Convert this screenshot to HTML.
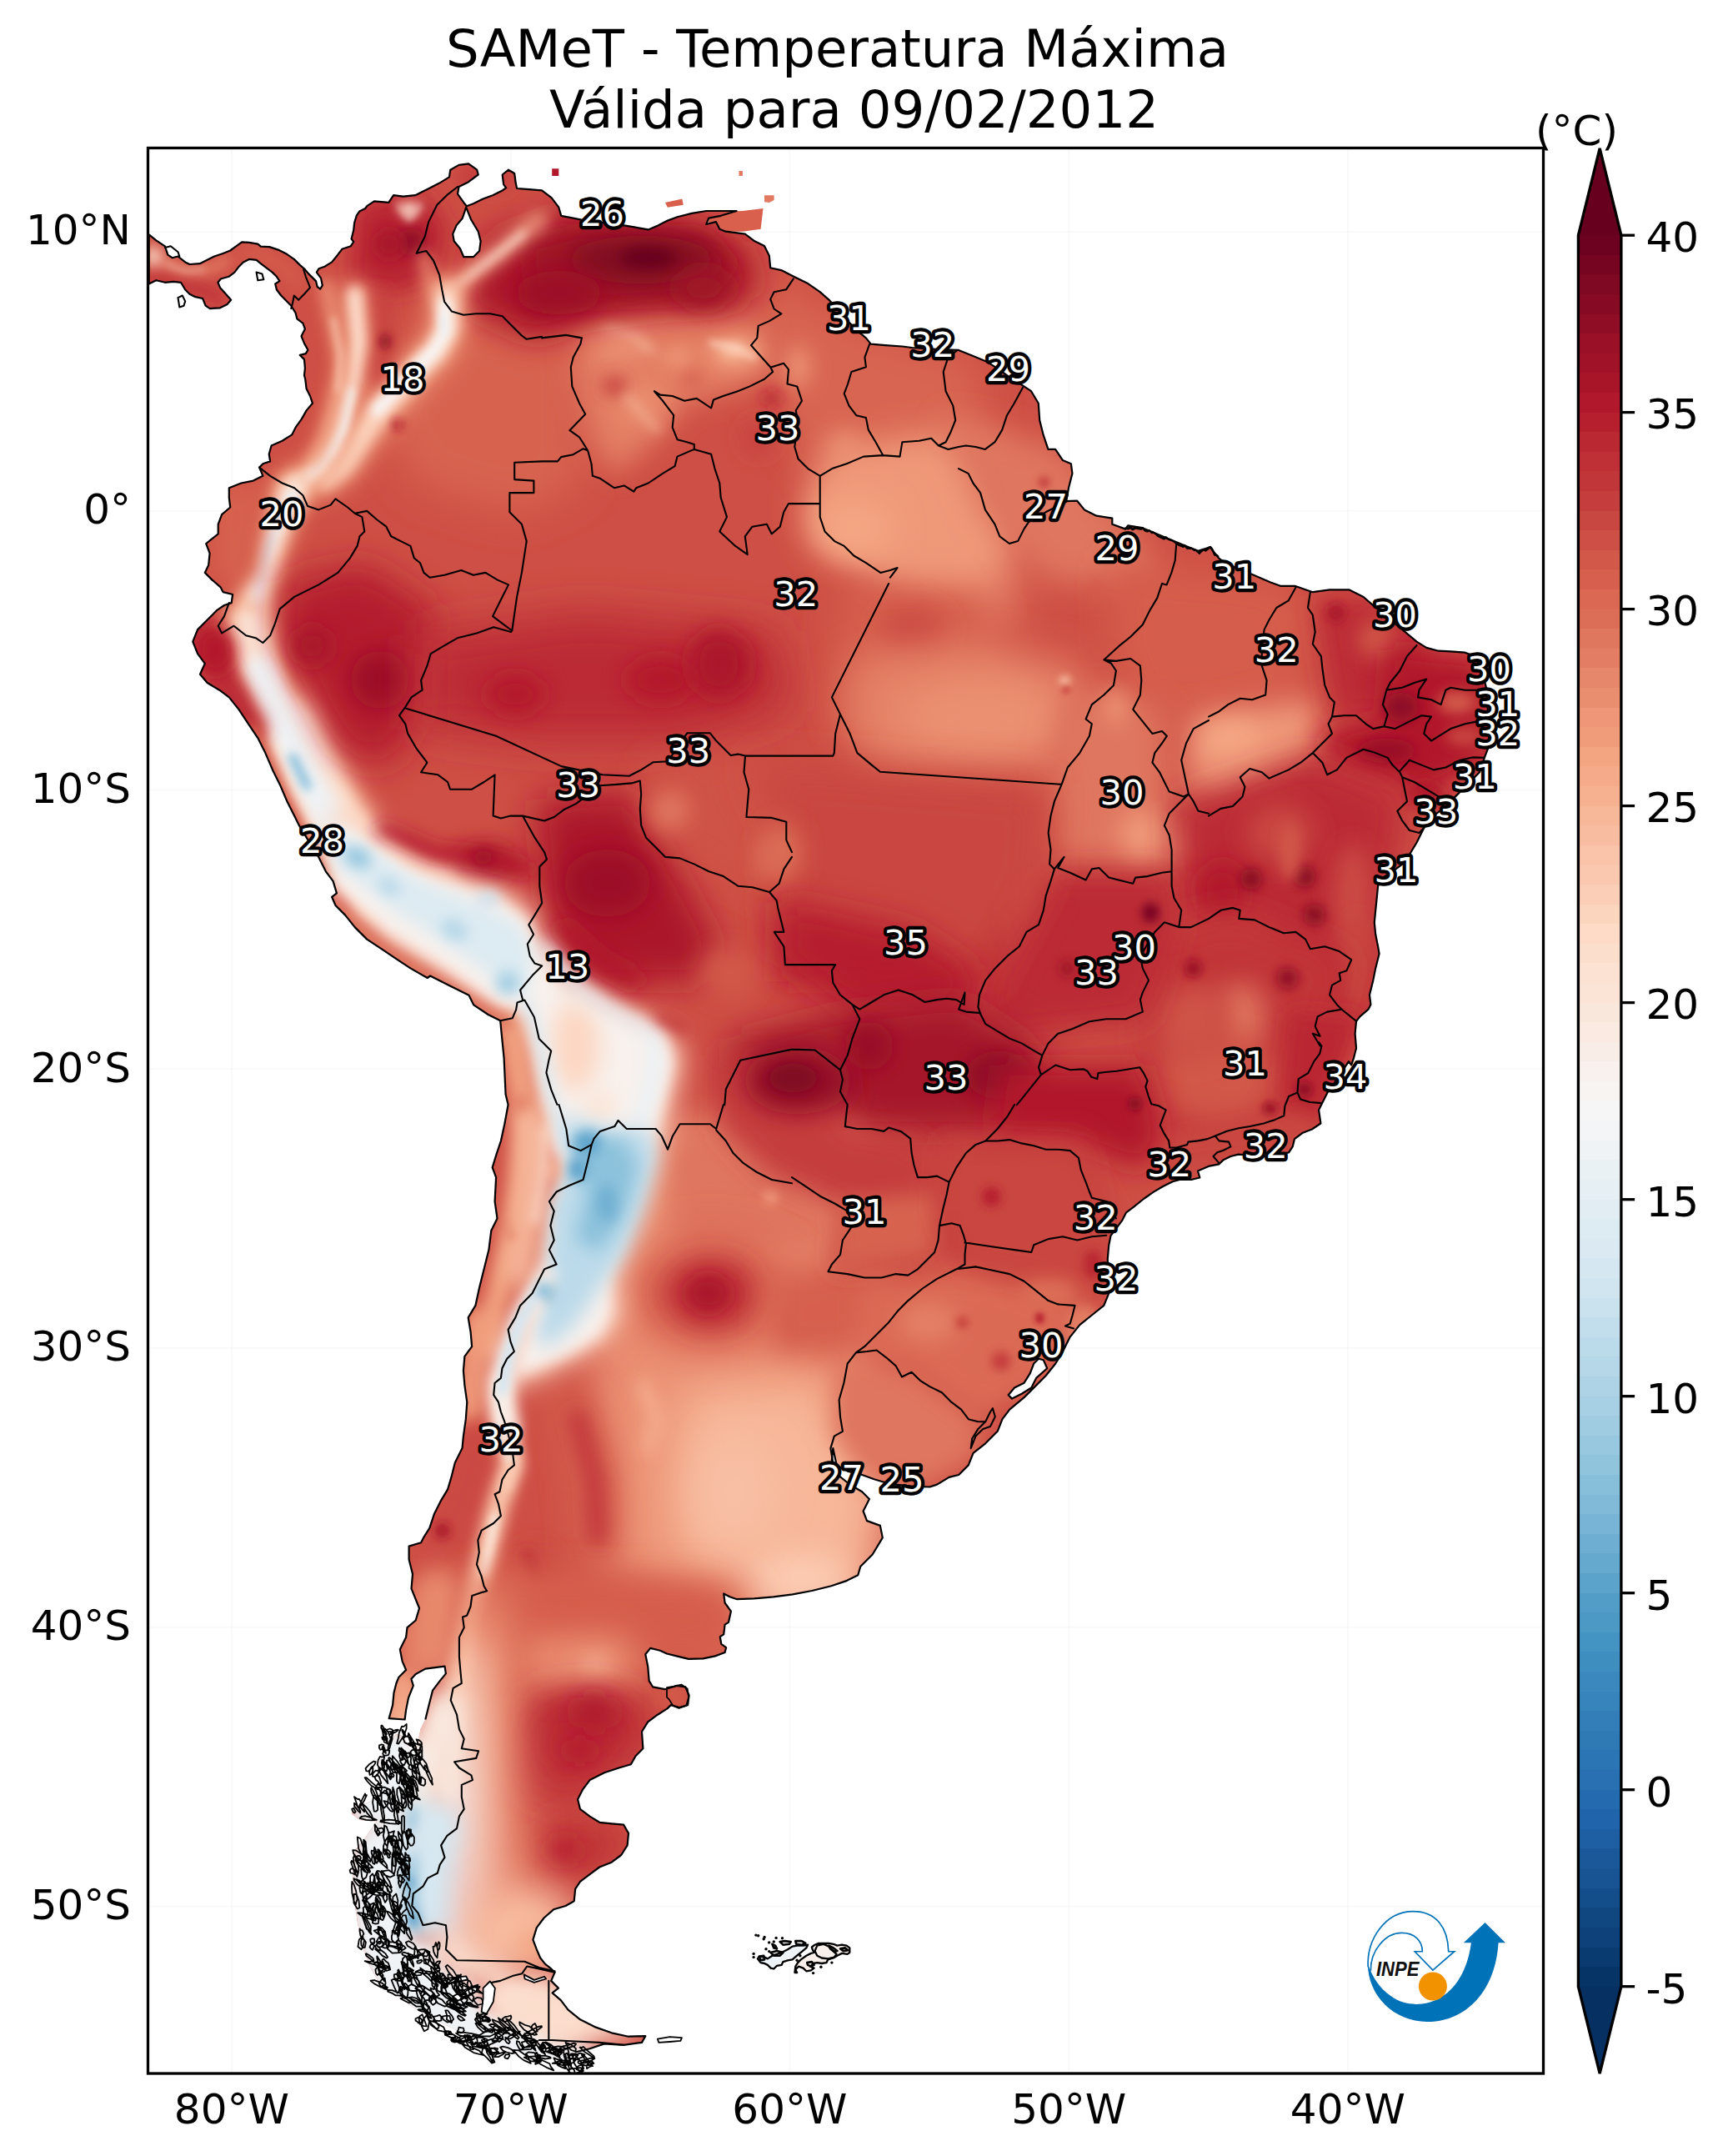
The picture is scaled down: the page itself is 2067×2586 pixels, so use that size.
<!DOCTYPE html><html><head><meta charset="utf-8"><title>SAMeT - Temperatura Máxima</title>
<style>html,body{margin:0;padding:0;background:#fff;overflow:hidden}svg{display:block}text{font-family:"DejaVu Sans","Liberation Sans",sans-serif}</style></head><body>
<svg width="2067" height="2586" viewBox="0 0 2067 2586">
<rect width="2067" height="2586" fill="#fff"/>
<defs>
<clipPath id="ax"><rect x="177.5" y="177.5" width="1674.0" height="2309.5"/></clipPath>
<clipPath id="land" clip-rule="evenodd"><path d="M178.7,281.3 L187.4,288.3 L197.9,295.3 L201.3,305.7 L206.6,309.2 L213.5,307.5 L222.2,314.4 L227.5,317.0 L239.7,316.2 L246.6,312.7 L257.1,307.5 L267.5,304.0 L276.2,300.5 L283.2,295.3 L290.1,290.4 L298.9,290.9 L309.3,292.7 L312.8,295.6 L323.2,296.1 L333.7,299.6 L344.1,304.8 L352.8,310.9 L359.8,317.9 L365.0,322.3 L370.2,328.4 L375.5,333.6 L379.0,337.1 L380.7,344.0 L384.2,346.6 L386.8,342.3 L385.0,333.6 L379.8,326.6 L382.4,322.3 L389.4,319.7 L398.1,314.4 L405.1,305.7 L410.3,298.8 L420.7,295.3 L424.2,290.0 L421.6,286.6 L424.2,276.1 L425.1,267.4 L427.7,258.7 L431.2,253.5 L438.2,250.0 L440.2,247.2 L448.9,241.4 L466.3,242.9 L472.1,234.2 L483.7,235.6 L498.2,234.2 L512.7,226.9 L527.2,219.6 L538.9,212.4 L540.3,203.7 L550.5,197.9 L562.1,196.4 L572.2,203.7 L573.7,209.5 L562.1,218.2 L550.5,224.0 L549.0,232.7 L556.3,242.9 L559.8,247.2 L567.9,244.3 L579.5,238.5 L591.1,234.2 L602.7,228.4 L607.1,225.4 L604.1,221.1 L602.7,209.5 L610.0,203.7 L617.2,208.0 L618.7,219.6 L620.1,226.0 L631.7,226.9 L650.0,228.4 L661.6,237.1 L670.3,248.7 L673.2,258.8 L687.7,261.7 L702.2,264.6 L725.4,267.5 L748.7,270.4 L766.1,273.3 L777.7,275.4 L789.3,270.4 L800.9,264.6 L812.5,260.3 L829.9,255.9 L847.3,253.0 L870.5,253.0 L883.6,253.0 L864.7,258.8 L850.2,261.7 L847.3,269.0 L858.9,266.1 L863.3,274.8 L870.5,277.7 L882.2,279.1 L893.8,280.6 L905.4,289.3 L917.0,295.1 L922.8,306.7 L924.2,321.2 L937.3,324.1 L951.8,331.4 L969.2,340.1 L983.7,350.2 L995.3,360.4 L1006.9,373.4 L1018.5,386.5 L1030.2,398.1 L1038.9,405.4 L1044.7,412.6 L1062.1,414.1 L1082.4,415.5 L1094.0,417.0 L1114.3,418.4 L1131.7,419.3 L1150.0,419.9 L1167.4,427.1 L1181.9,432.9 L1196.4,441.6 L1212.4,453.3 L1228.4,463.4 L1237.1,469.2 L1245.8,483.7 L1247.2,504.0 L1251.6,521.4 L1257.4,538.9 L1266.1,538.9 L1274.8,551.9 L1284.9,556.3 L1286.4,567.9 L1282.0,585.3 L1279.1,601.2 L1292.2,600.7 L1300.9,611.4 L1315.4,618.7 L1334.3,621.6 L1334.3,628.8 L1350.2,634.6 L1353.1,630.3 L1370.5,633.2 L1388.0,640.4 L1405.4,647.7 L1422.8,654.9 L1437.3,660.7 L1451.8,656.4 L1462.0,669.4 L1469.2,675.2 L1486.6,682.5 L1504.0,689.8 L1524.3,698.5 L1536.0,702.8 L1553.4,702.8 L1574.8,710.2 L1595.1,707.3 L1618.3,707.3 L1635.7,716.0 L1647.3,726.1 L1664.7,740.6 L1682.2,755.1 L1699.6,769.6 L1711.2,776.9 L1725.7,780.7 L1740.2,781.3 L1757.6,782.7 L1769.2,787.1 L1776.5,801.6 L1780.8,816.1 L1783.7,827.7 L1783.7,839.3 L1786.0,862.5 L1786.6,879.9 L1785.2,897.3 L1780.8,908.9 L1775.0,926.3 L1764.9,936.5 L1754.7,946.7 L1746.0,955.4 L1734.4,967.0 L1719.9,978.6 L1708.3,993.1 L1699.6,1010.5 L1690.9,1025.0 L1682.2,1036.6 L1670.5,1045.3 L1658.9,1052.6 L1653.1,1062.7 L1651.7,1077.2 L1650.2,1091.8 L1648.8,1106.3 L1650.2,1120.8 L1653.1,1135.3 L1654.6,1144.0 L1650.2,1161.4 L1647.3,1175.9 L1643.0,1193.3 L1644.4,1204.9 L1641.5,1210.7 L1631.4,1219.4 L1627.0,1225.2 L1625.6,1239.8 L1627.0,1257.2 L1624.1,1268.8 L1621.2,1277.5 L1618.0,1273.2 L1604.1,1294.1 L1592.5,1310.4 L1586.7,1322.0 L1582.1,1331.3 L1584.4,1347.5 L1573.9,1354.5 L1562.3,1359.1 L1553.0,1366.1 L1550.7,1375.4 L1546.1,1382.3 L1532.2,1384.6 L1515.9,1386.5 L1499.7,1385.8 L1485.7,1384.6 L1476.4,1387.0 L1467.2,1391.6 L1462.5,1396.3 L1450.9,1398.6 L1437.0,1404.4 L1439.3,1412.5 L1430.0,1414.8 L1416.1,1414.8 L1406.8,1417.2 L1395.2,1423.0 L1383.6,1429.9 L1372.0,1438.0 L1360.4,1447.3 L1351.1,1454.3 L1346.4,1463.6 L1339.5,1472.9 L1332.5,1482.2 L1330.2,1493.8 L1328.7,1510.7 L1330.2,1531.0 L1330.2,1551.3 L1324.3,1565.9 L1309.8,1577.5 L1295.3,1589.1 L1283.7,1603.6 L1275.0,1621.0 L1266.3,1635.5 L1254.7,1650.0 L1243.1,1661.6 L1228.6,1676.1 L1211.2,1690.6 L1202.5,1702.2 L1196.7,1716.8 L1182.2,1731.3 L1167.6,1742.9 L1161.8,1757.4 L1150.2,1769.0 L1138.6,1771.9 L1124.1,1780.6 L1115.4,1783.5 L1095.1,1782.9 L1074.8,1780.6 L1060.3,1777.7 L1048.7,1774.2 L1034.2,1769.0 L1016.7,1764.6 L1003.7,1757.4 L999.3,1737.1 L997.9,1751.6 L1005.1,1769.0 L1019.6,1780.6 L1034.2,1789.3 L1042.9,1798.0 L1035.6,1812.5 L1040.0,1824.1 L1055.9,1829.9 L1058.8,1844.4 L1046.7,1864.5 L1032.2,1879.0 L1029.3,1889.2 L1014.7,1896.4 L997.3,1902.2 L974.1,1908.0 L950.9,1912.4 L927.7,1915.3 L904.5,1917.3 L884.2,1918.2 L875.4,1915.3 L868.2,1911.5 L869.6,1922.5 L876.9,1932.7 L874.0,1945.8 L869.6,1948.7 L868.2,1960.3 L863.8,1963.2 L865.3,1971.9 L871.1,1976.2 L869.6,1982.0 L858.0,1986.4 L843.5,1989.3 L826.1,1989.9 L811.6,1986.4 L800.0,1983.5 L791.8,1979.8 L780.2,1976.9 L774.3,1984.2 L777.2,1998.7 L778.7,2016.1 L783.1,2023.3 L797.6,2026.2 L812.1,2021.9 L822.2,2023.3 L826.6,2033.5 L825.1,2045.1 L815.0,2048.0 L804.8,2045.1 L800.5,2049.4 L788.9,2056.7 L777.2,2065.4 L770.0,2077.0 L771.4,2097.3 L762.7,2106.0 L756.9,2116.2 L742.4,2120.5 L725.0,2126.3 L707.6,2135.1 L698.9,2146.7 L693.1,2158.3 L696.0,2169.9 L707.6,2178.6 L719.2,2185.8 L733.7,2187.3 L748.2,2188.7 L754.0,2198.9 L752.6,2213.4 L745.3,2225.0 L733.7,2233.7 L719.2,2239.5 L707.6,2248.2 L696.0,2256.9 L690.2,2265.6 L688.7,2280.2 L678.6,2286.0 L664.1,2290.3 L652.5,2300.5 L643.8,2312.1 L639.4,2326.6 L643.8,2338.2 L648.1,2348.3 L653.9,2355.6 L661.2,2361.4 L665.5,2365.8 L661.2,2375.9 L669.9,2384.6 L662.6,2390.4 L672.8,2399.1 L681.5,2410.7 L696.0,2422.3 L713.4,2431.1 L733.7,2438.3 L754.0,2442.7 L774.3,2442.1 L770.0,2449.9 L748.2,2452.8 L725.0,2451.4 L707.6,2457.2 L690.2,2461.5 L678.6,2473.1 L661.2,2468.8 L638.0,2465.9 L614.7,2460.1 L588.6,2451.4 L562.5,2442.7 L539.3,2431.1 L516.1,2419.4 L495.8,2407.8 L475.4,2393.3 L455.1,2378.8 L443.5,2358.5 L434.8,2335.3 L429.0,2306.3 L424.7,2277.2 L423.2,2248.2 L426.1,2219.2 L437.7,2204.7 L452.2,2184.4 L431.9,2182.9 L421.8,2175.7 L426.1,2167.0 L443.5,2161.2 L458.0,2146.7 L460.9,2126.3 L455.1,2114.7 L463.8,2091.5 L475.4,2079.9 L484.2,2082.8 L492.9,2103.1 L501.6,2088.6 L504.5,2074.1 L510.3,2062.5 L514.6,2045.1 L519.0,2027.7 L527.7,2016.1 L534.9,2007.4 L533.5,1998.7 L521.9,2000.1 L510.3,2001.6 L498.7,2008.0 L493.4,2013.8 L495.8,2021.9 L490.0,2036.4 L487.1,2050.9 L485.6,2062.5 L466.7,2061.1 L471.1,2045.1 L472.5,2030.6 L475.4,2019.0 L478.4,2011.7 L487.1,2003.0 L482.7,1992.9 L479.8,1978.4 L487.1,1963.8 L488.5,1952.2 L498.7,1943.5 L503.0,1929.0 L493.5,1905.4 L495.0,1888.0 L490.6,1870.6 L490.6,1854.6 L505.1,1850.2 L508.0,1844.4 L515.3,1832.8 L521.1,1815.4 L528.4,1800.9 L537.1,1786.4 L541.4,1771.9 L545.8,1754.5 L554.5,1737.1 L555.9,1722.6 L558.8,1702.2 L560.3,1681.9 L557.4,1661.6 L555.9,1644.2 L557.4,1626.8 L566.1,1615.2 L564.6,1597.8 L561.7,1580.4 L570.4,1565.9 L574.8,1545.5 L580.6,1522.3 L586.4,1499.1 L589.3,1475.9 L596.5,1461.4 L593.6,1441.1 L595.1,1412.1 L590.7,1400.4 L595.1,1385.9 L600.9,1368.5 L605.3,1348.2 L609.6,1325.0 L606.6,1312.7 L604.6,1269.2 L601.7,1240.2 L600.2,1224.2 L585.7,1217.0 L568.3,1205.4 L562.5,1193.8 L539.3,1182.2 L516.1,1170.5 L512.7,1173.0 L492.4,1161.4 L475.0,1149.8 L457.6,1138.2 L440.2,1126.6 L425.7,1112.1 L414.1,1097.6 L402.5,1086.0 L398.1,1075.8 L403.9,1071.4 L399.6,1056.9 L390.9,1045.3 L382.2,1027.9 L370.5,1009.1 L358.9,990.2 L353.1,978.6 L344.4,961.2 L335.7,940.9 L327.0,923.4 L318.3,903.1 L309.6,885.7 L298.0,868.3 L286.4,850.9 L274.8,836.4 L263.2,827.7 L248.7,819.0 L240.0,808.8 L245.8,795.8 L237.1,784.2 L231.3,769.6 L237.1,755.1 L248.7,743.5 L260.3,731.9 L269.0,726.0 L277.7,723.1 L279.1,713.0 L267.5,710.1 L264.6,704.3 L254.5,695.6 L245.8,686.9 L250.1,678.1 L251.6,663.6 L247.2,652.0 L254.5,646.2 L261.7,640.4 L261.7,628.8 L266.1,617.2 L276.2,608.5 L274.8,596.9 L274.8,585.3 L289.3,579.5 L303.8,576.6 L315.4,570.8 L311.1,560.6 L315.4,556.3 L324.1,553.4 L322.7,544.7 L325.6,534.5 L338.6,528.7 L350.2,521.4 L354.6,512.7 L361.8,502.6 L367.6,492.4 L374.9,483.7 L372.0,475.0 L367.6,466.3 L366.2,454.7 L365.0,450.1 L365.9,441.5 L365.0,431.1 L359.8,425.9 L366.8,424.1 L369.4,419.8 L365.0,411.9 L361.5,403.2 L365.9,394.5 L363.3,387.6 L356.3,382.3 L354.6,375.4 L349.3,366.7 L344.1,361.4 L337.2,354.5 L331.9,347.5 L330.2,340.5 L335.4,337.1 L331.9,331.8 L326.7,326.6 L319.7,321.4 L312.8,316.2 L307.6,311.8 L298.9,310.9 L291.9,314.4 L286.7,319.7 L281.4,326.6 L274.5,331.8 L264.9,334.5 L261.4,338.8 L264.0,344.9 L271.0,352.7 L277.1,359.7 L272.7,364.9 L264.0,369.3 L251.8,370.1 L246.6,366.7 L243.1,358.0 L234.4,356.2 L227.5,352.7 L222.2,347.5 L217.0,338.8 L208.3,337.9 L197.9,338.8 L187.4,336.2 L178.7,340.5Z M559.2,248.7 L565.0,263.2 L573.7,277.7 L576.6,289.3 L575.1,300.9 L567.9,308.2 L556.3,308.2 L551.9,298.0 L544.7,289.3 L543.2,280.6 L547.6,270.4 L554.8,261.7Z M1251.8,1631.2 L1256.2,1641.3 L1243.1,1652.9 L1237.3,1664.5 L1225.7,1671.8 L1214.1,1677.6 L1209.7,1673.2 L1217.0,1664.5 L1228.6,1658.7 L1235.8,1647.1 L1240.2,1635.5 L1246.0,1629.7Z" clip-rule="evenodd"/></clipPath>
<filter id="b2" x="-50%" y="-50%" width="200%" height="200%"><feGaussianBlur stdDeviation="2"/></filter>
<filter id="b3" x="-50%" y="-50%" width="200%" height="200%"><feGaussianBlur stdDeviation="3"/></filter>
<filter id="b4" x="-50%" y="-50%" width="200%" height="200%"><feGaussianBlur stdDeviation="4"/></filter>
<filter id="b5" x="-50%" y="-50%" width="200%" height="200%"><feGaussianBlur stdDeviation="5"/></filter>
<filter id="b6" x="-50%" y="-50%" width="200%" height="200%"><feGaussianBlur stdDeviation="6"/></filter>
<filter id="b7" x="-50%" y="-50%" width="200%" height="200%"><feGaussianBlur stdDeviation="7"/></filter>
<filter id="b8" x="-50%" y="-50%" width="200%" height="200%"><feGaussianBlur stdDeviation="8"/></filter>
<filter id="b9" x="-50%" y="-50%" width="200%" height="200%"><feGaussianBlur stdDeviation="9"/></filter>
<filter id="b10" x="-50%" y="-50%" width="200%" height="200%"><feGaussianBlur stdDeviation="10"/></filter>
<filter id="b12" x="-50%" y="-50%" width="200%" height="200%"><feGaussianBlur stdDeviation="12"/></filter>
<filter id="b14" x="-50%" y="-50%" width="200%" height="200%"><feGaussianBlur stdDeviation="14"/></filter>
<filter id="b16" x="-50%" y="-50%" width="200%" height="200%"><feGaussianBlur stdDeviation="16"/></filter>
<filter id="b18" x="-50%" y="-50%" width="200%" height="200%"><feGaussianBlur stdDeviation="18"/></filter>
<filter id="b20" x="-50%" y="-50%" width="200%" height="200%"><feGaussianBlur stdDeviation="20"/></filter>
<filter id="b22" x="-50%" y="-50%" width="200%" height="200%"><feGaussianBlur stdDeviation="22"/></filter>
<filter id="b24" x="-50%" y="-50%" width="200%" height="200%"><feGaussianBlur stdDeviation="24"/></filter>
<filter id="b26" x="-50%" y="-50%" width="200%" height="200%"><feGaussianBlur stdDeviation="26"/></filter>
<filter id="b28" x="-50%" y="-50%" width="200%" height="200%"><feGaussianBlur stdDeviation="28"/></filter>
<filter id="b30" x="-50%" y="-50%" width="200%" height="200%"><feGaussianBlur stdDeviation="30"/></filter>
<filter id="b32" x="-50%" y="-50%" width="200%" height="200%"><feGaussianBlur stdDeviation="32"/></filter>
<filter id="b48" x="-50%" y="-50%" width="200%" height="200%"><feGaussianBlur stdDeviation="48"/></filter>
</defs>
<g clip-path="url(#ax)">
<line x1="277.9" x2="277.9" y1="177.5" y2="2487.0" stroke="#000" stroke-opacity="0.025" stroke-width="2"/>
<line x1="612.7" x2="612.7" y1="177.5" y2="2487.0" stroke="#000" stroke-opacity="0.025" stroke-width="2"/>
<line x1="947.4" x2="947.4" y1="177.5" y2="2487.0" stroke="#000" stroke-opacity="0.025" stroke-width="2"/>
<line x1="1282.2" x2="1282.2" y1="177.5" y2="2487.0" stroke="#000" stroke-opacity="0.025" stroke-width="2"/>
<line x1="1616.9" x2="1616.9" y1="177.5" y2="2487.0" stroke="#000" stroke-opacity="0.025" stroke-width="2"/>
<line y1="277.9" y2="277.9" x1="177.5" x2="1851.5" stroke="#000" stroke-opacity="0.025" stroke-width="2"/>
<line y1="612.7" y2="612.7" x1="177.5" x2="1851.5" stroke="#000" stroke-opacity="0.025" stroke-width="2"/>
<line y1="947.4" y2="947.4" x1="177.5" x2="1851.5" stroke="#000" stroke-opacity="0.025" stroke-width="2"/>
<line y1="1282.2" y2="1282.2" x1="177.5" x2="1851.5" stroke="#000" stroke-opacity="0.025" stroke-width="2"/>
<line y1="1616.9" y2="1616.9" x1="177.5" x2="1851.5" stroke="#000" stroke-opacity="0.025" stroke-width="2"/>
<line y1="1951.7" y2="1951.7" x1="177.5" x2="1851.5" stroke="#000" stroke-opacity="0.025" stroke-width="2"/>
<line y1="2286.4" y2="2286.4" x1="177.5" x2="1851.5" stroke="#000" stroke-opacity="0.025" stroke-width="2"/>
<path d="M850.2,254.5 L890.9,253.0 L915.5,250.1 L912.6,274.8 L890.9,277.7 L864.7,277.7 L850.2,269.0Z" fill="#d9604c"/>
<path d="M917.0,234.2 L928.6,234.2 L928.6,240.0 L922.8,242.9 L917.0,242.3Z" fill="#e27a62"/>
<path d="M662.2,202.2 L670.3,202.2 L670.3,210.9 L662.2,210.9Z" fill="#b2182b"/>
<path d="M886.5,205.1 L890.9,205.1 L890.9,210.9 L886.5,210.9Z" fill="#e27a62"/>
<path d="M798.0,242.9 L818.3,238.5 L819.8,245.8 L800.9,248.7Z" fill="#d9604c"/>
<g clip-path="url(#land)">
<rect x="177.5" y="177.5" width="1674.0" height="2309.5" fill="#ce4f45"/>
<defs><filter id="f1" filterUnits="userSpaceOnUse" x="376" y="295" width="398" height="398"><feGaussianBlur stdDeviation="24"/></filter><filter id="f2" filterUnits="userSpaceOnUse" x="828" y="248" width="423" height="409"><feGaussianBlur stdDeviation="24"/></filter><filter id="f3" filterUnits="userSpaceOnUse" x="898" y="439" width="398" height="404"><feGaussianBlur stdDeviation="28"/></filter><filter id="f4" filterUnits="userSpaceOnUse" x="898" y="480" width="276" height="276"><feGaussianBlur stdDeviation="24"/></filter><filter id="f5" filterUnits="userSpaceOnUse" x="638" y="315" width="338" height="306"><feGaussianBlur stdDeviation="16"/></filter><filter id="f6" filterUnits="userSpaceOnUse" x="812" y="353" width="140" height="140"><feGaussianBlur stdDeviation="12"/></filter><filter id="f7" filterUnits="userSpaceOnUse" x="842" y="382" width="75" height="75"><feGaussianBlur stdDeviation="7"/></filter><filter id="f8" filterUnits="userSpaceOnUse" x="670" y="335" width="152" height="152"><feGaussianBlur stdDeviation="14"/></filter><filter id="f9" filterUnits="userSpaceOnUse" x="693" y="411" width="146" height="146"><feGaussianBlur stdDeviation="14"/></filter><filter id="f10" filterUnits="userSpaceOnUse" x="893" y="376" width="128" height="128"><feGaussianBlur stdDeviation="12"/></filter><filter id="f11" filterUnits="userSpaceOnUse" x="763" y="379" width="99" height="99"><feGaussianBlur stdDeviation="10"/></filter><filter id="f12" filterUnits="userSpaceOnUse" x="691" y="417" width="93" height="93"><feGaussianBlur stdDeviation="10"/></filter><filter id="f13" filterUnits="userSpaceOnUse" x="786" y="411" width="87" height="87"><feGaussianBlur stdDeviation="10"/></filter><filter id="f14" filterUnits="userSpaceOnUse" x="699" y="364" width="108" height="82"><feGaussianBlur stdDeviation="7"/></filter><filter id="f15" filterUnits="userSpaceOnUse" x="834" y="392" width="91" height="57"><feGaussianBlur stdDeviation="5"/></filter><filter id="f16" filterUnits="userSpaceOnUse" x="726" y="449" width="90" height="92"><feGaussianBlur stdDeviation="7"/></filter><filter id="f17" filterUnits="userSpaceOnUse" x="885" y="437" width="81" height="81"><feGaussianBlur stdDeviation="9"/></filter><filter id="f18" filterUnits="userSpaceOnUse" x="850" y="463" width="123" height="123"><feGaussianBlur stdDeviation="14"/></filter><filter id="f19" filterUnits="userSpaceOnUse" x="948" y="472" width="129" height="129"><feGaussianBlur stdDeviation="14"/></filter><filter id="f20" filterUnits="userSpaceOnUse" x="486" y="190" width="490" height="281"><feGaussianBlur stdDeviation="20"/></filter><filter id="f21" filterUnits="userSpaceOnUse" x="586" y="232" width="343" height="181"><feGaussianBlur stdDeviation="14"/></filter><filter id="f22" filterUnits="userSpaceOnUse" x="638" y="181" width="262" height="262"><feGaussianBlur stdDeviation="14"/></filter><filter id="f23" filterUnits="userSpaceOnUse" x="717" y="249" width="122" height="122"><feGaussianBlur stdDeviation="8"/></filter><filter id="f24" filterUnits="userSpaceOnUse" x="574" y="255" width="192" height="192"><feGaussianBlur stdDeviation="14"/></filter><filter id="f25" filterUnits="userSpaceOnUse" x="766" y="266" width="158" height="158"><feGaussianBlur stdDeviation="14"/></filter><filter id="f26" filterUnits="userSpaceOnUse" x="377" y="185" width="204" height="210"><feGaussianBlur stdDeviation="14"/></filter><filter id="f27" filterUnits="userSpaceOnUse" x="451" y="248" width="85" height="85"><feGaussianBlur stdDeviation="8"/></filter><filter id="f28" filterUnits="userSpaceOnUse" x="424" y="250" width="87" height="87"><feGaussianBlur stdDeviation="8"/></filter><filter id="f29" filterUnits="userSpaceOnUse" x="516" y="145" width="134" height="134"><feGaussianBlur stdDeviation="10"/></filter><filter id="f30" filterUnits="userSpaceOnUse" x="145" y="298" width="154" height="98"><feGaussianBlur stdDeviation="9"/></filter><filter id="f31" filterUnits="userSpaceOnUse" x="151" y="273" width="153" height="81"><feGaussianBlur stdDeviation="8"/></filter><filter id="f32" filterUnits="userSpaceOnUse" x="146" y="269" width="76" height="76"><feGaussianBlur stdDeviation="8"/></filter><filter id="f33" filterUnits="userSpaceOnUse" x="184" y="302" width="76" height="38"><feGaussianBlur stdDeviation="4"/></filter><filter id="f34" filterUnits="userSpaceOnUse" x="259" y="269" width="133" height="105"><feGaussianBlur stdDeviation="9"/></filter><filter id="f35" filterUnits="userSpaceOnUse" x="498" y="222" width="192" height="168"><feGaussianBlur stdDeviation="10"/></filter><filter id="f36" filterUnits="userSpaceOnUse" x="519" y="256" width="133" height="115"><feGaussianBlur stdDeviation="6"/></filter><filter id="f37" filterUnits="userSpaceOnUse" x="474" y="272" width="88" height="122"><feGaussianBlur stdDeviation="9"/></filter><filter id="f38" filterUnits="userSpaceOnUse" x="322" y="287" width="281" height="352"><feGaussianBlur stdDeviation="14"/></filter><filter id="f39" filterUnits="userSpaceOnUse" x="348" y="313" width="229" height="300"><feGaussianBlur stdDeviation="8"/></filter><filter id="f40" filterUnits="userSpaceOnUse" x="424" y="337" width="138" height="183"><feGaussianBlur stdDeviation="6"/></filter><filter id="f41" filterUnits="userSpaceOnUse" x="514" y="363" width="35" height="52"><feGaussianBlur stdDeviation="4"/></filter><filter id="f42" filterUnits="userSpaceOnUse" x="288" y="299" width="196" height="352"><feGaussianBlur stdDeviation="12"/></filter><filter id="f43" filterUnits="userSpaceOnUse" x="309" y="321" width="153" height="308"><feGaussianBlur stdDeviation="7"/></filter><filter id="f44" filterUnits="userSpaceOnUse" x="331" y="447" width="111" height="160"><feGaussianBlur stdDeviation="5"/></filter><filter id="f45" filterUnits="userSpaceOnUse" x="340" y="305" width="107" height="287"><feGaussianBlur stdDeviation="9"/></filter><filter id="f46" filterUnits="userSpaceOnUse" x="380" y="363" width="47" height="126"><feGaussianBlur stdDeviation="5"/></filter><filter id="f47" filterUnits="userSpaceOnUse" x="415" y="314" width="87" height="180"><feGaussianBlur stdDeviation="10"/></filter><filter id="f48" filterUnits="userSpaceOnUse" x="433" y="381" width="57" height="57"><feGaussianBlur stdDeviation="6"/></filter><filter id="f49" filterUnits="userSpaceOnUse" x="449" y="484" width="51" height="51"><feGaussianBlur stdDeviation="5"/></filter><filter id="f50" filterUnits="userSpaceOnUse" x="463" y="489" width="42" height="42"><feGaussianBlur stdDeviation="4"/></filter><filter id="f51" filterUnits="userSpaceOnUse" x="453" y="213" width="75" height="75"><feGaussianBlur stdDeviation="8"/></filter><filter id="f52" filterUnits="userSpaceOnUse" x="469" y="228" width="43" height="43"><feGaussianBlur stdDeviation="5"/></filter><filter id="f53" filterUnits="userSpaceOnUse" x="459" y="227" width="64" height="55"><feGaussianBlur stdDeviation="5"/></filter><filter id="f54" filterUnits="userSpaceOnUse" x="243" y="526" width="170" height="323"><feGaussianBlur stdDeviation="12"/></filter><filter id="f55" filterUnits="userSpaceOnUse" x="261" y="544" width="133" height="285"><feGaussianBlur stdDeviation="8"/></filter><filter id="f56" filterUnits="userSpaceOnUse" x="280" y="571" width="94" height="206"><feGaussianBlur stdDeviation="5"/></filter><filter id="f57" filterUnits="userSpaceOnUse" x="300" y="628" width="40" height="61"><feGaussianBlur stdDeviation="4"/></filter><filter id="f58" filterUnits="userSpaceOnUse" x="203" y="533" width="163" height="210"><feGaussianBlur stdDeviation="14"/></filter><filter id="f59" filterUnits="userSpaceOnUse" x="232" y="680" width="185" height="261"><feGaussianBlur stdDeviation="12"/></filter><filter id="f60" filterUnits="userSpaceOnUse" x="261" y="786" width="277" height="361"><feGaussianBlur stdDeviation="14"/></filter><filter id="f61" filterUnits="userSpaceOnUse" x="255" y="704" width="137" height="214"><feGaussianBlur stdDeviation="8"/></filter><filter id="f62" filterUnits="userSpaceOnUse" x="287" y="813" width="223" height="308"><feGaussianBlur stdDeviation="9"/></filter><filter id="f63" filterUnits="userSpaceOnUse" x="268" y="760" width="225" height="348"><feGaussianBlur stdDeviation="8"/></filter><filter id="f64" filterUnits="userSpaceOnUse" x="326" y="883" width="68" height="85"><feGaussianBlur stdDeviation="6"/></filter><filter id="f65" filterUnits="userSpaceOnUse" x="379" y="976" width="84" height="96"><feGaussianBlur stdDeviation="7"/></filter><filter id="f66" filterUnits="userSpaceOnUse" x="187" y="707" width="165" height="217"><feGaussianBlur stdDeviation="10"/></filter><filter id="f67" filterUnits="userSpaceOnUse" x="197" y="720" width="122" height="122"><feGaussianBlur stdDeviation="10"/></filter><filter id="f68" filterUnits="userSpaceOnUse" x="267" y="845" width="174" height="269"><feGaussianBlur stdDeviation="7"/></filter><filter id="f69" filterUnits="userSpaceOnUse" x="363" y="1038" width="91" height="91"><feGaussianBlur stdDeviation="8"/></filter><filter id="f70" filterUnits="userSpaceOnUse" x="266" y="608" width="328" height="380"><feGaussianBlur stdDeviation="22"/></filter><filter id="f71" filterUnits="userSpaceOnUse" x="377" y="737" width="158" height="158"><feGaussianBlur stdDeviation="14"/></filter><filter id="f72" filterUnits="userSpaceOnUse" x="313" y="714" width="122" height="122"><feGaussianBlur stdDeviation="12"/></filter><filter id="f73" filterUnits="userSpaceOnUse" x="499" y="951" width="169" height="169"><feGaussianBlur stdDeviation="14"/></filter><filter id="f74" filterUnits="userSpaceOnUse" x="422" y="654" width="607" height="317"><feGaussianBlur stdDeviation="26"/></filter><filter id="f75" filterUnits="userSpaceOnUse" x="539" y="754" width="158" height="158"><feGaussianBlur stdDeviation="14"/></filter><filter id="f76" filterUnits="userSpaceOnUse" x="708" y="731" width="169" height="169"><feGaussianBlur stdDeviation="14"/></filter><filter id="f77" filterUnits="userSpaceOnUse" x="795" y="725" width="146" height="146"><feGaussianBlur stdDeviation="14"/></filter><filter id="f78" filterUnits="userSpaceOnUse" x="573" y="881" width="357" height="364"><feGaussianBlur stdDeviation="22"/></filter><filter id="f79" filterUnits="userSpaceOnUse" x="626" y="957" width="204" height="204"><feGaussianBlur stdDeviation="16"/></filter><filter id="f80" filterUnits="userSpaceOnUse" x="719" y="852" width="286" height="286"><feGaussianBlur stdDeviation="18"/></filter><filter id="f81" filterUnits="userSpaceOnUse" x="743" y="911" width="122" height="122"><feGaussianBlur stdDeviation="12"/></filter><filter id="f82" filterUnits="userSpaceOnUse" x="859" y="963" width="134" height="134"><feGaussianBlur stdDeviation="12"/></filter><filter id="f83" filterUnits="userSpaceOnUse" x="863" y="980" width="426" height="265"><feGaussianBlur stdDeviation="22"/></filter><filter id="f84" filterUnits="userSpaceOnUse" x="927" y="614" width="369" height="386"><feGaussianBlur stdDeviation="24"/></filter><filter id="f85" filterUnits="userSpaceOnUse" x="916" y="455" width="362" height="310"><feGaussianBlur stdDeviation="22"/></filter><filter id="f86" filterUnits="userSpaceOnUse" x="923" y="531" width="205" height="205"><feGaussianBlur stdDeviation="18"/></filter><filter id="f87" filterUnits="userSpaceOnUse" x="1074" y="444" width="379" height="321"><feGaussianBlur stdDeviation="18"/></filter><filter id="f88" filterUnits="userSpaceOnUse" x="1229" y="554" width="48" height="48"><feGaussianBlur stdDeviation="5"/></filter><filter id="f89" filterUnits="userSpaceOnUse" x="1004" y="665" width="181" height="181"><feGaussianBlur stdDeviation="16"/></filter><filter id="f90" filterUnits="userSpaceOnUse" x="1278" y="671" width="75" height="75"><feGaussianBlur stdDeviation="8"/></filter><filter id="f91" filterUnits="userSpaceOnUse" x="940" y="699" width="438" height="305"><feGaussianBlur stdDeviation="24"/></filter><filter id="f92" filterUnits="userSpaceOnUse" x="1021" y="705" width="310" height="310"><feGaussianBlur stdDeviation="20"/></filter><filter id="f93" filterUnits="userSpaceOnUse" x="1257" y="795" width="42" height="42"><feGaussianBlur stdDeviation="4"/></filter><filter id="f94" filterUnits="userSpaceOnUse" x="1263" y="812" width="32" height="32"><feGaussianBlur stdDeviation="3"/></filter><filter id="f95" filterUnits="userSpaceOnUse" x="1271" y="612" width="362" height="310"><feGaussianBlur stdDeviation="20"/></filter><filter id="f96" filterUnits="userSpaceOnUse" x="1201" y="769" width="263" height="327"><feGaussianBlur stdDeviation="18"/></filter><filter id="f97" filterUnits="userSpaceOnUse" x="1289" y="920" width="170" height="170"><feGaussianBlur stdDeviation="16"/></filter><filter id="f98" filterUnits="userSpaceOnUse" x="1277" y="787" width="122" height="122"><feGaussianBlur stdDeviation="12"/></filter><filter id="f99" filterUnits="userSpaceOnUse" x="1370" y="781" width="275" height="240"><feGaussianBlur stdDeviation="18"/></filter><filter id="f100" filterUnits="userSpaceOnUse" x="1399" y="807" width="158" height="158"><feGaussianBlur stdDeviation="14"/></filter><filter id="f101" filterUnits="userSpaceOnUse" x="1359" y="952" width="122" height="122"><feGaussianBlur stdDeviation="12"/></filter><filter id="f102" filterUnits="userSpaceOnUse" x="1526" y="665" width="245" height="245"><feGaussianBlur stdDeviation="16"/></filter><filter id="f103" filterUnits="userSpaceOnUse" x="1572" y="705" width="61" height="61"><feGaussianBlur stdDeviation="6"/></filter><filter id="f104" filterUnits="userSpaceOnUse" x="1591" y="706" width="122" height="122"><feGaussianBlur stdDeviation="12"/></filter><filter id="f105" filterUnits="userSpaceOnUse" x="1526" y="729" width="315" height="274"><feGaussianBlur stdDeviation="16"/></filter><filter id="f106" filterUnits="userSpaceOnUse" x="1635" y="802" width="93" height="93"><feGaussianBlur stdDeviation="8"/></filter><filter id="f107" filterUnits="userSpaceOnUse" x="1603" y="840" width="122" height="122"><feGaussianBlur stdDeviation="8"/></filter><filter id="f108" filterUnits="userSpaceOnUse" x="1698" y="793" width="98" height="98"><feGaussianBlur stdDeviation="8"/></filter><filter id="f109" filterUnits="userSpaceOnUse" x="1707" y="834" width="98" height="98"><feGaussianBlur stdDeviation="8"/></filter><filter id="f110" filterUnits="userSpaceOnUse" x="1661" y="903" width="98" height="98"><feGaussianBlur stdDeviation="8"/></filter><filter id="f111" filterUnits="userSpaceOnUse" x="1346" y="844" width="403" height="443"><feGaussianBlur stdDeviation="20"/></filter><filter id="f112" filterUnits="userSpaceOnUse" x="1445" y="909" width="181" height="181"><feGaussianBlur stdDeviation="16"/></filter><filter id="f113" filterUnits="userSpaceOnUse" x="1509" y="967" width="227" height="227"><feGaussianBlur stdDeviation="14"/></filter><filter id="f114" filterUnits="userSpaceOnUse" x="1387" y="990" width="158" height="158"><feGaussianBlur stdDeviation="14"/></filter><filter id="f115" filterUnits="userSpaceOnUse" x="1465" y="1018" width="72" height="72"><feGaussianBlur stdDeviation="7"/></filter><filter id="f116" filterUnits="userSpaceOnUse" x="1529" y="1016" width="72" height="72"><feGaussianBlur stdDeviation="7"/></filter><filter id="f117" filterUnits="userSpaceOnUse" x="1541" y="1062" width="72" height="72"><feGaussianBlur stdDeviation="7"/></filter><filter id="f118" filterUnits="userSpaceOnUse" x="1487" y="962" width="122" height="122"><feGaussianBlur stdDeviation="8"/></filter><filter id="f119" filterUnits="userSpaceOnUse" x="1539" y="1066" width="180" height="180"><feGaussianBlur stdDeviation="10"/></filter><filter id="f120" filterUnits="userSpaceOnUse" x="1311" y="1030" width="368" height="403"><feGaussianBlur stdDeviation="20"/></filter><filter id="f121" filterUnits="userSpaceOnUse" x="1399" y="1129" width="181" height="181"><feGaussianBlur stdDeviation="16"/></filter><filter id="f122" filterUnits="userSpaceOnUse" x="1329" y="1164" width="263" height="263"><feGaussianBlur stdDeviation="18"/></filter><filter id="f123" filterUnits="userSpaceOnUse" x="1335" y="1129" width="193" height="193"><feGaussianBlur stdDeviation="16"/></filter><filter id="f124" filterUnits="userSpaceOnUse" x="1401" y="1131" width="61" height="61"><feGaussianBlur stdDeviation="6"/></filter><filter id="f125" filterUnits="userSpaceOnUse" x="1509" y="1137" width="72" height="72"><feGaussianBlur stdDeviation="7"/></filter><filter id="f126" filterUnits="userSpaceOnUse" x="1498" y="1304" width="53" height="53"><feGaussianBlur stdDeviation="5"/></filter><filter id="f127" filterUnits="userSpaceOnUse" x="1120" y="990" width="350" height="309"><feGaussianBlur stdDeviation="18"/></filter><filter id="f128" filterUnits="userSpaceOnUse" x="1349" y="1063" width="63" height="63"><feGaussianBlur stdDeviation="6"/></filter><filter id="f129" filterUnits="userSpaceOnUse" x="1251" y="1132" width="59" height="59"><feGaussianBlur stdDeviation="6"/></filter><filter id="f130" filterUnits="userSpaceOnUse" x="823" y="838" width="508" height="421"><feGaussianBlur stdDeviation="24"/></filter><filter id="f131" filterUnits="userSpaceOnUse" x="876" y="1018" width="362" height="257"><feGaussianBlur stdDeviation="20"/></filter><filter id="f132" filterUnits="userSpaceOnUse" x="806" y="1128" width="519" height="299"><feGaussianBlur stdDeviation="22"/></filter><filter id="f133" filterUnits="userSpaceOnUse" x="848" y="1193" width="216" height="216"><feGaussianBlur stdDeviation="14"/></filter><filter id="f134" filterUnits="userSpaceOnUse" x="1121" y="1211" width="157" height="157"><feGaussianBlur stdDeviation="12"/></filter><filter id="f135" filterUnits="userSpaceOnUse" x="976" y="1187" width="134" height="134"><feGaussianBlur stdDeviation="12"/></filter><filter id="f136" filterUnits="userSpaceOnUse" x="1132" y="1222" width="321" height="240"><feGaussianBlur stdDeviation="18"/></filter><filter id="f137" filterUnits="userSpaceOnUse" x="1337" y="1299" width="50" height="50"><feGaussianBlur stdDeviation="5"/></filter><filter id="f138" filterUnits="userSpaceOnUse" x="1068" y="1315" width="304" height="241"><feGaussianBlur stdDeviation="18"/></filter><filter id="f139" filterUnits="userSpaceOnUse" x="1156" y="1403" width="75" height="75"><feGaussianBlur stdDeviation="8"/></filter><filter id="f140" filterUnits="userSpaceOnUse" x="1498" y="1176" width="175" height="215"><feGaussianBlur stdDeviation="12"/></filter><filter id="f141" filterUnits="userSpaceOnUse" x="1539" y="1280" width="53" height="53"><feGaussianBlur stdDeviation="5"/></filter><filter id="f142" filterUnits="userSpaceOnUse" x="1376" y="1304" width="232" height="134"><feGaussianBlur stdDeviation="10"/></filter><filter id="f143" filterUnits="userSpaceOnUse" x="772" y="705" width="181" height="181"><feGaussianBlur stdDeviation="16"/></filter><filter id="f144" filterUnits="userSpaceOnUse" x="859" y="944" width="158" height="158"><feGaussianBlur stdDeviation="14"/></filter><filter id="f145" filterUnits="userSpaceOnUse" x="795" y="1089" width="158" height="158"><feGaussianBlur stdDeviation="14"/></filter><filter id="f146" filterUnits="userSpaceOnUse" x="789" y="1309" width="403" height="253"><feGaussianBlur stdDeviation="20"/></filter><filter id="f147" filterUnits="userSpaceOnUse" x="610" y="1262" width="538" height="793"><feGaussianBlur stdDeviation="30"/></filter><filter id="f148" filterUnits="userSpaceOnUse" x="720" y="1570" width="427" height="451"><feGaussianBlur stdDeviation="28"/></filter><filter id="f149" filterUnits="userSpaceOnUse" x="837" y="1774" width="240" height="240"><feGaussianBlur stdDeviation="18"/></filter><filter id="f150" filterUnits="userSpaceOnUse" x="750" y="1658" width="264" height="264"><feGaussianBlur stdDeviation="22"/></filter><filter id="f151" filterUnits="userSpaceOnUse" x="727" y="1292" width="338" height="269"><feGaussianBlur stdDeviation="18"/></filter><filter id="f152" filterUnits="userSpaceOnUse" x="896" y="1406" width="59" height="59"><feGaussianBlur stdDeviation="6"/></filter><filter id="f153" filterUnits="userSpaceOnUse" x="656" y="1355" width="393" height="393"><feGaussianBlur stdDeviation="30"/></filter><filter id="f154" filterUnits="userSpaceOnUse" x="742" y="1440" width="222" height="222"><feGaussianBlur stdDeviation="18"/></filter><filter id="f155" filterUnits="userSpaceOnUse" x="792" y="1493" width="116" height="116"><feGaussianBlur stdDeviation="10"/></filter><filter id="f156" filterUnits="userSpaceOnUse" x="908" y="1537" width="99" height="99"><feGaussianBlur stdDeviation="10"/></filter><filter id="f157" filterUnits="userSpaceOnUse" x="866" y="1449" width="275" height="240"><feGaussianBlur stdDeviation="18"/></filter><filter id="f158" filterUnits="userSpaceOnUse" x="1053" y="1537" width="63" height="63"><feGaussianBlur stdDeviation="6"/></filter><filter id="f159" filterUnits="userSpaceOnUse" x="814" y="1205" width="373" height="367"><feGaussianBlur stdDeviation="16"/></filter><filter id="f160" filterUnits="userSpaceOnUse" x="849" y="1188" width="216" height="216"><feGaussianBlur stdDeviation="14"/></filter><filter id="f161" filterUnits="userSpaceOnUse" x="896" y="1238" width="110" height="110"><feGaussianBlur stdDeviation="8"/></filter><filter id="f162" filterUnits="userSpaceOnUse" x="966" y="1392" width="198" height="169"><feGaussianBlur stdDeviation="12"/></filter><filter id="f163" filterUnits="userSpaceOnUse" x="954" y="1589" width="268" height="239"><feGaussianBlur stdDeviation="14"/></filter><filter id="f164" filterUnits="userSpaceOnUse" x="989" y="1478" width="343" height="268"><feGaussianBlur stdDeviation="14"/></filter><filter id="f165" filterUnits="userSpaceOnUse" x="1041" y="1513" width="146" height="146"><feGaussianBlur stdDeviation="12"/></filter><filter id="f166" filterUnits="userSpaceOnUse" x="1169" y="1601" width="63" height="63"><feGaussianBlur stdDeviation="6"/></filter><filter id="f167" filterUnits="userSpaceOnUse" x="1129" y="1561" width="50" height="50"><feGaussianBlur stdDeviation="5"/></filter><filter id="f168" filterUnits="userSpaceOnUse" x="1229" y="1562" width="36" height="36"><feGaussianBlur stdDeviation="3"/></filter><filter id="f169" filterUnits="userSpaceOnUse" x="1239" y="1537" width="122" height="122"><feGaussianBlur stdDeviation="8"/></filter><filter id="f170" filterUnits="userSpaceOnUse" x="1081" y="1328" width="303" height="268"><feGaussianBlur stdDeviation="14"/></filter><filter id="f171" filterUnits="userSpaceOnUse" x="1158" y="1404" width="63" height="63"><feGaussianBlur stdDeviation="6"/></filter><filter id="f172" filterUnits="userSpaceOnUse" x="1274" y="1479" width="75" height="75"><feGaussianBlur stdDeviation="6"/></filter><filter id="f173" filterUnits="userSpaceOnUse" x="1192" y="1485" width="134" height="134"><feGaussianBlur stdDeviation="10"/></filter><filter id="f174" filterUnits="userSpaceOnUse" x="573" y="1562" width="222" height="367"><feGaussianBlur stdDeviation="18"/></filter><filter id="f175" filterUnits="userSpaceOnUse" x="649" y="1659" width="110" height="227"><feGaussianBlur stdDeviation="10"/></filter><filter id="f176" filterUnits="userSpaceOnUse" x="579" y="1812" width="158" height="291"><feGaussianBlur stdDeviation="14"/></filter><filter id="f177" filterUnits="userSpaceOnUse" x="599" y="1832" width="78" height="95"><feGaussianBlur stdDeviation="8"/></filter><filter id="f178" filterUnits="userSpaceOnUse" x="512" y="1814" width="426" height="356"><feGaussianBlur stdDeviation="20"/></filter><filter id="f179" filterUnits="userSpaceOnUse" x="582" y="1937" width="240" height="240"><feGaussianBlur stdDeviation="18"/></filter><filter id="f180" filterUnits="userSpaceOnUse" x="641" y="1990" width="122" height="122"><feGaussianBlur stdDeviation="10"/></filter><filter id="f181" filterUnits="userSpaceOnUse" x="736" y="1626" width="88" height="146"><feGaussianBlur stdDeviation="9"/></filter><filter id="f182" filterUnits="userSpaceOnUse" x="513" y="1537" width="110" height="203"><feGaussianBlur stdDeviation="10"/></filter><filter id="f183" filterUnits="userSpaceOnUse" x="455" y="1670" width="180" height="285"><feGaussianBlur stdDeviation="12"/></filter><filter id="f184" filterUnits="userSpaceOnUse" x="501" y="1807" width="59" height="59"><feGaussianBlur stdDeviation="6"/></filter><filter id="f185" filterUnits="userSpaceOnUse" x="435" y="1853" width="134" height="221"><feGaussianBlur stdDeviation="12"/></filter><filter id="f186" filterUnits="userSpaceOnUse" x="438" y="1978" width="81" height="122"><feGaussianBlur stdDeviation="8"/></filter><filter id="f187" filterUnits="userSpaceOnUse" x="350" y="917" width="521" height="802"><feGaussianBlur stdDeviation="16"/></filter><filter id="f188" filterUnits="userSpaceOnUse" x="371" y="956" width="466" height="725"><feGaussianBlur stdDeviation="9"/></filter><filter id="f189" filterUnits="userSpaceOnUse" x="368" y="967" width="302" height="261"><feGaussianBlur stdDeviation="10"/></filter><filter id="f190" filterUnits="userSpaceOnUse" x="386" y="985" width="87" height="87"><feGaussianBlur stdDeviation="8"/></filter><filter id="f191" filterUnits="userSpaceOnUse" x="426" y="1023" width="81" height="81"><feGaussianBlur stdDeviation="8"/></filter><filter id="f192" filterUnits="userSpaceOnUse" x="502" y="1072" width="87" height="87"><feGaussianBlur stdDeviation="8"/></filter><filter id="f193" filterUnits="userSpaceOnUse" x="568" y="1139" width="81" height="81"><feGaussianBlur stdDeviation="8"/></filter><filter id="f194" filterUnits="userSpaceOnUse" x="545" y="1037" width="81" height="81"><feGaussianBlur stdDeviation="8"/></filter><filter id="f195" filterUnits="userSpaceOnUse" x="399" y="954" width="171" height="127"><feGaussianBlur stdDeviation="8"/></filter><filter id="f196" filterUnits="userSpaceOnUse" x="591" y="1156" width="198" height="198"><feGaussianBlur stdDeviation="14"/></filter><filter id="f197" filterUnits="userSpaceOnUse" x="661" y="1269" width="117" height="117"><feGaussianBlur stdDeviation="12"/></filter><filter id="f198" filterUnits="userSpaceOnUse" x="612" y="1095" width="215" height="287"><feGaussianBlur stdDeviation="10"/></filter><filter id="f199" filterUnits="userSpaceOnUse" x="592" y="1168" width="121" height="240"><feGaussianBlur stdDeviation="9"/></filter><filter id="f200" filterUnits="userSpaceOnUse" x="603" y="1298" width="224" height="357"><feGaussianBlur stdDeviation="12"/></filter><filter id="f201" filterUnits="userSpaceOnUse" x="658" y="1333" width="139" height="200"><feGaussianBlur stdDeviation="10"/></filter><filter id="f202" filterUnits="userSpaceOnUse" x="661" y="1327" width="87" height="87"><feGaussianBlur stdDeviation="8"/></filter><filter id="f203" filterUnits="userSpaceOnUse" x="653" y="1362" width="81" height="81"><feGaussianBlur stdDeviation="8"/></filter><filter id="f204" filterUnits="userSpaceOnUse" x="612" y="1507" width="81" height="81"><feGaussianBlur stdDeviation="8"/></filter><filter id="f205" filterUnits="userSpaceOnUse" x="679" y="1394" width="98" height="98"><feGaussianBlur stdDeviation="8"/></filter><filter id="f206" filterUnits="userSpaceOnUse" x="539" y="1182" width="139" height="482"><feGaussianBlur stdDeviation="10"/></filter><filter id="f207" filterUnits="userSpaceOnUse" x="589" y="1290" width="75" height="75"><feGaussianBlur stdDeviation="8"/></filter><filter id="f208" filterUnits="userSpaceOnUse" x="574" y="1438" width="69" height="69"><feGaussianBlur stdDeviation="8"/></filter><filter id="f209" filterUnits="userSpaceOnUse" x="624" y="1365" width="75" height="75"><feGaussianBlur stdDeviation="8"/></filter><filter id="f210" filterUnits="userSpaceOnUse" x="366" y="1052" width="277" height="208"><feGaussianBlur stdDeviation="8"/></filter><filter id="f211" filterUnits="userSpaceOnUse" x="417" y="953" width="256" height="131"><feGaussianBlur stdDeviation="10"/></filter><filter id="f212" filterUnits="userSpaceOnUse" x="542" y="991" width="75" height="75"><feGaussianBlur stdDeviation="8"/></filter><filter id="f213" filterUnits="userSpaceOnUse" x="628" y="1064" width="183" height="160"><feGaussianBlur stdDeviation="12"/></filter><filter id="f214" filterUnits="userSpaceOnUse" x="760" y="1188" width="93" height="78"><feGaussianBlur stdDeviation="8"/></filter><filter id="f215" filterUnits="userSpaceOnUse" x="500" y="1617" width="154" height="566"><feGaussianBlur stdDeviation="8"/></filter><filter id="f216" filterUnits="userSpaceOnUse" x="578" y="1639" width="56" height="132"><feGaussianBlur stdDeviation="5"/></filter><filter id="f217" filterUnits="userSpaceOnUse" x="558" y="1797" width="58" height="113"><feGaussianBlur stdDeviation="5"/></filter><filter id="f218" filterUnits="userSpaceOnUse" x="455" y="2001" width="128" height="215"><feGaussianBlur stdDeviation="10"/></filter><filter id="f219" filterUnits="userSpaceOnUse" x="444" y="2001" width="98" height="110"><feGaussianBlur stdDeviation="8"/></filter><filter id="f220" filterUnits="userSpaceOnUse" x="489" y="1826" width="485" height="235"><feGaussianBlur stdDeviation="24"/></filter><filter id="f221" filterUnits="userSpaceOnUse" x="570" y="1902" width="263" height="197"><feGaussianBlur stdDeviation="20"/></filter><filter id="f222" filterUnits="userSpaceOnUse" x="658" y="1943" width="111" height="111"><feGaussianBlur stdDeviation="12"/></filter><filter id="f223" filterUnits="userSpaceOnUse" x="541" y="1948" width="317" height="293"><feGaussianBlur stdDeviation="26"/></filter><filter id="f224" filterUnits="userSpaceOnUse" x="631" y="1972" width="164" height="164"><feGaussianBlur stdDeviation="18"/></filter><filter id="f225" filterUnits="userSpaceOnUse" x="635" y="2039" width="123" height="123"><feGaussianBlur stdDeviation="14"/></filter><filter id="f226" filterUnits="userSpaceOnUse" x="757" y="1987" width="99" height="99"><feGaussianBlur stdDeviation="10"/></filter><filter id="f227" filterUnits="userSpaceOnUse" x="587" y="2119" width="232" height="206"><feGaussianBlur stdDeviation="22"/></filter><filter id="f228" filterUnits="userSpaceOnUse" x="614" y="2158" width="123" height="123"><feGaussianBlur stdDeviation="14"/></filter><filter id="f229" filterUnits="userSpaceOnUse" x="478" y="1827" width="244" height="610"><feGaussianBlur stdDeviation="26"/></filter><filter id="f230" filterUnits="userSpaceOnUse" x="477" y="1902" width="182" height="519"><feGaussianBlur stdDeviation="22"/></filter><filter id="f231" filterUnits="userSpaceOnUse" x="456" y="1964" width="176" height="469"><feGaussianBlur stdDeviation="20"/></filter><filter id="f232" filterUnits="userSpaceOnUse" x="444" y="1828" width="155" height="231"><feGaussianBlur stdDeviation="16"/></filter><filter id="f233" filterUnits="userSpaceOnUse" x="441" y="1981" width="87" height="116"><feGaussianBlur stdDeviation="10"/></filter><filter id="f234" filterUnits="userSpaceOnUse" x="425" y="2100" width="138" height="280"><feGaussianBlur stdDeviation="16"/></filter><filter id="f235" filterUnits="userSpaceOnUse" x="464" y="2142" width="64" height="84"><feGaussianBlur stdDeviation="8"/></filter><filter id="f236" filterUnits="userSpaceOnUse" x="454" y="2180" width="83" height="171"><feGaussianBlur stdDeviation="10"/></filter><filter id="f237" filterUnits="userSpaceOnUse" x="452" y="2248" width="81" height="81"><feGaussianBlur stdDeviation="7"/></filter><filter id="f238" filterUnits="userSpaceOnUse" x="357" y="2022" width="408" height="533"><feGaussianBlur stdDeviation="18"/></filter><filter id="f239" filterUnits="userSpaceOnUse" x="483" y="2195" width="275" height="238"><feGaussianBlur stdDeviation="22"/></filter><filter id="f240" filterUnits="userSpaceOnUse" x="577" y="2268" width="123" height="123"><feGaussianBlur stdDeviation="14"/></filter><filter id="f241" filterUnits="userSpaceOnUse" x="536" y="2332" width="282" height="163"><feGaussianBlur stdDeviation="14"/></filter><filter id="f242" filterUnits="userSpaceOnUse" x="632" y="2358" width="117" height="117"><feGaussianBlur stdDeviation="12"/></filter><filter id="f243" filterUnits="userSpaceOnUse" x="559" y="2344" width="111" height="111"><feGaussianBlur stdDeviation="12"/></filter><filter id="f244" filterUnits="userSpaceOnUse" x="558" y="1491" width="138" height="263"><feGaussianBlur stdDeviation="9"/></filter><filter id="f245" filterUnits="userSpaceOnUse" x="576" y="1513" width="101" height="180"><feGaussianBlur stdDeviation="6"/></filter><filter id="f246" filterUnits="userSpaceOnUse" x="624" y="1520" width="57" height="57"><feGaussianBlur stdDeviation="6"/></filter><filter id="f247" filterUnits="userSpaceOnUse" x="578" y="1685" width="68" height="127"><feGaussianBlur stdDeviation="7"/></filter><filter id="f248" filterUnits="userSpaceOnUse" x="567" y="1288" width="122" height="294"><feGaussianBlur stdDeviation="12"/></filter><filter id="f249" filterUnits="userSpaceOnUse" x="614" y="1327" width="66" height="165"><feGaussianBlur stdDeviation="7"/></filter><filter id="f250" filterUnits="userSpaceOnUse" x="587" y="1456" width="52" height="52"><feGaussianBlur stdDeviation="6"/></filter><filter id="f251" filterUnits="userSpaceOnUse" x="394" y="2044" width="342" height="466"><feGaussianBlur stdDeviation="8"/></filter><filter id="f252" filterUnits="userSpaceOnUse" x="448" y="2118" width="145" height="241"><feGaussianBlur stdDeviation="12"/></filter><filter id="f253" filterUnits="userSpaceOnUse" x="466" y="2146" width="56" height="74"><feGaussianBlur stdDeviation="7"/></filter><filter id="f254" filterUnits="userSpaceOnUse" x="458" y="2195" width="74" height="146"><feGaussianBlur stdDeviation="9"/></filter><filter id="f255" filterUnits="userSpaceOnUse" x="468" y="2275" width="56" height="56"><feGaussianBlur stdDeviation="6"/></filter><filter id="f256" filterUnits="userSpaceOnUse" x="464" y="2230" width="56" height="56"><feGaussianBlur stdDeviation="6"/></filter><filter id="f257" filterUnits="userSpaceOnUse" x="459" y="2015" width="139" height="196"><feGaussianBlur stdDeviation="14"/></filter><filter id="f258" filterUnits="userSpaceOnUse" x="474" y="2279" width="186" height="145"><feGaussianBlur stdDeviation="14"/></filter><filter id="f259" filterUnits="userSpaceOnUse" x="546" y="2339" width="198" height="149"><feGaussianBlur stdDeviation="12"/></filter></defs>
<path d="M525.2,368.5 L699.3,397.5 L699.3,583.3 L618.1,618.1 L502.0,583.3 L449.8,502.0Z" fill="#d7634f" filter="url(#f1)"/>
<path d="M902.5,322.1 L1047.6,397.5 L1177.0,432.4 L1177.0,583.3 L989.5,571.7 L931.5,502.0 L902.5,420.8Z" fill="#d86551" filter="url(#f2)"/>
<path d="M983.7,571.7 L1177.0,525.2 L1210.1,583.3 L1210.1,757.4 L1076.6,699.3 L989.5,641.3Z" fill="#ee9677" filter="url(#f3)"/>
<ellipse cx="1036.0" cy="618.1" rx="63.8" ry="40.6" fill="#f4a683" filter="url(#f4)"/>
<path d="M693.5,376.3 L795.1,364.7 L911.2,382.2 L925.7,440.2 L882.2,469.2 L824.1,483.7 L789.3,527.2 L737.1,570.8 L708.0,527.2 L687.7,440.2Z" fill="#e37e64" filter="url(#f5)"/>
<ellipse cx="882.2" cy="422.8" rx="31.9" ry="17.4" fill="#f4a683" filter="url(#f6)"/>
<ellipse cx="879.3" cy="419.9" rx="14.5" ry="7.3" fill="#fac8af" filter="url(#f7)"/>
<ellipse cx="745.8" cy="411.2" rx="31.9" ry="20.3" fill="#ec9374" filter="url(#f8)"/>
<ellipse cx="766.1" cy="483.7" rx="29.0" ry="23.2" fill="#ea8e70" filter="url(#f9)"/>
<ellipse cx="957.6" cy="440.2" rx="14.5" ry="26.1" fill="#ec9374" filter="url(#f10)"/>
<ellipse cx="812.5" cy="428.6" rx="17.4" ry="11.6" fill="#ee9677" filter="url(#f11)"/>
<ellipse cx="737.1" cy="463.4" rx="14.5" ry="11.6" fill="#c53e3d" filter="url(#f12)"/>
<ellipse cx="829.9" cy="454.7" rx="11.6" ry="8.7" fill="#d25849" filter="url(#f13)"/>
<path d="M725.4,390.9 L760.3,402.5 L780.6,419.9" fill="none" stroke="#f8bda1" stroke-width="7.0" stroke-linecap="round" stroke-linejoin="round" filter="url(#f14)"/>
<path d="M853.1,411.2 L882.2,417.0 L905.4,428.6" fill="none" stroke="#fddbc7" stroke-width="5.2" stroke-linecap="round" stroke-linejoin="round" filter="url(#f15)"/>
<path d="M751.6,475.0 L771.9,498.2 L789.3,515.6" fill="none" stroke="#f7b799" stroke-width="5.8" stroke-linecap="round" stroke-linejoin="round" filter="url(#f16)"/>
<ellipse cx="925.7" cy="477.9" rx="11.6" ry="8.7" fill="#b1182b" filter="url(#f17)"/>
<ellipse cx="911.2" cy="524.3" rx="17.4" ry="17.4" fill="#c43b3c" filter="url(#f18)"/>
<ellipse cx="1012.7" cy="536.0" rx="20.3" ry="17.4" fill="#eb9172" filter="url(#f19)"/>
<path d="M583.3,287.3 L670.3,252.4 L815.4,264.1 L890.9,293.1 L914.1,345.3 L873.5,368.5 L786.4,374.3 L699.3,385.9 L641.3,409.2 L583.3,380.1 L548.4,368.5Z" fill="#ab162a" filter="url(#f20)"/>
<path d="M629.7,293.1 L699.3,275.7 L844.4,278.6 L885.1,316.3 L844.4,356.9 L728.4,362.7 L641.3,368.5Z" fill="#9f1228" filter="url(#f21)"/>
<ellipse cx="769.0" cy="311.6" rx="87.1" ry="29.0" fill="#810823" filter="url(#f22)"/>
<ellipse cx="777.7" cy="309.3" rx="34.8" ry="12.8" fill="#67001f" filter="url(#f23)"/>
<ellipse cx="670.3" cy="351.1" rx="52.2" ry="26.1" fill="#9c1127" filter="url(#f24)"/>
<ellipse cx="844.4" cy="345.3" rx="34.8" ry="23.2" fill="#9f1228" filter="url(#f25)"/>
<path d="M426.6,246.6 L502.0,229.2 L536.8,269.9 L525.2,327.9 L478.8,351.1 L420.8,339.5Z" fill="#b72230" filter="url(#f26)"/>
<ellipse cx="493.3" cy="290.2" rx="16.3" ry="16.3" fill="#900d26" filter="url(#f27)"/>
<ellipse cx="467.2" cy="293.1" rx="17.4" ry="17.4" fill="#a81529" filter="url(#f28)"/>
<ellipse cx="583.3" cy="211.8" rx="34.8" ry="17.4" fill="#c53e3d" filter="url(#f29)"/>
<path d="M180.4,333.6 L222.2,342.3 L253.6,351.0 L264.0,361.4" fill="none" stroke="#bb2a34" stroke-width="12.2" stroke-linecap="round" stroke-linejoin="round" filter="url(#f30)"/>
<path d="M180.4,302.2 L197.9,314.4 L222.2,324.0 L248.4,323.1 L274.5,312.7" fill="none" stroke="#f09c7b" stroke-width="7.0" stroke-linecap="round" stroke-linejoin="round" filter="url(#f31)"/>
<ellipse cx="183.9" cy="307.5" rx="8.7" ry="12.2" fill="#fcdecd" filter="url(#f32)"/>
<path d="M199.6,317.0 L222.2,324.9 L244.9,324.0" fill="none" stroke="#fcd5bf" stroke-width="2.4" stroke-linecap="round" stroke-linejoin="round" filter="url(#f33)"/>
<path d="M291.9,302.2 L318.0,307.5 L344.1,323.1 L358.1,340.5" fill="none" stroke="#da6853" stroke-width="8.7" stroke-linecap="round" stroke-linejoin="round" filter="url(#f34)"/>
<path d="M538.9,350.2 L570.8,324.1 L602.7,300.9 L628.8,277.7 L649.1,263.2" fill="none" stroke="#f5aa89" stroke-width="17.4" stroke-linecap="round" stroke-linejoin="round" filter="url(#f35)"/>
<path d="M541.8,347.3 L573.7,322.7 L605.6,298.0 L628.8,279.1" fill="none" stroke="#fbe4d6" stroke-width="6.4" stroke-linecap="round" stroke-linejoin="round" filter="url(#f36)"/>
<path d="M508.4,306.7 L515.6,335.7 L527.2,358.9" fill="none" stroke="#ee9677" stroke-width="11.6" stroke-linecap="round" stroke-linejoin="round" filter="url(#f37)"/>
<path d="M536.0,353.1 L537.4,393.8 L524.3,419.9 L504.0,440.2 L477.9,469.2 L454.7,492.4 L434.4,521.4 L411.2,556.3 L388.0,573.7" fill="none" stroke="#ee9677" stroke-width="43.5" stroke-linecap="round" stroke-linejoin="round" filter="url(#f38)"/>
<path d="M536.0,353.1 L537.4,393.8 L524.3,419.9 L504.0,440.2 L477.9,469.2 L454.7,492.4 L434.4,521.4 L411.2,556.3 L388.0,573.7" fill="none" stroke="#fcd5bf" stroke-width="27.9" stroke-linecap="round" stroke-linejoin="round" filter="url(#f39)"/>
<path d="M533.6,364.7 L534.5,396.7 L521.4,419.9 L501.1,440.2 L475.0,466.3 L451.8,492.4" fill="none" stroke="#f7f6f6" stroke-width="15.1" stroke-linecap="round" stroke-linejoin="round" filter="url(#f40)"/>
<path d="M530.2,379.3 L533.1,399.6" fill="none" stroke="#e1edf3" stroke-width="4.1" stroke-linecap="round" stroke-linejoin="round" filter="url(#f41)"/>
<path d="M425.7,353.1 L430.0,411.2 L422.8,454.7 L411.2,498.2 L399.6,536.0 L382.2,562.1 L358.9,579.5 L341.5,596.9" fill="none" stroke="#ee9677" stroke-width="31.9" stroke-linecap="round" stroke-linejoin="round" filter="url(#f42)"/>
<path d="M425.7,353.1 L430.0,411.2 L422.8,454.7 L411.2,498.2 L399.6,536.0 L382.2,562.1 L358.9,579.5 L341.5,596.9" fill="none" stroke="#fcdecd" stroke-width="18.6" stroke-linecap="round" stroke-linejoin="round" filter="url(#f43)"/>
<path d="M419.9,469.2 L411.2,512.7 L396.7,538.9 L379.3,562.1 L353.1,585.3" fill="none" stroke="#f3f5f6" stroke-width="9.9" stroke-linecap="round" stroke-linejoin="round" filter="url(#f44)"/>
<path d="M390.9,341.5 L402.5,396.7 L411.2,440.2 L402.5,483.7 L390.9,527.2 L376.3,556.3" fill="none" stroke="#f09c7b" stroke-width="14.5" stroke-linecap="round" stroke-linejoin="round" filter="url(#f45)"/>
<path d="M399.6,382.2 L408.3,425.7 L405.4,469.2" fill="none" stroke="#fcd5bf" stroke-width="4.6" stroke-linecap="round" stroke-linejoin="round" filter="url(#f46)"/>
<path d="M457.6,353.1 L463.4,411.2 L454.7,454.7" fill="none" stroke="#c53e3d" stroke-width="14.5" stroke-linecap="round" stroke-linejoin="round" filter="url(#f47)"/>
<ellipse cx="462.0" cy="409.7" rx="6.4" ry="8.7" fill="#870a24" filter="url(#f48)"/>
<ellipse cx="475.0" cy="509.8" rx="3.5" ry="8.7" fill="#b1182b" filter="url(#f49)"/>
<ellipse cx="483.7" cy="509.8" rx="2.3" ry="7.0" fill="#ba2832" filter="url(#f50)"/>
<ellipse cx="491.0" cy="250.1" rx="11.6" ry="8.7" fill="#f9c4a9" filter="url(#f51)"/>
<ellipse cx="491.0" cy="250.1" rx="4.6" ry="4.1" fill="#f9eee7" filter="url(#f52)"/>
<path d="M477.9,245.8 L491.0,263.2 L504.0,245.8" fill="none" stroke="#fce2d2" stroke-width="4.1" stroke-linecap="round" stroke-linejoin="round" filter="url(#f53)"/>
<path d="M353.1,585.3 L332.8,625.9 L318.3,672.3 L308.2,715.9 L302.4,759.4 L306.7,788.4" fill="none" stroke="#f3a481" stroke-width="43.5" stroke-linecap="round" stroke-linejoin="round" filter="url(#f54)"/>
<path d="M353.1,585.3 L332.8,625.9 L318.3,672.3 L308.2,715.9 L302.4,759.4 L306.7,788.4" fill="none" stroke="#fbe4d6" stroke-width="30.2" stroke-linecap="round" stroke-linejoin="round" filter="url(#f55)"/>
<path d="M350.2,594.0 L329.9,634.6 L316.9,675.2 L308.2,710.1 L303.2,753.6" fill="none" stroke="#eff3f5" stroke-width="12.8" stroke-linecap="round" stroke-linejoin="round" filter="url(#f56)"/>
<path d="M324.1,643.3 L315.4,672.3" fill="none" stroke="#d1e5f0" stroke-width="3.5" stroke-linecap="round" stroke-linejoin="round" filter="url(#f57)"/>
<path d="M246.6,583.3 L322.1,577.5 L310.5,699.3 L252.4,699.3Z" fill="#d6604d" filter="url(#f58)"/>
<path d="M300.0,748.7 L309.3,792.2 L325.0,832.8 L348.2,873.5" fill="none" stroke="#f7b799" stroke-width="60.4" stroke-linecap="round" stroke-linejoin="round" filter="url(#f59)"/>
<path d="M348.2,873.5 L371.4,925.7 L409.2,1001.1 L449.8,1059.2" fill="none" stroke="#f7b799" stroke-width="87.1" stroke-linecap="round" stroke-linejoin="round" filter="url(#f60)"/>
<path d="M300.0,748.7 L309.3,792.2 L325.0,832.8 L348.2,873.5" fill="none" stroke="#fbe4d6" stroke-width="37.1" stroke-linecap="round" stroke-linejoin="round" filter="url(#f61)"/>
<path d="M348.2,873.5 L371.4,925.7 L409.2,1001.1 L449.8,1059.2" fill="none" stroke="#fbe4d6" stroke-width="63.8" stroke-linecap="round" stroke-linejoin="round" filter="url(#f62)"/>
<path d="M311.6,803.8 L329.1,844.4 L351.1,890.9 L371.4,937.3 L409.2,1012.8 L449.8,1065.0" fill="none" stroke="#eff3f5" stroke-width="34.8" stroke-linecap="round" stroke-linejoin="round" filter="url(#f63)"/>
<path d="M351.1,908.3 L368.5,943.1" fill="none" stroke="#87beda" stroke-width="10.4" stroke-linecap="round" stroke-linejoin="round" filter="url(#f64)"/>
<path d="M409.2,1006.9 L432.4,1041.8" fill="none" stroke="#a0cce2" stroke-width="15.1" stroke-linecap="round" stroke-linejoin="round" filter="url(#f65)"/>
<path d="M237.9,757.4 L264.1,809.6 L301.8,873.5" fill="none" stroke="#bb2a34" stroke-width="37.1" stroke-linecap="round" stroke-linejoin="round" filter="url(#f66)"/>
<ellipse cx="258.3" cy="780.6" rx="23.2" ry="29.0" fill="#b3192c" filter="url(#f67)"/>
<path d="M301.8,879.3 L333.7,954.7 L368.5,1024.4 L406.3,1079.5" fill="none" stroke="#d35a4a" stroke-width="23.2" stroke-linecap="round" stroke-linejoin="round" filter="url(#f68)"/>
<ellipse cx="409.2" cy="1083.6" rx="19.7" ry="15.1" fill="#c53e3d" filter="url(#f69)"/>
<path d="M339.5,699.3 L438.2,676.1 L525.2,734.2 L502.0,861.9 L467.2,919.9 L409.2,902.5 L368.5,827.0 L333.7,757.4Z" fill="#b41c2d" filter="url(#f70)"/>
<ellipse cx="455.6" cy="815.4" rx="34.8" ry="34.8" fill="#9c1127" filter="url(#f71)"/>
<ellipse cx="374.3" cy="774.8" rx="23.2" ry="23.2" fill="#a81529" filter="url(#f72)"/>
<ellipse cx="583.3" cy="1036.0" rx="40.6" ry="23.2" fill="#a81529" filter="url(#f73)"/>
<path d="M502.0,763.2 L699.3,734.2 L931.5,757.4 L948.9,850.2 L815.4,890.9 L641.3,890.9 L502.0,873.5Z" fill="#bb2a34" filter="url(#f74)"/>
<ellipse cx="618.1" cy="832.8" rx="34.8" ry="23.2" fill="#b3192c" filter="url(#f75)"/>
<ellipse cx="792.2" cy="815.4" rx="40.6" ry="26.1" fill="#b3192c" filter="url(#f76)"/>
<ellipse cx="867.7" cy="798.0" rx="29.0" ry="26.1" fill="#b1182b" filter="url(#f77)"/>
<path d="M641.3,960.5 L757.4,948.9 L815.4,1047.6 L861.9,1134.6 L844.4,1177.0 L699.3,1177.0 L652.9,1082.4Z" fill="#ab162a" filter="url(#f78)"/>
<ellipse cx="728.4" cy="1059.2" rx="52.2" ry="40.6" fill="#9c1127" filter="url(#f79)"/>
<path d="M774.8,914.1 L896.7,908.3 L948.9,989.5 L931.5,1082.4 L844.4,1036.0 L780.6,989.5Z" fill="#cf5246" filter="url(#f80)"/>
<ellipse cx="803.8" cy="972.1" rx="23.2" ry="23.2" fill="#df765e" filter="url(#f81)"/>
<ellipse cx="925.7" cy="1030.2" rx="17.4" ry="29.0" fill="#dc6e57" filter="url(#f82)"/>
<path d="M931.5,1082.4 L1177.0,1047.6 L1221.7,1177.0 L931.5,1177.0Z" fill="#b1182b" filter="url(#f83)"/>
<path d="M1012.8,699.3 L1177.0,687.7 L1221.7,925.7 L1047.6,919.9 L1001.1,838.6Z" fill="#d6604d" filter="url(#f84)"/>
<path d="M984.5,546.4 L1129.6,523.2 L1210.8,645.1 L1176.0,697.3 L1071.5,691.5 L990.3,645.1Z" fill="#ef9979" filter="url(#f85)"/>
<ellipse cx="1025.1" cy="633.5" rx="46.4" ry="34.8" fill="#f4a683" filter="url(#f86)"/>
<path d="M1129.6,500.0 L1268.9,534.8 L1373.3,650.9 L1396.6,708.9 L1257.3,697.3 L1176.0,616.1Z" fill="#df765e" filter="url(#f87)"/>
<ellipse cx="1252.6" cy="578.4" rx="7.0" ry="7.0" fill="#c53e3d" filter="url(#f88)"/>
<ellipse cx="1094.8" cy="755.4" rx="40.6" ry="26.1" fill="#cb4942" filter="url(#f89)"/>
<ellipse cx="1315.3" cy="708.9" rx="11.6" ry="11.6" fill="#d25849" filter="url(#f90)"/>
<path d="M1025.1,790.2 L1176.0,772.8 L1303.7,801.8 L1280.5,929.5 L1054.1,923.7 L1013.5,871.4Z" fill="#e58368" filter="url(#f91)"/>
<ellipse cx="1176.0" cy="859.8" rx="92.9" ry="40.6" fill="#eb9172" filter="url(#f92)"/>
<ellipse cx="1277.6" cy="816.3" rx="7.0" ry="5.8" fill="#f9c4a9" filter="url(#f93)"/>
<ellipse cx="1279.3" cy="827.9" rx="5.2" ry="4.6" fill="#c53e3d" filter="url(#f94)"/>
<path d="M1332.7,674.1 L1518.4,691.5 L1570.7,720.5 L1564.9,825.0 L1431.4,859.8 L1361.7,848.2 L1332.7,778.6Z" fill="#d55d4c" filter="url(#f95)"/>
<path d="M1280.5,825.0 L1396.6,848.2 L1408.2,1039.8 L1268.9,1039.8 L1257.3,941.1Z" fill="#df765e" filter="url(#f96)"/>
<ellipse cx="1373.3" cy="1004.9" rx="29.0" ry="34.8" fill="#f09c7b" filter="url(#f97)"/>
<ellipse cx="1338.5" cy="848.2" rx="17.4" ry="23.2" fill="#ea8e70" filter="url(#f98)"/>
<path d="M1425.6,859.8 L1576.5,836.6 L1588.1,894.7 L1535.9,935.3 L1477.8,964.3 L1425.6,958.5Z" fill="#ef9979" filter="url(#f99)"/>
<ellipse cx="1477.8" cy="886.0" rx="34.8" ry="23.2" fill="#f4a683" filter="url(#f100)"/>
<ellipse cx="1419.8" cy="1013.6" rx="17.4" ry="23.2" fill="#f3a481" filter="url(#f101)"/>
<path d="M1576.5,714.7 L1663.5,720.5 L1721.6,772.8 L1675.1,859.8 L1599.7,859.8 L1588.1,790.2Z" fill="#bb2a34" filter="url(#f102)"/>
<ellipse cx="1602.6" cy="735.1" rx="10.4" ry="10.4" fill="#a81529" filter="url(#f103)"/>
<ellipse cx="1651.9" cy="767.0" rx="23.2" ry="23.2" fill="#d25849" filter="url(#f104)"/>
<path d="M1663.5,778.6 L1779.6,790.2 L1791.2,906.3 L1710.0,952.7 L1605.5,917.9 L1576.5,883.1 L1657.7,859.8Z" fill="#b1182b" filter="url(#f105)"/>
<ellipse cx="1680.9" cy="848.2" rx="20.3" ry="17.4" fill="#8d0c25" filter="url(#f106)"/>
<ellipse cx="1663.5" cy="900.5" rx="34.8" ry="14.5" fill="#991027" filter="url(#f107)"/>
<ellipse cx="1747.7" cy="842.4" rx="23.2" ry="14.5" fill="#d25849" filter="url(#f108)"/>
<ellipse cx="1756.4" cy="883.1" rx="23.2" ry="11.6" fill="#c94741" filter="url(#f109)"/>
<ellipse cx="1710.0" cy="952.7" rx="23.2" ry="14.5" fill="#b1182b" filter="url(#f110)"/>
<path d="M1408.2,964.3 L1576.5,906.3 L1686.8,952.7 L1663.5,1080.4 L1651.9,1225.5 L1576.5,1225.5 L1489.4,1103.6 L1414.0,1109.4Z" fill="#bb2a34" filter="url(#f111)"/>
<ellipse cx="1535.9" cy="999.1" rx="40.6" ry="34.8" fill="#cb4942" filter="url(#f112)"/>
<ellipse cx="1622.9" cy="1080.4" rx="23.2" ry="69.6" fill="#cc4c44" filter="url(#f113)"/>
<ellipse cx="1466.2" cy="1068.8" rx="29.0" ry="34.8" fill="#b1182b" filter="url(#f114)"/>
<ellipse cx="1501.0" cy="1054.3" rx="12.8" ry="12.8" fill="#870a24" filter="url(#f115)"/>
<ellipse cx="1564.9" cy="1051.4" rx="12.8" ry="12.8" fill="#870a24" filter="url(#f116)"/>
<ellipse cx="1576.5" cy="1097.8" rx="12.8" ry="12.8" fill="#870a24" filter="url(#f117)"/>
<ellipse cx="1547.5" cy="1022.3" rx="11.6" ry="34.8" fill="#d25849" filter="url(#f118)"/>
<ellipse cx="1628.7" cy="1155.8" rx="17.4" ry="58.0" fill="#c94741" filter="url(#f119)"/>
<path d="M1373.3,1126.8 L1477.8,1092.0 L1617.1,1150.0 L1582.3,1254.5 L1547.5,1347.4 L1408.2,1370.6 L1373.3,1254.5Z" fill="#c13639" filter="url(#f120)"/>
<ellipse cx="1489.4" cy="1219.7" rx="29.0" ry="40.6" fill="#df765e" filter="url(#f121)"/>
<ellipse cx="1460.4" cy="1295.1" rx="75.4" ry="52.2" fill="#d25849" filter="url(#f122)"/>
<ellipse cx="1431.4" cy="1225.5" rx="46.4" ry="46.4" fill="#cf5246" filter="url(#f123)"/>
<ellipse cx="1431.4" cy="1161.6" rx="10.4" ry="10.4" fill="#991027" filter="url(#f124)"/>
<ellipse cx="1544.6" cy="1173.2" rx="12.8" ry="12.8" fill="#900d26" filter="url(#f125)"/>
<ellipse cx="1524.2" cy="1329.9" rx="9.3" ry="8.1" fill="#991027" filter="url(#f126)"/>
<path d="M1257.3,1045.6 L1408.2,1045.6 L1414.0,1115.2 L1373.3,1225.5 L1199.2,1242.9 L1176.0,1196.5Z" fill="#bb2a34" filter="url(#f127)"/>
<ellipse cx="1380.3" cy="1094.9" rx="10.4" ry="11.6" fill="#760521" filter="url(#f128)"/>
<ellipse cx="1280.5" cy="1161.6" rx="9.3" ry="9.3" fill="#9f1228" filter="url(#f129)"/>
<path d="M897.4,912.1 L1257.3,941.1 L1251.5,1051.4 L1176.0,1184.9 L1001.9,1155.8 L938.1,1126.8 L932.3,981.7Z" fill="#c94741" filter="url(#f130)"/>
<path d="M938.1,1080.4 L1094.8,1115.2 L1176.0,1167.4 L1152.8,1213.9 L1025.1,1213.9 L938.1,1150.0Z" fill="#b61f2e" filter="url(#f131)"/>
<path d="M874.2,1248.7 L1007.7,1213.9 L1152.8,1196.5 L1257.3,1266.1 L1199.2,1359.0 L1094.8,1359.0 L1013.5,1359.0 L885.8,1359.0Z" fill="#a51429" filter="url(#f132)"/>
<ellipse cx="955.5" cy="1300.9" rx="63.8" ry="40.6" fill="#8a0b25" filter="url(#f133)"/>
<ellipse cx="1199.2" cy="1289.3" rx="40.6" ry="29.0" fill="#8d0c25" filter="url(#f134)"/>
<ellipse cx="1042.5" cy="1254.5" rx="29.0" ry="29.0" fill="#991027" filter="url(#f135)"/>
<path d="M1199.2,1277.7 L1373.3,1277.7 L1396.6,1359.0 L1373.3,1405.4 L1292.1,1370.6 L1187.6,1364.8Z" fill="#b1182b" filter="url(#f136)"/>
<ellipse cx="1361.7" cy="1324.1" rx="8.1" ry="8.1" fill="#870a24" filter="url(#f137)"/>
<path d="M1129.6,1370.6 L1297.9,1370.6 L1315.3,1451.8 L1292.1,1500.0 L1123.8,1500.0Z" fill="#bf3338" filter="url(#f138)"/>
<ellipse cx="1193.4" cy="1440.2" rx="11.6" ry="11.6" fill="#b1182b" filter="url(#f139)"/>
<path d="M1547.5,1213.9 L1634.5,1219.7 L1582.3,1353.2 L1535.9,1324.1Z" fill="#ba2832" filter="url(#f140)"/>
<ellipse cx="1564.9" cy="1306.7" rx="9.3" ry="9.3" fill="#900d26" filter="url(#f141)"/>
<path d="M1408.2,1364.8 L1576.5,1335.8 L1547.5,1382.2 L1408.2,1405.4Z" fill="#c94741" filter="url(#f142)"/>
<ellipse cx="862.6" cy="796.0" rx="34.8" ry="40.6" fill="#ab162a" filter="url(#f143)"/>
<ellipse cx="938.1" cy="1022.3" rx="23.2" ry="34.8" fill="#dc6e57" filter="url(#f144)"/>
<ellipse cx="874.2" cy="1167.4" rx="34.8" ry="29.0" fill="#d25849" filter="url(#f145)"/>
<path d="M851.0,1370.6 L1025.1,1370.6 L1129.6,1500.0 L851.0,1500.0Z" fill="#dc6e57" filter="url(#f146)"/>
<path d="M748.2,1354.1 L1009.4,1354.1 L1038.4,1528.2 L1055.8,1760.4 L1038.4,1934.5 L864.3,1963.5 L725.0,1905.5 L701.8,1702.3 L725.0,1505.0Z" fill="#ec9374" filter="url(#f147)"/>
<path d="M829.5,1661.7 L980.4,1655.9 L1061.6,1789.4 L1032.6,1922.9 L875.9,1934.5 L806.3,1847.4 L806.3,1731.4Z" fill="#f7b799" filter="url(#f148)"/>
<ellipse cx="957.2" cy="1893.9" rx="63.8" ry="29.0" fill="#fbccb4" filter="url(#f149)"/>
<ellipse cx="881.7" cy="1789.4" rx="46.4" ry="63.8" fill="#f8bfa4" filter="url(#f150)"/>
<path d="M783.1,1354.1 L864.3,1348.3 L1009.4,1458.6 L1003.6,1505.0 L806.3,1493.4Z" fill="#df765e" filter="url(#f151)"/>
<ellipse cx="925.2" cy="1435.4" rx="9.3" ry="9.3" fill="#f09c7b" filter="url(#f152)"/>
<ellipse cx="852.7" cy="1551.4" rx="104.5" ry="63.8" fill="#d55d4c" filter="url(#f153)"/>
<ellipse cx="852.7" cy="1551.4" rx="55.1" ry="43.5" fill="#bb2a34" filter="url(#f154)"/>
<ellipse cx="849.8" cy="1551.4" rx="26.1" ry="22.1" fill="#ab162a" filter="url(#f155)"/>
<ellipse cx="957.2" cy="1586.3" rx="17.4" ry="17.4" fill="#ce4f45" filter="url(#f156)"/>
<path d="M922.3,1528.2 L1038.4,1505.0 L1084.9,1563.1 L1015.2,1632.7 L922.3,1621.1Z" fill="#d6604d" filter="url(#f157)"/>
<ellipse cx="1084.9" cy="1568.9" rx="11.6" ry="11.6" fill="#be3036" filter="url(#f158)"/>
<path d="M864.3,1267.1 L1003.6,1255.4 L1015.2,1354.1 L1096.5,1365.7 L1137.1,1423.8 L1125.5,1505.0 L997.8,1522.4 L1015.2,1452.8 L922.3,1412.2 L864.3,1354.1Z" fill="#c53e3d" filter="url(#f159)"/>
<ellipse cx="957.2" cy="1296.1" rx="63.8" ry="40.6" fill="#930e26" filter="url(#f160)"/>
<ellipse cx="951.4" cy="1293.2" rx="29.0" ry="17.4" fill="#7f0823" filter="url(#f161)"/>
<path d="M1003.6,1441.2 L1125.5,1429.6 L1119.7,1505.0 L1003.6,1522.4Z" fill="#d7634f" filter="url(#f162)"/>
<path d="M1003.6,1632.7 L1096.5,1644.3 L1177.7,1702.3 L1171.9,1748.8 L1113.9,1783.6 L1038.4,1772.0 L997.8,1719.8Z" fill="#df765e" filter="url(#f163)"/>
<path d="M1032.6,1551.4 L1148.7,1522.4 L1288.0,1563.1 L1264.8,1644.3 L1177.7,1702.3 L1096.5,1644.3 L1032.6,1621.1Z" fill="#db6b55" filter="url(#f164)"/>
<ellipse cx="1113.9" cy="1586.3" rx="34.8" ry="23.2" fill="#e48066" filter="url(#f165)"/>
<ellipse cx="1200.9" cy="1632.7" rx="11.6" ry="11.6" fill="#c53e3d" filter="url(#f166)"/>
<ellipse cx="1154.5" cy="1586.3" rx="8.1" ry="8.1" fill="#c94741" filter="url(#f167)"/>
<ellipse cx="1247.4" cy="1580.5" rx="5.8" ry="7.0" fill="#b61f2e" filter="url(#f168)"/>
<ellipse cx="1299.6" cy="1597.9" rx="23.2" ry="34.8" fill="#e37e64" filter="url(#f169)"/>
<path d="M1131.3,1371.5 L1293.8,1377.3 L1340.2,1458.6 L1328.6,1551.4 L1154.5,1516.6 L1125.5,1452.8Z" fill="#c94741" filter="url(#f170)"/>
<ellipse cx="1189.3" cy="1435.4" rx="11.6" ry="11.6" fill="#b61f2e" filter="url(#f171)"/>
<ellipse cx="1311.2" cy="1516.6" rx="11.6" ry="17.4" fill="#ba2832" filter="url(#f172)"/>
<ellipse cx="1259.0" cy="1551.4" rx="34.8" ry="17.4" fill="#dc6e57" filter="url(#f173)"/>
<path d="M655.4,1644.3 L690.2,1702.3 L713.4,1772.0 L713.4,1847.4" fill="none" stroke="#d25849" stroke-width="52.2" stroke-linecap="round" stroke-linejoin="round" filter="url(#f174)"/>
<path d="M693.1,1702.3 L713.4,1777.8 L716.3,1841.6" fill="none" stroke="#c43b3c" stroke-width="23.2" stroke-linecap="round" stroke-linejoin="round" filter="url(#f175)"/>
<path d="M643.8,1876.5 L661.2,1951.9 L672.8,2039.0" fill="none" stroke="#cb4942" stroke-width="40.6" stroke-linecap="round" stroke-linejoin="round" filter="url(#f176)"/>
<path d="M632.2,1864.9 L643.8,1893.9" fill="none" stroke="#ba2832" stroke-width="13.9" stroke-linecap="round" stroke-linejoin="round" filter="url(#f177)"/>
<path d="M574.1,1876.5 L864.3,1911.3 L875.9,1986.7 L771.4,1992.5 L748.2,2108.6 L574.1,2108.6Z" fill="#d6604d" filter="url(#f178)"/>
<ellipse cx="701.8" cy="2056.4" rx="63.8" ry="46.4" fill="#be3036" filter="url(#f179)"/>
<ellipse cx="701.8" cy="2050.6" rx="29.0" ry="20.3" fill="#b1182b" filter="url(#f180)"/>
<path d="M771.4,1661.7 L788.9,1702.3 L777.2,1737.2" fill="none" stroke="#f6b191" stroke-width="12.8" stroke-linecap="round" stroke-linejoin="round" filter="url(#f181)"/>
<path d="M574.1,1586.3 L562.5,1690.7" fill="none" stroke="#ef9979" stroke-width="34.8" stroke-linecap="round" stroke-linejoin="round" filter="url(#f182)"/>
<path d="M574.1,1731.4 L556.7,1789.4 L533.5,1847.4 L516.1,1893.9" fill="none" stroke="#cb4942" stroke-width="46.4" stroke-linecap="round" stroke-linejoin="round" filter="url(#f183)"/>
<ellipse cx="530.6" cy="1835.8" rx="9.3" ry="9.3" fill="#a81529" filter="url(#f184)"/>
<path d="M510.3,1911.3 L498.7,1957.7 L492.9,2015.8" fill="none" stroke="#df765e" stroke-width="40.6" stroke-linecap="round" stroke-linejoin="round" filter="url(#f185)"/>
<path d="M481.3,2015.8 L475.4,2062.2" fill="none" stroke="#f09c7b" stroke-width="23.2" stroke-linecap="round" stroke-linejoin="round" filter="url(#f186)"/>
<path d="M400.0,967.4 L429.0,979.0 L487.1,1022.5 L545.1,1045.8 L603.1,1066.1 L640.9,1095.1 L646.7,1127.0 L678.6,1173.4 L722.1,1199.6 L768.5,1219.9 L806.3,1237.3 L820.8,1272.1 L809.2,1312.7 L800.5,1356.3 L791.8,1385.3 L777.2,1428.8 L756.9,1486.9 L742.4,1530.4 L748.2,1575.1 L733.7,1602.9 L690.2,1632.0 L646.7,1652.3 L608.9,1669.7 L600.2,1661.0 L614.7,1617.4 L632.2,1575.1 L646.7,1501.4 L655.4,1443.3 L669.9,1414.3 L661.2,1385.3 L646.7,1356.3 L640.9,1312.7 L632.2,1269.2 L620.5,1228.6 L588.6,1211.2 L530.6,1173.4 L458.0,1129.9 L400.0,1074.8Z" fill="#fbceb7" filter="url(#f187)"/>
<path d="M400.0,984.8 L429.0,993.5 L487.1,1037.1 L545.1,1060.3 L603.1,1080.6 L635.1,1106.7 L642.3,1138.6 L674.2,1183.6 L717.8,1209.7 L762.7,1230.0 L796.1,1247.4 L807.7,1272.1 L797.6,1312.7 L787.4,1356.3 L777.2,1385.3 L762.7,1428.8 L745.3,1486.9 L730.8,1530.4 L733.7,1575.1 L719.2,1602.9 L684.4,1623.2 L646.7,1640.7 L614.7,1652.3 L626.3,1617.4 L643.8,1575.1 L658.3,1501.4 L667.0,1443.3 L678.6,1414.3 L672.8,1385.3 L658.3,1356.3 L652.5,1312.7 L643.8,1269.2 L632.2,1234.4 L597.3,1205.4 L539.3,1164.7 L463.8,1118.3 L400.0,1060.3Z" fill="#f8f1ed" filter="url(#f188)"/>
<path d="M400.0,999.3 L443.5,1016.7 L501.6,1054.5 L559.6,1077.7 L617.6,1103.8 L638.0,1132.8 L636.5,1170.5 L629.3,1196.7 L600.2,1179.3 L545.1,1138.6 L472.5,1092.2 L414.5,1045.8 L400.0,1037.1Z" fill="#ddebf2" filter="url(#f189)"/>
<ellipse cx="429.0" cy="1028.4" rx="17.4" ry="11.6" fill="#98c8e0" filter="url(#f190)" transform="rotate(30 429.0 1028.4)"/>
<ellipse cx="466.7" cy="1063.2" rx="14.5" ry="8.7" fill="#b6d7e8" filter="url(#f191)" transform="rotate(30 466.7 1063.2)"/>
<ellipse cx="545.1" cy="1115.4" rx="17.4" ry="11.6" fill="#b6d7e8" filter="url(#f192)" transform="rotate(30 545.1 1115.4)"/>
<ellipse cx="608.9" cy="1179.3" rx="14.5" ry="14.5" fill="#a7d0e4" filter="url(#f193)"/>
<ellipse cx="585.7" cy="1077.7" rx="14.5" ry="8.7" fill="#cae1ee" filter="url(#f194)"/>
<path d="M429.0,984.8 L487.1,1028.4 L539.3,1051.6" fill="none" stroke="#fddbc7" stroke-width="8.7" stroke-linecap="round" stroke-linejoin="round" filter="url(#f195)"/>
<ellipse cx="690.2" cy="1254.7" rx="29.0" ry="55.1" fill="#fcd7c2" filter="url(#f196)"/>
<ellipse cx="719.2" cy="1327.2" rx="17.4" ry="20.3" fill="#fbe4d6" filter="url(#f197)"/>
<path d="M652.5,1135.7 L690.2,1182.2 L733.7,1211.2 L786.0,1240.2 L783.1,1298.2 L768.5,1341.8" fill="none" stroke="#eaf1f5" stroke-width="17.4" stroke-linecap="round" stroke-linejoin="round" filter="url(#f198)"/>
<path d="M629.3,1205.4 L646.7,1254.7 L658.3,1312.7 L675.7,1370.8" fill="none" stroke="#dae9f2" stroke-width="16.3" stroke-linecap="round" stroke-linejoin="round" filter="url(#f199)"/>
<path d="M675.7,1336.0 L719.2,1353.4 L777.2,1353.4 L788.9,1385.3 L774.3,1443.3 L751.1,1501.4 L719.2,1544.9 L690.2,1588.4 L655.4,1617.4 L640.9,1602.9 L655.4,1530.4 L661.2,1443.3 L684.4,1399.8Z" fill="#bbdaea" filter="url(#f200)"/>
<path d="M690.2,1370.8 L748.2,1365.0 L765.6,1399.8 L748.2,1457.8 L719.2,1501.4 L690.2,1486.9 L704.7,1428.8Z" fill="#8dc2dc" filter="url(#f201)"/>
<ellipse cx="704.7" cy="1370.8" rx="17.4" ry="14.5" fill="#5ca3cb" filter="url(#f202)"/>
<ellipse cx="693.1" cy="1402.7" rx="11.6" ry="14.5" fill="#529dc8" filter="url(#f203)"/>
<ellipse cx="652.5" cy="1547.8" rx="11.6" ry="14.5" fill="#5ca3cb" filter="url(#f204)"/>
<ellipse cx="727.9" cy="1443.3" rx="11.6" ry="23.2" fill="#6eaed2" filter="url(#f205)"/>
<path d="M611.8,1228.6 L623.4,1298.2 L632.2,1356.3 L626.3,1414.3 L617.6,1472.3 L603.1,1530.4 L591.5,1575.1 L585.7,1617.4" fill="none" stroke="#f3a481" stroke-width="29.0" stroke-linecap="round" stroke-linejoin="round" filter="url(#f206)"/>
<ellipse cx="626.3" cy="1327.2" rx="7.3" ry="11.6" fill="#d6604d" filter="url(#f207)"/>
<ellipse cx="608.9" cy="1472.3" rx="7.3" ry="8.7" fill="#dc6e57" filter="url(#f208)"/>
<ellipse cx="661.2" cy="1402.7" rx="8.7" ry="11.6" fill="#f6b191" filter="url(#f209)"/>
<path d="M400.0,1086.4 L458.0,1141.5 L530.6,1185.1 L588.6,1219.9 L608.9,1225.7" fill="none" stroke="#de735c" stroke-width="16.3" stroke-linecap="round" stroke-linejoin="round" filter="url(#f210)"/>
<path d="M458.0,993.5 L521.9,1022.5 L579.9,1028.4 L632.2,1042.9" fill="none" stroke="#b3192c" stroke-width="17.4" stroke-linecap="round" stroke-linejoin="round" filter="url(#f211)"/>
<ellipse cx="579.9" cy="1028.4" rx="11.6" ry="8.7" fill="#991027" filter="url(#f212)"/>
<path d="M675.7,1112.5 L719.2,1153.1 L762.7,1176.3" fill="none" stroke="#b1182b" stroke-width="20.3" stroke-linecap="round" stroke-linejoin="round" filter="url(#f213)"/>
<path d="M791.8,1219.9 L820.8,1234.4" fill="none" stroke="#c13639" stroke-width="11.6" stroke-linecap="round" stroke-linejoin="round" filter="url(#f214)"/>
<path d="M600.2,1655.9 L603.1,1702.3 L614.7,1754.6 L597.3,1806.8 L585.7,1853.2 L574.1,1899.7 L562.5,1957.7 L550.9,2015.8 L545.1,2085.4 L539.3,2143.4" fill="none" stroke="#f9c4a9" stroke-width="26.7" stroke-linecap="round" stroke-linejoin="round" filter="url(#f215)"/>
<path d="M600.2,1661.7 L604.3,1708.1 L611.8,1748.8" fill="none" stroke="#e6eff4" stroke-width="10.4" stroke-linecap="round" stroke-linejoin="round" filter="url(#f216)"/>
<path d="M594.4,1818.4 L579.9,1888.1" fill="none" stroke="#fae7dc" stroke-width="9.3" stroke-linecap="round" stroke-linejoin="round" filter="url(#f217)"/>
<path d="M533.5,2050.6 L516.1,2108.6 L504.5,2166.7" fill="none" stroke="#fce2d2" stroke-width="34.8" stroke-linecap="round" stroke-linejoin="round" filter="url(#f218)"/>
<path d="M504.5,2039.0 L487.1,2050.6 L481.3,2073.8" fill="none" stroke="#f5aa89" stroke-width="23.2" stroke-linecap="round" stroke-linejoin="round" filter="url(#f219)"/>
<path d="M562.5,1900.0 L900.0,1900.0 L875.9,1987.1 L777.2,1987.1 L748.2,1975.4 L620.5,1972.5 L574.1,1987.1Z" fill="#d55d4c" filter="url(#f220)"/>
<path d="M632.2,1966.7 L748.2,1963.8 L771.4,2016.1 L719.2,2036.4 L632.2,2027.7Z" fill="#ec9374" filter="url(#f221)"/>
<ellipse cx="713.4" cy="1998.7" rx="17.4" ry="11.6" fill="#f7b799" filter="url(#f222)"/>
<path d="M632.2,2036.4 L719.2,2027.7 L777.2,2050.9 L765.6,2114.7 L707.6,2149.6 L649.6,2161.2 L620.5,2103.1Z" fill="#bb2a34" filter="url(#f223)"/>
<ellipse cx="713.4" cy="2053.8" rx="26.1" ry="20.3" fill="#ab162a" filter="url(#f224)"/>
<ellipse cx="696.0" cy="2100.2" rx="17.4" ry="14.5" fill="#b1182b" filter="url(#f225)"/>
<ellipse cx="806.3" cy="2036.4" rx="17.4" ry="11.6" fill="#d6604d" filter="url(#f226)"/>
<path d="M655.4,2187.3 L751.1,2187.3 L748.2,2225.0 L696.0,2256.9 L655.4,2242.4Z" fill="#be3036" filter="url(#f227)"/>
<ellipse cx="675.7" cy="2219.2" rx="17.4" ry="14.5" fill="#b61f2e" filter="url(#f228)"/>
<path d="M579.9,1929.0 L585.7,2016.1 L591.5,2103.1 L600.2,2190.2 L608.9,2262.7 L620.5,2335.3" fill="none" stroke="#f09c7b" stroke-width="43.5" stroke-linecap="round" stroke-linejoin="round" filter="url(#f229)"/>
<path d="M562.5,1987.1 L568.3,2103.1 L574.1,2219.2 L574.1,2335.3" fill="none" stroke="#fcd5bf" stroke-width="34.8" stroke-linecap="round" stroke-linejoin="round" filter="url(#f230)"/>
<path d="M536.4,2045.1 L545.1,2132.2 L545.1,2219.2 L539.3,2306.3 L550.9,2352.7" fill="none" stroke="#f8f1ed" stroke-width="37.7" stroke-linecap="round" stroke-linejoin="round" filter="url(#f231)"/>
<path d="M527.7,1900.0 L521.9,1943.5 L516.1,1987.1" fill="none" stroke="#ea8e70" stroke-width="43.5" stroke-linecap="round" stroke-linejoin="round" filter="url(#f232)"/>
<path d="M487.1,2021.9 L481.3,2056.7" fill="none" stroke="#f5aa89" stroke-width="17.4" stroke-linecap="round" stroke-linejoin="round" filter="url(#f233)"/>
<path d="M495.8,2167.0 L492.9,2204.7 L495.8,2248.2 L492.9,2288.9 L495.8,2312.1" fill="none" stroke="#ddebf2" stroke-width="34.8" stroke-linecap="round" stroke-linejoin="round" filter="url(#f234)"/>
<path d="M497.2,2172.8 L494.3,2196.0" fill="none" stroke="#98c8e0" stroke-width="8.7" stroke-linecap="round" stroke-linejoin="round" filter="url(#f235)"/>
<path d="M492.9,2219.2 L497.2,2254.0 L492.9,2286.0 L495.8,2312.1" fill="none" stroke="#81bad8" stroke-width="14.5" stroke-linecap="round" stroke-linejoin="round" filter="url(#f236)"/>
<ellipse cx="492.9" cy="2288.9" rx="6.4" ry="17.4" fill="#3b88be" filter="url(#f237)"/>
<path d="M458.0,2103.1 L443.5,2190.2 L437.7,2277.2 L452.2,2352.7 L492.9,2399.1 L550.9,2434.0 L620.5,2457.2 L684.4,2474.6" fill="none" stroke="#edf2f5" stroke-width="49.3" stroke-linecap="round" stroke-linejoin="round" filter="url(#f238)"/>
<path d="M603.1,2262.7 L690.2,2271.4 L661.2,2364.3 L550.9,2352.7 L562.5,2306.3Z" fill="#f8bda1" filter="url(#f239)"/>
<ellipse cx="638.0" cy="2329.5" rx="17.4" ry="17.4" fill="#f3a481" filter="url(#f240)"/>
<path d="M579.9,2375.9 L661.2,2375.9 L774.3,2442.7 L690.2,2451.4 L646.7,2448.5 L603.1,2422.3Z" fill="#fcdecd" filter="url(#f241)"/>
<ellipse cx="690.2" cy="2416.5" rx="20.3" ry="11.6" fill="#fcd5bf" filter="url(#f242)"/>
<ellipse cx="614.7" cy="2399.1" rx="17.4" ry="11.6" fill="#f9eee7" filter="url(#f243)"/>
<path d="M653.1,1533.9 L624.1,1586.2 L608.2,1629.7 L600.9,1673.2 L608.2,1711.0" fill="none" stroke="#f9eee7" stroke-width="27.9" stroke-linecap="round" stroke-linejoin="round" filter="url(#f244)"/>
<path d="M650.2,1539.7 L624.1,1583.3 L609.0,1626.8 L602.4,1667.4" fill="none" stroke="#d1e5f0" stroke-width="12.8" stroke-linecap="round" stroke-linejoin="round" filter="url(#f245)"/>
<ellipse cx="653.1" cy="1548.4" rx="8.7" ry="8.7" fill="#87beda" filter="url(#f246)"/>
<path d="M612.5,1713.9 L616.9,1754.5 L606.7,1783.5" fill="none" stroke="#fbceb7" stroke-width="11.6" stroke-linecap="round" stroke-linejoin="round" filter="url(#f247)"/>
<path d="M635.7,1342.4 L635.7,1412.1 L629.9,1475.9 L621.2,1528.1" fill="none" stroke="#f7b99c" stroke-width="31.9" stroke-linecap="round" stroke-linejoin="round" filter="url(#f248)"/>
<path d="M653.1,1354.0 L650.2,1412.1 L641.5,1464.3" fill="none" stroke="#fcdecd" stroke-width="8.7" stroke-linecap="round" stroke-linejoin="round" filter="url(#f249)"/>
<ellipse cx="612.5" cy="1481.7" rx="5.8" ry="5.8" fill="#e6866a" filter="url(#f250)"/>
<path d="M449.0,2070.4 L440.8,2111.2 L442.9,2148.0 L420.4,2172.4 L426.5,2182.7 L461.2,2180.6 L432.7,2213.3 L422.4,2243.9 L424.5,2274.5 L428.6,2315.3 L436.7,2345.9 L444.9,2368.4 L455.1,2386.7 L481.6,2407.1 L502.0,2427.6 L542.9,2448.0 L573.5,2462.2 L604.1,2474.5 L644.9,2478.6 L685.7,2484.7 L710.2,2484.7 L706.1,2458.2 L661.2,2450.0 L646.9,2433.7 L634.7,2427.6 L595.9,2417.3 L575.5,2409.2 L573.5,2384.7 L559.2,2372.4 L526.5,2356.1 L530.6,2335.7 L489.8,2325.5 L493.9,2305.1 L489.8,2274.5 L485.7,2254.1 L491.8,2233.7 L502.0,2213.3 L485.7,2192.9 L481.6,2172.4 L498.0,2156.1 L514.3,2135.7 L518.4,2101.0 L495.9,2080.6Z" fill="#eff3f5" filter="url(#f251)"/>
<path d="M487.8,2164.3 L542.9,2156.1 L555.1,2192.9 L542.9,2254.1 L538.8,2315.3 L506.1,2321.4 L489.8,2294.9 L485.7,2233.7Z" fill="#d7e8f1" filter="url(#f252)"/>
<path d="M495.9,2172.4 L492.9,2192.9" fill="none" stroke="#87beda" stroke-width="7.3" stroke-linecap="round" stroke-linejoin="round" filter="url(#f253)"/>
<path d="M493.9,2229.6 L491.8,2254.1 L493.9,2284.7 L498.0,2307.1" fill="none" stroke="#81bad8" stroke-width="10.2" stroke-linecap="round" stroke-linejoin="round" filter="url(#f254)"/>
<ellipse cx="495.9" cy="2303.1" rx="4.9" ry="8.2" fill="#3f8ec0" filter="url(#f255)"/>
<ellipse cx="491.8" cy="2258.2" rx="4.1" ry="8.2" fill="#4c99c6" filter="url(#f256)"/>
<path d="M514.3,2070.4 L526.5,2131.6 L542.9,2156.1" fill="none" stroke="#fae7dc" stroke-width="22.4" stroke-linecap="round" stroke-linejoin="round" filter="url(#f257)"/>
<path d="M530.6,2335.7 L563.3,2356.1 L604.1,2368.4" fill="none" stroke="#fce2d2" stroke-width="24.5" stroke-linecap="round" stroke-linejoin="round" filter="url(#f258)"/>
<path d="M583.7,2380.6 L655.1,2376.5 L706.1,2431.6 L661.2,2450.0 L624.5,2427.6 L583.7,2413.3Z" fill="#fcdecd" filter="url(#f259)"/>
</g>
<path d="M178.7,281.3 L187.4,288.3 L197.9,295.3 L201.3,305.7 L206.6,309.2 L213.5,307.5 L222.2,314.4 L227.5,317.0 L239.7,316.2 L246.6,312.7 L257.1,307.5 L267.5,304.0 L276.2,300.5 L283.2,295.3 L290.1,290.4 L298.9,290.9 L309.3,292.7 L312.8,295.6 L323.2,296.1 L333.7,299.6 L344.1,304.8 L352.8,310.9 L359.8,317.9 L365.0,322.3 L370.2,328.4 L375.5,333.6 L379.0,337.1 L380.7,344.0 L384.2,346.6 L386.8,342.3 L385.0,333.6 L379.8,326.6 L382.4,322.3 L389.4,319.7 L398.1,314.4 L405.1,305.7 L410.3,298.8 L420.7,295.3 L424.2,290.0 L421.6,286.6 L424.2,276.1 L425.1,267.4 L427.7,258.7 L431.2,253.5 L438.2,250.0 L440.2,247.2 L448.9,241.4 L466.3,242.9 L472.1,234.2 L483.7,235.6 L498.2,234.2 L512.7,226.9 L527.2,219.6 L538.9,212.4 L540.3,203.7 L550.5,197.9 L562.1,196.4 L572.2,203.7 L573.7,209.5 L562.1,218.2 L550.5,224.0 L549.0,232.7 L556.3,242.9 L559.8,247.2 L567.9,244.3 L579.5,238.5 L591.1,234.2 L602.7,228.4 L607.1,225.4 L604.1,221.1 L602.7,209.5 L610.0,203.7 L617.2,208.0 L618.7,219.6 L620.1,226.0 L631.7,226.9 L650.0,228.4 L661.6,237.1 L670.3,248.7 L673.2,258.8 L687.7,261.7 L702.2,264.6 L725.4,267.5 L748.7,270.4 L766.1,273.3 L777.7,275.4 L789.3,270.4 L800.9,264.6 L812.5,260.3 L829.9,255.9 L847.3,253.0 L870.5,253.0 L883.6,253.0 L864.7,258.8 L850.2,261.7 L847.3,269.0 L858.9,266.1 L863.3,274.8 L870.5,277.7 L882.2,279.1 L893.8,280.6 L905.4,289.3 L917.0,295.1 L922.8,306.7 L924.2,321.2 L937.3,324.1 L951.8,331.4 L969.2,340.1 L983.7,350.2 L995.3,360.4 L1006.9,373.4 L1018.5,386.5 L1030.2,398.1 L1038.9,405.4 L1044.7,412.6 L1062.1,414.1 L1082.4,415.5 L1094.0,417.0 L1114.3,418.4 L1131.7,419.3 L1150.0,419.9 L1167.4,427.1 L1181.9,432.9 L1196.4,441.6 L1212.4,453.3 L1228.4,463.4 L1237.1,469.2 L1245.8,483.7 L1247.2,504.0 L1251.6,521.4 L1257.4,538.9 L1266.1,538.9 L1274.8,551.9 L1284.9,556.3 L1286.4,567.9 L1282.0,585.3 L1279.1,601.2 L1292.2,600.7 L1300.9,611.4 L1315.4,618.7 L1334.3,621.6 L1334.3,628.8 L1350.2,634.6 L1353.1,630.3 L1370.5,633.2 L1388.0,640.4 L1405.4,647.7 L1422.8,654.9 L1437.3,660.7 L1451.8,656.4 L1462.0,669.4 L1469.2,675.2 L1486.6,682.5 L1504.0,689.8 L1524.3,698.5 L1536.0,702.8 L1553.4,702.8 L1574.8,710.2 L1595.1,707.3 L1618.3,707.3 L1635.7,716.0 L1647.3,726.1 L1664.7,740.6 L1682.2,755.1 L1699.6,769.6 L1711.2,776.9 L1725.7,780.7 L1740.2,781.3 L1757.6,782.7 L1769.2,787.1 L1776.5,801.6 L1780.8,816.1 L1783.7,827.7 L1783.7,839.3 L1786.0,862.5 L1786.6,879.9 L1785.2,897.3 L1780.8,908.9 L1775.0,926.3 L1764.9,936.5 L1754.7,946.7 L1746.0,955.4 L1734.4,967.0 L1719.9,978.6 L1708.3,993.1 L1699.6,1010.5 L1690.9,1025.0 L1682.2,1036.6 L1670.5,1045.3 L1658.9,1052.6 L1653.1,1062.7 L1651.7,1077.2 L1650.2,1091.8 L1648.8,1106.3 L1650.2,1120.8 L1653.1,1135.3 L1654.6,1144.0 L1650.2,1161.4 L1647.3,1175.9 L1643.0,1193.3 L1644.4,1204.9 L1641.5,1210.7 L1631.4,1219.4 L1627.0,1225.2 L1625.6,1239.8 L1627.0,1257.2 L1624.1,1268.8 L1621.2,1277.5 L1618.0,1273.2 L1604.1,1294.1 L1592.5,1310.4 L1586.7,1322.0 L1582.1,1331.3 L1584.4,1347.5 L1573.9,1354.5 L1562.3,1359.1 L1553.0,1366.1 L1550.7,1375.4 L1546.1,1382.3 L1532.2,1384.6 L1515.9,1386.5 L1499.7,1385.8 L1485.7,1384.6 L1476.4,1387.0 L1467.2,1391.6 L1462.5,1396.3 L1450.9,1398.6 L1437.0,1404.4 L1439.3,1412.5 L1430.0,1414.8 L1416.1,1414.8 L1406.8,1417.2 L1395.2,1423.0 L1383.6,1429.9 L1372.0,1438.0 L1360.4,1447.3 L1351.1,1454.3 L1346.4,1463.6 L1339.5,1472.9 L1332.5,1482.2 L1330.2,1493.8 L1328.7,1510.7 L1330.2,1531.0 L1330.2,1551.3 L1324.3,1565.9 L1309.8,1577.5 L1295.3,1589.1 L1283.7,1603.6 L1275.0,1621.0 L1266.3,1635.5 L1254.7,1650.0 L1243.1,1661.6 L1228.6,1676.1 L1211.2,1690.6 L1202.5,1702.2 L1196.7,1716.8 L1182.2,1731.3 L1167.6,1742.9 L1161.8,1757.4 L1150.2,1769.0 L1138.6,1771.9 L1124.1,1780.6 L1115.4,1783.5 L1095.1,1782.9 L1074.8,1780.6 L1060.3,1777.7 L1048.7,1774.2 L1034.2,1769.0 L1016.7,1764.6 L1003.7,1757.4 L999.3,1737.1 L997.9,1751.6 L1005.1,1769.0 L1019.6,1780.6 L1034.2,1789.3 L1042.9,1798.0 L1035.6,1812.5 L1040.0,1824.1 L1055.9,1829.9 L1058.8,1844.4 L1046.7,1864.5 L1032.2,1879.0 L1029.3,1889.2 L1014.7,1896.4 L997.3,1902.2 L974.1,1908.0 L950.9,1912.4 L927.7,1915.3 L904.5,1917.3 L884.2,1918.2 L875.4,1915.3 L868.2,1911.5 L869.6,1922.5 L876.9,1932.7 L874.0,1945.8 L869.6,1948.7 L868.2,1960.3 L863.8,1963.2 L865.3,1971.9 L871.1,1976.2 L869.6,1982.0 L858.0,1986.4 L843.5,1989.3 L826.1,1989.9 L811.6,1986.4 L800.0,1983.5 L791.8,1979.8 L780.2,1976.9 L774.3,1984.2 L777.2,1998.7 L778.7,2016.1 L783.1,2023.3 L797.6,2026.2 L812.1,2021.9 L822.2,2023.3 L826.6,2033.5 L825.1,2045.1 L815.0,2048.0 L804.8,2045.1 L800.5,2049.4 L788.9,2056.7 L777.2,2065.4 L770.0,2077.0 L771.4,2097.3 L762.7,2106.0 L756.9,2116.2 L742.4,2120.5 L725.0,2126.3 L707.6,2135.1 L698.9,2146.7 L693.1,2158.3 L696.0,2169.9 L707.6,2178.6 L719.2,2185.8 L733.7,2187.3 L748.2,2188.7 L754.0,2198.9 L752.6,2213.4 L745.3,2225.0 L733.7,2233.7 L719.2,2239.5 L707.6,2248.2 L696.0,2256.9 L690.2,2265.6 L688.7,2280.2 L678.6,2286.0 L664.1,2290.3 L652.5,2300.5 L643.8,2312.1 L639.4,2326.6 L643.8,2338.2 L648.1,2348.3 L653.9,2355.6 L661.2,2361.4 L665.5,2365.8 L661.2,2375.9 L669.9,2384.6 L662.6,2390.4 L672.8,2399.1 L681.5,2410.7 L696.0,2422.3 L713.4,2431.1 L733.7,2438.3 L754.0,2442.7 L774.3,2442.1 L770.0,2449.9 L748.2,2452.8 L725.0,2451.4 L707.6,2457.2 L690.2,2461.5 M510.3,2062.5 L514.6,2045.1 L519.0,2027.7 L527.7,2016.1 L534.9,2007.4 L533.5,1998.7 L521.9,2000.1 L510.3,2001.6 L498.7,2008.0 L493.4,2013.8 L495.8,2021.9 L490.0,2036.4 L487.1,2050.9 L485.6,2062.5 L466.7,2061.1 L471.1,2045.1 L472.5,2030.6 L475.4,2019.0 L478.4,2011.7 L487.1,2003.0 L482.7,1992.9 L479.8,1978.4 L487.1,1963.8 L488.5,1952.2 L498.7,1943.5 L503.0,1929.0 L493.5,1905.4 L495.0,1888.0 L490.6,1870.6 L490.6,1854.6 L505.1,1850.2 L508.0,1844.4 L515.3,1832.8 L521.1,1815.4 L528.4,1800.9 L537.1,1786.4 L541.4,1771.9 L545.8,1754.5 L554.5,1737.1 L555.9,1722.6 L558.8,1702.2 L560.3,1681.9 L557.4,1661.6 L555.9,1644.2 L557.4,1626.8 L566.1,1615.2 L564.6,1597.8 L561.7,1580.4 L570.4,1565.9 L574.8,1545.5 L580.6,1522.3 L586.4,1499.1 L589.3,1475.9 L596.5,1461.4 L593.6,1441.1 L595.1,1412.1 L590.7,1400.4 L595.1,1385.9 L600.9,1368.5 L605.3,1348.2 L609.6,1325.0 L606.6,1312.7 L604.6,1269.2 L601.7,1240.2 L600.2,1224.2 L585.7,1217.0 L568.3,1205.4 L562.5,1193.8 L539.3,1182.2 L516.1,1170.5 L512.7,1173.0 L492.4,1161.4 L475.0,1149.8 L457.6,1138.2 L440.2,1126.6 L425.7,1112.1 L414.1,1097.6 L402.5,1086.0 L398.1,1075.8 L403.9,1071.4 L399.6,1056.9 L390.9,1045.3 L382.2,1027.9 L370.5,1009.1 L358.9,990.2 L353.1,978.6 L344.4,961.2 L335.7,940.9 L327.0,923.4 L318.3,903.1 L309.6,885.7 L298.0,868.3 L286.4,850.9 L274.8,836.4 L263.2,827.7 L248.7,819.0 L240.0,808.8 L245.8,795.8 L237.1,784.2 L231.3,769.6 L237.1,755.1 L248.7,743.5 L260.3,731.9 L269.0,726.0 L277.7,723.1 L279.1,713.0 L267.5,710.1 L264.6,704.3 L254.5,695.6 L245.8,686.9 L250.1,678.1 L251.6,663.6 L247.2,652.0 L254.5,646.2 L261.7,640.4 L261.7,628.8 L266.1,617.2 L276.2,608.5 L274.8,596.9 L274.8,585.3 L289.3,579.5 L303.8,576.6 L315.4,570.8 L311.1,560.6 L315.4,556.3 L324.1,553.4 L322.7,544.7 L325.6,534.5 L338.6,528.7 L350.2,521.4 L354.6,512.7 L361.8,502.6 L367.6,492.4 L374.9,483.7 L372.0,475.0 L367.6,466.3 L366.2,454.7 L365.0,450.1 L365.9,441.5 L365.0,431.1 L359.8,425.9 L366.8,424.1 L369.4,419.8 L365.0,411.9 L361.5,403.2 L365.9,394.5 L363.3,387.6 L356.3,382.3 L354.6,375.4 L349.3,366.7 L344.1,361.4 L337.2,354.5 L331.9,347.5 L330.2,340.5 L335.4,337.1 L331.9,331.8 L326.7,326.6 L319.7,321.4 L312.8,316.2 L307.6,311.8 L298.9,310.9 L291.9,314.4 L286.7,319.7 L281.4,326.6 L274.5,331.8 L264.9,334.5 L261.4,338.8 L264.0,344.9 L271.0,352.7 L277.1,359.7 L272.7,364.9 L264.0,369.3 L251.8,370.1 L246.6,366.7 L243.1,358.0 L234.4,356.2 L227.5,352.7 L222.2,347.5 L217.0,338.8 L208.3,337.9 L197.9,338.8 L187.4,336.2 L178.7,340.5 L178.7,281.3 M559.2,248.7 L565.0,263.2 L573.7,277.7 L576.6,289.3 L575.1,300.9 L567.9,308.2 L556.3,308.2 L551.9,298.0 L544.7,289.3 L543.2,280.6 L547.6,270.4 L554.8,261.7Z M1251.8,1631.2 L1256.2,1641.3 L1243.1,1652.9 L1237.3,1664.5 L1225.7,1671.8 L1214.1,1677.6 L1209.7,1673.2 L1217.0,1664.5 L1228.6,1658.7 L1235.8,1647.1 L1240.2,1635.5 L1246.0,1629.7Z" fill="none" stroke="#000" stroke-width="2.2" stroke-linejoin="round"/>
<path d="M364.1,323.1 L366.8,331.8 L372.0,344.9 L365.0,352.7 L358.1,359.7 L352.8,354.5 L351.1,363.2 L349.3,370.1 M213.5,357.1 L218.8,354.5 L222.2,361.4 L220.5,366.7 L215.3,368.4 L213.5,357.1 M307.6,326.6 L314.5,328.4 L316.3,335.3 L309.3,336.2 L307.6,326.6 M197.9,297.0 L204.8,295.3 L213.5,302.2 L215.3,307.5 M549.0,224.0 L536.0,234.2 L524.3,245.8 L514.2,266.1 L509.8,283.5 L499.7,303.8 L511.3,300.9 L520.0,312.5 L527.2,329.9 L530.2,347.3 L533.1,361.8 L541.8,373.4 L556.3,377.8 L570.8,376.3 L588.2,376.3 L602.7,379.3 L614.3,390.9 L625.9,402.5 L631.7,406.8 L650.0,403.9 M311.1,560.6 L324.1,570.8 L338.6,579.5 L353.1,585.3 L363.3,594.0 L369.1,607.1 L382.2,611.4 L396.7,605.6 L402.5,598.3 L417.0,608.5 L425.7,615.8 M425.7,615.8 L434.4,620.1 L437.3,637.5 L431.5,643.3 L428.6,654.9 L419.9,669.4 L405.4,686.9 L382.2,701.4 L353.1,715.9 L335.7,730.4 L329.9,747.8 L324.1,762.3 L315.4,771.0 L306.7,765.2 L295.1,762.3 L280.6,750.7 L266.1,759.4 L261.7,750.7 L269.0,739.1 L274.8,723.1 M425.7,615.8 L440.2,612.9 L451.8,623.0 L463.4,631.7 L469.2,643.3 L480.8,649.1 L492.4,654.9 L496.8,669.4 L504.0,675.2 L508.4,686.9 L515.6,692.7 L533.1,689.8 L553.4,684.0 L567.9,689.8 L582.4,686.9 L596.9,695.6 L610.0,701.4 L601.2,718.8 L591.1,739.1 L602.7,747.8 L614.3,756.5 M614.3,756.5 L620.1,715.9 L625.9,686.9 L631.7,649.1 L625.9,628.8 L611.4,614.3 L611.4,591.1 L640.4,591.1 L640.4,576.6 L617.2,575.1 L617.2,554.8 L650.0,553.4 M650.0,405.4 L679.0,401.9 L697.9,405.4 L696.4,412.6 L687.7,428.6 L684.8,440.2 L686.3,463.4 L695.0,483.7 L702.2,496.8 L683.4,516.2 L695.0,524.3 L705.1,540.3 L709.5,556.3 L710.9,570.8 M650.0,553.4 L668.9,553.4 L673.2,548.1 L687.7,545.2 L699.3,538.3 L705.1,540.3 M951.8,334.3 L943.1,347.3 L928.6,350.2 L924.2,358.9 L928.6,370.5 L937.3,376.3 L922.8,385.1 L909.7,390.9 L908.3,405.4 L901.0,414.1 L911.2,425.7 L924.2,440.2 L927.1,446.0 M927.1,446.0 L917.0,454.7 L899.6,463.4 L885.1,469.2 L867.6,475.0 L856.0,479.4 L853.1,489.5 L844.4,483.7 L835.7,477.9 L821.2,480.8 L806.7,475.0 L792.2,473.6 L784.9,469.2 L795.1,480.8 L803.8,492.4 L808.2,498.2 L806.7,512.7 L812.5,527.2 L824.1,530.2 L832.8,533.1 L832.8,538.9 L812.5,547.6 L809.6,559.2 L795.1,567.9 L777.7,579.5 L763.2,585.3 L760.3,589.6 L748.7,582.4 L737.1,585.3 L719.6,573.7 L710.9,570.8 M832.8,538.9 L853.1,544.7 L857.5,562.1 L863.3,579.5 L864.7,596.9 L872.0,620.1 L863.3,637.5 L882.2,654.9 L896.7,665.1 L893.8,643.3 L902.5,631.7 L919.9,628.8 L925.7,640.4 L935.8,631.7 L940.2,614.3 L946.0,604.1 L983.7,604.1 M925.7,440.2 L940.2,435.8 L946.0,443.1 L944.5,460.5 L956.2,463.4 L962.0,480.8 L954.7,492.4 L957.6,506.9 L954.7,524.3 L953.3,536.0 L957.6,550.5 L969.2,562.1 L983.7,570.8 L998.2,562.1 L1015.6,556.3 L1036.0,547.6 L1059.2,546.1 M1043.2,412.6 L1037.4,428.6 L1038.9,440.2 L1021.4,446.0 L1017.1,460.5 L1012.7,472.1 L1018.5,486.6 L1027.2,498.2 L1038.9,501.1 L1041.8,515.6 L1050.5,530.2 L1059.2,546.1 M1059.2,546.1 L1079.5,547.6 L1082.4,530.2 L1102.7,528.7 L1117.2,525.8 L1125.9,534.5 M1148.3,420.2 L1137.5,428.6 L1131.7,446.0 L1134.6,469.2 L1143.3,486.6 L1146.2,504.0 L1140.4,518.5 L1134.6,530.2 L1125.9,534.5 M1125.9,534.5 L1137.5,538.9 L1150.0,536.0 M983.7,570.8 L983.7,604.1 L983.7,620.1 L989.5,637.5 L1001.1,649.1 L1012.7,654.9 L1024.3,666.5 L1038.9,675.2 L1056.3,686.9 L1067.9,684.0 L1076.6,681.1 L1067.9,692.7 M1226.9,464.9 L1216.7,483.7 L1208.0,498.2 L1202.2,515.6 L1193.5,530.2 L1181.9,538.9 L1170.3,536.0 L1158.7,534.5 L1150.0,536.0 M1150.0,562.1 L1161.6,567.9 L1167.4,579.5 L1176.1,591.1 L1181.9,611.4 L1193.5,628.8 L1199.3,643.3 L1210.9,652.0 L1221.1,649.1 L1228.4,634.6 L1234.2,625.9 L1254.5,614.3 L1279.1,601.8 M1411.2,652.0 L1409.7,672.3 L1405.4,686.9 L1399.6,701.4 L1394.1,699.9 M1571.9,710.2 L1569.0,729.0 L1574.8,737.7 L1577.7,758.0 L1574.8,772.5 L1584.9,787.1 L1586.4,801.6 L1589.3,821.9 L1595.1,836.4 L1600.9,842.2 L1598.0,859.6 M1554.5,704.4 L1545.8,720.3 L1531.3,729.0 L1522.5,743.5 L1516.7,755.1 L1513.8,775.4 L1513.8,798.7 L1519.6,816.1 L1518.2,833.5 L1502.2,839.3 L1487.7,837.8 L1473.2,845.1 L1461.6,853.8 L1450.0,859.6 M1699.6,774.0 L1688.0,787.1 L1679.3,804.5 L1667.6,819.0 L1663.3,827.7 M1663.3,827.7 L1658.9,845.1 L1664.7,856.7 L1660.4,871.2 M1663.3,827.7 L1682.2,824.8 L1696.7,819.0 L1711.2,814.6 L1702.5,827.7 L1701.0,836.4 L1717.0,839.3 L1728.6,845.1 L1734.4,827.7 L1740.2,824.8 L1757.6,827.7 L1780.8,827.7 M1660.4,871.2 L1673.4,874.1 L1690.9,865.4 L1705.4,858.2 L1717.0,859.6 L1711.2,868.3 L1708.3,879.9 L1717.0,888.6 L1728.6,881.4 L1740.2,874.1 L1757.6,868.3 L1772.1,865.4 L1785.2,865.4 M1598.0,859.6 L1612.5,858.2 L1627.0,858.2 L1638.6,868.3 L1647.3,874.1 L1660.4,871.2 M1598.0,859.6 L1593.6,868.3 L1598.0,879.9 L1586.4,891.5 L1574.8,903.1 M1574.8,903.1 L1586.4,914.7 L1592.2,929.3 L1603.8,923.4 L1615.4,908.9 L1635.7,898.8 L1650.2,903.1 L1664.7,908.9 L1670.5,917.6 L1679.3,926.3 M1679.3,924.9 L1690.9,911.8 L1705.4,917.6 L1719.9,923.4 L1734.4,920.5 L1751.8,911.8 L1766.3,908.4 L1780.8,908.9 M1679.3,926.3 L1682.2,932.2 L1696.7,938.0 L1711.2,946.7 L1725.7,955.4 L1743.1,958.3 M1682.2,932.2 L1685.1,946.7 L1688.0,961.2 L1676.3,972.8 L1682.2,984.4 L1690.9,996.0 L1702.5,998.9 L1708.3,993.1 M1574.8,903.1 L1560.3,914.7 L1545.8,923.4 L1522.5,933.6 L1513.8,926.3 L1499.3,922.0 L1487.7,932.2 L1493.5,943.8 L1490.6,955.4 L1479.0,967.0 L1464.5,969.9 L1450.0,978.6 M1450.0,1101.9 L1464.5,1091.8 L1479.0,1088.9 L1487.7,1091.8 L1486.3,1101.9 L1505.1,1103.4 L1522.5,1112.1 L1540.0,1119.3 L1554.5,1117.9 L1566.1,1126.6 L1571.9,1138.2 L1589.3,1135.3 L1606.7,1141.1 L1621.2,1151.2 L1615.4,1164.3 L1606.7,1167.2 L1608.2,1175.9 L1598.0,1181.7 L1595.1,1193.3 L1603.8,1204.9 L1609.6,1210.7 M1609.6,1210.7 L1627.0,1224.7 M1609.6,1210.7 L1592.2,1213.6 L1580.6,1219.4 L1577.7,1231.1 L1583.5,1242.7 L1574.8,1239.8 L1583.5,1254.3 M1066.1,700.0 L997.9,836.4 M997.9,836.4 L1008.0,856.7 L1002.2,879.9 L1000.8,903.1 L999.3,906.6 L950.0,906.6 M1008.0,856.7 L1019.6,879.9 L1028.4,903.1 L1045.8,917.6 L1055.9,925.8 L1273.6,940.9 M1273.6,940.9 L1280.8,920.5 L1295.3,903.1 L1306.9,882.8 L1309.8,868.3 L1302.6,862.5 L1309.8,845.1 L1324.3,833.5 L1336.0,821.9 L1338.9,804.5 L1333.1,795.8 L1324.3,791.4 M1324.3,791.4 L1338.9,792.9 L1356.3,790.0 L1367.9,798.7 L1369.3,816.1 L1367.9,833.5 L1359.2,850.9 L1370.8,865.4 L1382.4,879.9 L1394.0,877.0 L1399.8,882.8 L1394.0,891.5 L1385.3,903.1 L1382.4,914.7 L1391.1,926.3 L1396.9,938.0 L1402.7,949.6 L1420.1,955.4 L1425.9,952.5 M1324.3,791.4 L1341.8,775.4 L1356.3,763.8 L1370.8,749.3 L1379.5,731.9 L1388.2,717.4 L1394.0,700.0 M1273.6,940.9 L1264.9,961.2 L1260.5,978.6 L1257.6,998.9 L1260.5,1019.2 L1259.1,1036.6 L1264.9,1042.4 L1276.5,1027.9 L1269.2,1041.0 L1283.7,1046.8 L1302.6,1055.5 L1309.8,1042.4 L1318.5,1041.0 L1330.2,1052.6 L1341.8,1055.5 L1359.2,1059.8 L1362.1,1052.6 L1376.6,1051.1 L1394.0,1046.8 L1405.6,1045.3 M1264.9,1042.4 L1260.5,1056.9 L1254.7,1074.3 L1251.8,1091.8 L1246.0,1109.2 L1231.5,1117.9 L1222.8,1135.3 L1208.3,1146.9 L1193.8,1161.4 L1182.2,1175.9 L1174.9,1193.3 L1173.4,1207.8 L1176.3,1216.5 L1182.2,1228.1 L1196.7,1236.9 L1211.2,1245.6 L1225.7,1251.4 L1240.2,1260.1 L1250.3,1265.9 M1176.3,1215.1 L1158.9,1213.6 L1150.2,1210.7 L1157.5,1190.4 L1156.6,1204.9 L1147.3,1199.1 L1135.7,1197.7 L1124.1,1199.1 L1109.6,1202.0 L1095.1,1193.3 L1077.7,1187.5 L1060.3,1193.3 L1045.8,1202.0 L1031.3,1210.7 L1022.5,1204.9 L1008.0,1193.3 L999.3,1178.8 L997.9,1164.3 L1002.2,1157.1 L950.0,1157.1 M1022.5,1204.9 L1031.3,1222.3 L1022.5,1245.6 L1016.7,1265.9 L1008.0,1283.3 L1010.9,1294.9 L1008.0,1309.4 L1016.7,1325.1 M950.0,1258.6 L977.6,1259.5 L1008.0,1283.3 M1250.3,1265.9 L1257.6,1251.4 L1269.2,1239.8 L1286.6,1234.0 L1306.9,1225.2 L1327.2,1222.3 L1350.5,1222.3 L1370.8,1213.6 L1367.9,1199.1 L1370.8,1190.4 L1378.0,1175.9 L1370.8,1161.4 L1367.9,1146.9 L1376.6,1132.4 L1385.3,1117.9 L1396.9,1106.3 L1414.3,1112.1 M1405.6,1045.3 L1405.6,1062.7 L1408.5,1077.2 L1417.2,1091.8 L1414.3,1112.1 L1428.8,1112.1 L1450.0,1101.9 M1405.6,1045.3 L1405.6,1019.2 L1402.7,1001.8 L1396.9,990.2 L1402.7,975.7 L1414.3,964.1 L1425.9,952.5 L1431.7,961.2 L1437.5,972.8 L1450.0,975.7 M1425.9,952.5 L1421.6,932.2 L1417.2,911.8 L1423.0,891.5 L1431.7,874.1 L1450.0,864.0 M1250.3,1265.9 L1246.0,1280.4 L1248.9,1289.1 L1266.3,1277.5 L1283.7,1283.3 L1300.0,1282.4 M1248.9,1289.1 L1237.3,1303.6 L1225.7,1318.1 L1219.9,1325.1 M613.1,758.0 L592.2,752.2 L571.9,759.5 L548.7,765.3 L531.3,775.4 L516.7,784.2 L512.4,798.7 L505.1,816.1 L506.6,827.7 L493.5,836.4 L486.3,848.0 L479.0,858.2 L486.3,868.3 L489.2,879.9 L499.3,897.3 L512.4,914.7 L505.1,926.3 L525.4,929.3 L537.1,938.0 L540.0,946.7 L566.1,946.7 L580.6,938.0 L593.6,929.3 L591.6,978.6 L600.9,981.5 L612.5,978.6 L627.0,978.6 L653.1,984.4 L664.7,980.0 L676.3,971.3 L690.9,964.1 L702.5,955.4 L711.2,946.7 L719.9,942.3 L740.2,940.9 L757.6,939.4 L767.8,936.5 M486.3,849.4 L595.1,882.8 L673.4,919.1 L722.8,929.3 M722.8,929.3 L754.7,930.7 L769.2,923.4 L783.7,914.2 L801.1,913.3 L824.3,879.3 L851.9,879.3 L859.2,888.6 L867.9,897.3 L876.6,906.0 L885.3,904.6 L894.0,906.6 L950.0,906.6 M767.8,936.5 L769.2,952.5 L767.8,969.9 L769.2,990.2 L775.0,1004.7 L786.6,1016.3 L798.2,1027.9 L815.6,1029.4 L833.1,1036.6 L850.5,1045.3 L867.9,1051.1 L885.3,1062.7 L902.7,1064.2 L923.0,1070.0 L931.7,1080.2 L933.2,1088.9 L937.5,1106.3 L940.4,1117.9 L928.8,1117.9 L940.4,1135.3 L941.9,1157.1 L950.0,1157.1 M923.0,1070.0 L934.6,1059.8 L940.4,1042.4 L950.0,1027.9 M894.0,906.6 L892.5,926.3 L898.3,946.7 L895.4,980.0 L925.9,980.9 L943.3,985.8 L943.3,1007.6 L950.0,1022.1 M627.0,978.6 L641.5,1004.7 L653.1,1022.1 L656.0,1030.8 L647.3,1039.5 L647.3,1062.7 L650.2,1083.1 L641.5,1097.6 L634.3,1109.2 L640.1,1120.8 L632.8,1132.4 L635.7,1146.9 L641.5,1155.6 L650.2,1158.5 L638.6,1170.1 L624.1,1187.5 L627.0,1199.1 M600.2,1224.2 L614.7,1221.3 L619.1,1211.2 L620.5,1202.5 L629.3,1199.6 M629.3,1199.6 L640.9,1219.9 L646.7,1246.0 L661.2,1260.5 L658.3,1272.1 L655.4,1286.6 L661.2,1306.9 L668.4,1324.9 M950.0,1258.6 L888.2,1271.7 L870.8,1306.5 L869.3,1325.1 M670.5,1325.0 L679.3,1354.0 L682.2,1374.3 L696.7,1380.1 L709.7,1372.9 L712.6,1365.6 L719.9,1356.9 L737.3,1351.1 L741.6,1343.9 L751.8,1354.0 L769.2,1354.0 L786.6,1354.0 L793.9,1362.7 L801.1,1378.7 L806.9,1362.7 L815.6,1348.2 L851.9,1348.2 L859.2,1354.0 L867.9,1325.0 M859.2,1355.5 L870.8,1368.5 L879.5,1383.0 L891.1,1394.6 L908.5,1406.3 L925.9,1415.0 L950.0,1419.3 M709.7,1372.9 L705.4,1391.7 L699.6,1415.0 L682.2,1422.2 L667.6,1429.5 L658.9,1441.1 L664.7,1452.7 L660.4,1470.1 L664.7,1487.5 L658.9,1499.1 L667.6,1516.5 L653.1,1522.3 L647.3,1533.9 L638.6,1551.3 L624.1,1565.9 L618.3,1580.4 L609.6,1594.9 L612.5,1609.4 L616.9,1621.0 L608.2,1629.7 L602.4,1641.3 L600.9,1652.9 L593.6,1658.7 L592.2,1673.2 L598.0,1681.9 L600.9,1693.5 L605.3,1705.2 L611.1,1725.5 L615.4,1745.8 L616.9,1757.4 L609.6,1763.2 L602.4,1774.8 L599.4,1789.3 L593.6,1792.2 L598.0,1803.8 L600.9,1818.3 L592.2,1827.0 L577.7,1835.7 L573.3,1847.3 L574.8,1861.9 L571.9,1876.4 L577.7,1890.9 L580.6,1902.5 L584.1,1908.3 L579.4,1909.7 M950.0,1412.1 L967.4,1423.7 L984.8,1435.3 L1002.2,1444.0 L1016.7,1452.7 L1022.5,1470.1 L1010.9,1487.5 L1008.0,1504.9 L997.9,1516.5 L993.5,1525.2 L1016.7,1528.1 L1037.1,1532.5 L1057.4,1532.5 L1074.8,1528.1 L1089.3,1529.6 L1100.9,1522.3 L1112.5,1510.7 L1121.2,1502.0 L1125.6,1487.5 L1127.0,1470.1 M1127.0,1470.1 L1131.4,1449.8 L1135.7,1432.4 L1138.6,1417.9 L1124.1,1410.6 L1112.5,1412.1 L1100.9,1412.1 L1096.5,1397.5 L1093.6,1383.0 L1092.2,1365.6 L1080.6,1356.9 L1066.1,1352.6 L1060.3,1356.9 L1045.8,1354.0 L1028.4,1354.0 L1013.8,1351.1 L1015.3,1336.6 L1016.7,1325.0 M1127.0,1470.1 L1141.5,1467.2 L1151.7,1470.1 L1156.0,1481.7 L1158.9,1491.9 L1157.5,1504.9 L1157.5,1516.5 L1147.3,1522.3 L1124.1,1533.9 L1106.7,1545.5 L1089.3,1560.1 L1077.7,1571.7 L1066.1,1586.2 L1051.6,1600.7 L1037.1,1615.2 L1026.9,1622.4 M1026.9,1622.4 L1016.7,1635.5 L1012.4,1658.7 L1006.6,1679.0 L1008.0,1699.3 L1010.9,1716.8 L1000.8,1722.6 L996.4,1737.1 L999.3,1754.5 M1026.9,1622.4 L1040.0,1621.0 L1051.6,1619.5 L1063.2,1628.3 L1074.8,1638.4 L1082.0,1651.5 L1093.6,1645.7 L1103.8,1655.8 L1115.4,1663.1 L1129.9,1670.3 L1141.5,1681.9 L1153.1,1690.6 L1161.8,1702.2 L1173.4,1705.2 L1182.2,1705.2 M1190.9,1689.2 L1193.8,1699.3 L1188.0,1711.0 L1179.3,1713.9 L1170.5,1722.6 L1164.7,1737.1 L1166.2,1725.5 L1173.4,1713.9 L1182.2,1705.2 L1188.0,1693.5 L1190.9,1689.2 M1138.6,1417.9 L1147.3,1400.4 L1158.9,1383.0 L1170.5,1372.9 L1182.2,1368.5 L1196.7,1368.5 L1211.2,1367.1 L1225.7,1371.4 L1240.2,1374.3 L1254.7,1378.7 L1269.2,1378.7 L1283.7,1380.1 L1293.9,1388.8 L1296.8,1403.4 L1302.6,1417.9 L1306.9,1429.5 L1309.8,1436.7 L1327.2,1441.1 L1338.9,1461.4 M1182.2,1368.5 L1196.7,1354.0 L1208.3,1339.5 L1217.0,1325.0 M1157.5,1490.4 L1176.3,1493.3 L1196.7,1496.2 L1217.0,1499.1 L1237.3,1502.0 L1240.2,1493.3 L1257.6,1486.1 L1275.0,1483.2 L1292.4,1487.5 L1309.8,1483.2 L1327.2,1481.7 M1147.3,1522.3 L1170.5,1519.4 L1190.9,1523.8 L1211.2,1528.1 L1228.6,1536.8 L1243.1,1548.4 L1257.6,1560.1 L1269.2,1564.4 L1289.5,1565.9 L1286.6,1577.5 L1283.7,1587.6 L1277.9,1590.5 L1288.1,1593.4 M1585.5,1323.1 L1571.6,1322.0 L1560.0,1318.5 L1556.5,1310.4 L1557.7,1294.1 L1569.3,1287.1 L1576.3,1273.2 L1583.2,1263.9 L1585.5,1254.6 L1582.1,1250.0 M1556.5,1310.4 L1546.1,1315.0 L1541.4,1326.6 L1540.3,1338.2 L1529.8,1342.9 L1515.9,1347.5 L1499.7,1351.0 L1485.7,1353.3 L1471.8,1356.8 L1460.2,1361.4 L1448.6,1366.1 L1437.0,1368.4 L1425.4,1369.6 L1424.2,1373.0 L1411.4,1376.5 L1403.3,1376.5 M1457.9,1362.6 L1462.5,1368.4 L1474.1,1369.6 L1476.4,1375.4 L1467.2,1380.0 L1460.2,1382.3 L1455.5,1387.0 L1462.5,1395.1 M1403.3,1376.5 L1402.1,1368.4 L1396.3,1359.1 L1391.7,1349.8 L1395.2,1340.5 L1398.7,1331.3 L1390.5,1326.6 L1381.3,1324.3 L1377.8,1315.0 L1374.3,1303.4 L1376.6,1296.4 L1372.0,1287.1 L1367.3,1280.2 L1353.4,1282.5 L1339.5,1284.8 L1325.5,1286.0 L1317.4,1287.1 L1316.3,1294.1 L1309.3,1291.8 L1304.6,1284.8 L1300.0,1282.5 M579.3,1909.6 L566.3,1913.9 L564.5,1927.0 L560.2,1937.7 L555.0,1939.5 L556.7,1952.2 L550.9,1963.8 L550.9,1987.1 L552.4,2004.5 L553.8,2019.0 L543.6,2024.8 L540.7,2039.3 L548.0,2056.7 L550.9,2074.1 L556.7,2085.7 L553.8,2097.3 L574.1,2100.2 L571.2,2108.9 L545.1,2113.3 L550.9,2120.5 L565.4,2129.3 L566.9,2135.1 L553.8,2140.9 L553.8,2155.4 L556.7,2169.9 L550.9,2178.6 L548.0,2193.1 L536.4,2201.8 L529.1,2213.4 L533.5,2227.9 L527.7,2236.6 L524.8,2246.8 L513.2,2252.6 L507.4,2262.7 L495.8,2271.4 L494.3,2286.0 L501.6,2294.7 L507.4,2309.2 L521.9,2306.3 L534.9,2309.2 L536.4,2323.7 L534.9,2338.2 L548.0,2351.2 L629.3,2352.7 L646.7,2360.0 L665.5,2364.3 M658.3,2375.9 L658.3,2445.6 M665.5,2365.8 L646.7,2361.4 L632.2,2358.5 L626.3,2367.2 L614.7,2370.1 L600.2,2375.9 L585.7,2378.8 M646.7,2447.0 L661.2,2447.0 L690.2,2448.5 L719.2,2449.9 L748.2,2452.8 M1349.6,633.5 L1352.8,633.8 L1356.3,632.2 L1357.8,634.8 L1361.3,633.0 L1365.9,633.8 L1368.4,634.0 L1370.9,633.1 L1373.3,636.4 L1375.6,637.0 L1378.4,635.9 L1381.1,638.6 L1382.5,637.9 L1386.3,640.3 L1388.5,642.6 L1390.9,643.8 L1392.7,644.5 L1395.3,645.9 L1398.8,644.3 L1399.5,645.7 L1404.0,647.5 L1405.7,648.1 L1407.9,649.4 L1410.0,651.0 L1413.0,653.1 L1415.7,654.2 L1418.6,655.4 L1420.7,653.8 L1423.6,657.4 L1426.6,657.3 L1429.1,657.3 L1432.3,659.7 L1433.9,659.2 L1438.1,663.3 L1439.2,661.8 L1442.9,658.9 L1445.5,660.0 L1449.8,656.8 L1452.1,655.9 L1454.0,659.0 L1456.1,663.3 L1456.9,665.5 L1458.1,664.8 L1460.5,666.8 M1350.5,634.0 L1353.7,634.4 L1357.2,632.8 L1358.7,635.3 L1362.2,633.5 L1366.8,634.4 L1369.3,634.6 L1371.7,633.6 L1374.2,637.0 L1376.4,637.6 L1379.3,636.5 L1382.0,639.2 L1383.4,638.4 L1387.2,640.9 L1389.3,643.2 L1391.8,644.4 L1393.6,645.1 L1396.2,646.5 L1399.7,644.9 L1400.4,646.3 L1404.8,648.0 L1406.5,648.6 L1408.7,649.9 L1410.9,651.6 L1413.9,653.7 L1416.6,654.8 L1419.5,656.0 L1421.6,654.4 L1424.5,658.0 L1427.5,657.9 L1430.0,657.9 L1433.1,660.2 L1434.8,659.8 L1439.0,663.9 L1440.1,662.4 L1443.8,659.5 L1446.4,660.6 L1450.6,657.4 L1452.9,656.5 L1454.9,659.6 L1456.9,663.9 L1457.8,666.1 L1459.0,665.3 L1461.4,667.4" fill="none" stroke="#000" stroke-width="2.1" stroke-linejoin="round" stroke-linecap="round"/>
<path d="M788.9,2445.6 L803.4,2443.2 L817.9,2444.1 L816.4,2447.9 L803.4,2449.0 L790.3,2449.9Z M800.0,2024.1 L808.7,2022.7 L817.4,2020.6 L824.7,2025.6 L826.1,2035.7 L823.2,2045.9 L814.5,2048.8 L807.3,2045.9 L802.9,2038.6 L800.0,2035.7Z" fill="none" stroke="#000" stroke-width="1.8" stroke-linejoin="round"/>
<path d="M920.9,2349.4 L926.4,2345.7 L932.0,2343.9 L937.6,2342.0 L945.0,2338.3 L950.6,2334.6 L956.1,2333.6 L963.6,2333.6 L969.1,2332.7 L967.3,2336.4 L961.7,2341.1 L956.1,2345.7 L950.6,2350.4 L945.0,2351.3 L939.4,2353.1 L937.6,2356.9 L932.0,2357.8 L928.3,2361.5 L924.6,2360.6 L920.9,2356.9 L917.1,2355.0 L912.5,2354.1 L908.8,2349.4 L911.6,2346.6 L917.1,2347.6Z" fill="#eef3f7" stroke="#000" stroke-width="2.3" stroke-linejoin="round"/>
<path d="M973.8,2335.5 L977.5,2332.7 L982.1,2330.9 L987.7,2330.9 L994.2,2330.9 L999.8,2331.8 L1004.4,2333.6 L1010.0,2332.7 L1015.6,2333.6 L1019.3,2336.4 L1019.3,2342.0 L1016.5,2343.9 L1010.0,2342.9 L1004.4,2345.7 L999.8,2348.5 L993.3,2350.4 L991.4,2354.1 L985.8,2355.0 L980.3,2354.1 L975.6,2355.0 L971.9,2358.7 L976.6,2360.6 L972.9,2363.4 L967.3,2364.3 L963.6,2360.6 L958.0,2358.7 L954.3,2362.4 L956.1,2366.1 L953.4,2366.1 L954.3,2358.7 L957.1,2354.1 L960.8,2350.4 L967.3,2345.7 L972.9,2342.9 L976.6,2342.0 L974.7,2338.3Z" fill="#f8efea" stroke="#000" stroke-width="2.3" stroke-linejoin="round"/>
<path d="M980.3,2333.6 L987.7,2331.8 L994.2,2334.6 L999.8,2340.1 L1003.5,2343.9 L1000.7,2347.6 L993.3,2349.4 L985.8,2348.5 L980.3,2345.7 L977.5,2340.1Z" fill="none" stroke="#000" stroke-width="2.3" stroke-linejoin="round"/>
<path d="M935.7,2329.0 L941.3,2328.1 L948.7,2329.0 L946.9,2331.8 L939.4,2332.7Z M954.3,2328.1 L961.7,2328.1 L966.4,2330.9 L961.7,2332.7 L955.2,2331.8Z M924.6,2342.0 L932.0,2340.1 L939.4,2342.0 L935.7,2345.7 L928.3,2345.7Z M926.4,2331.8 L930.1,2333.6 L932.0,2337.4 L928.3,2336.4Z M910.6,2346.6 L916.2,2345.7 L917.1,2350.4 L912.5,2351.3Z M994.2,2333.6 L999.8,2336.4 L1004.4,2340.1 L1000.7,2341.1 L996.1,2337.4Z M1008.1,2337.4 L1013.7,2336.4 L1017.4,2339.2 L1011.8,2340.1Z M968.2,2354.1 L973.8,2353.1 L976.6,2356.9 L972.9,2358.7 L969.1,2356.9Z" fill="none" stroke="#000" stroke-width="2.6" stroke-linejoin="round"/>
<circle cx="906.9" cy="2321.1" r="1.7" fill="#000"/><circle cx="909.7" cy="2321.8" r="1.7" fill="#000"/><circle cx="917.1" cy="2323.4" r="1.7" fill="#000"/><circle cx="916.2" cy="2325.7" r="1.7" fill="#000"/><circle cx="931.1" cy="2324.4" r="1.7" fill="#000"/><circle cx="938.5" cy="2324.8" r="1.7" fill="#000"/><circle cx="922.7" cy="2329.9" r="1.7" fill="#000"/><circle cx="928.3" cy="2329.0" r="1.7" fill="#000"/><circle cx="919.0" cy="2337.8" r="1.7" fill="#000"/><circle cx="922.7" cy="2340.6" r="1.7" fill="#000"/><circle cx="904.1" cy="2343.4" r="1.7" fill="#000"/><circle cx="904.1" cy="2347.6" r="1.7" fill="#000"/><circle cx="997.9" cy="2354.1" r="1.7" fill="#000"/><circle cx="984.9" cy="2359.2" r="1.7" fill="#000"/><circle cx="975.6" cy="2366.6" r="1.7" fill="#000"/><circle cx="959.9" cy="2345.7" r="1.7" fill="#000"/><circle cx="956.1" cy="2351.3" r="1.7" fill="#000"/>
<path d="M579.6,2384.7 L587.8,2376.5 L593.9,2384.7 L591.8,2401.0 L583.7,2415.3 L577.6,2413.3 L579.6,2396.9Z M542.9,2394.9 L561.2,2384.7 L573.5,2380.6 L571.4,2388.8 L555.1,2396.9 L546.9,2401.0Z M520.4,2374.5 L559.2,2370.4 L561.2,2374.5 L530.6,2380.6Z M628.6,2368.4 L640.8,2374.9 L653.1,2370.8 L655.1,2373.5 L640.8,2377.8 L629.6,2373.5Z" fill="#fff" stroke="#000" stroke-width="1.8" stroke-linejoin="round"/>
<path d="M475.3,2271.5 L477.4,2279.9 L476.2,2289.1 L473.0,2290.4 L470.8,2284.8 L471.4,2275.2Z M476.4,2162.7 L477.7,2161.6 L478.7,2169.0 L478.0,2174.0 L476.5,2171.9 L475.9,2166.1Z M540.5,2421.5 L541.0,2424.3 L536.6,2425.6 L532.0,2422.4 L530.0,2418.8 L534.2,2417.9 L539.3,2417.9Z M428.4,2251.0 L425.2,2245.5 L421.1,2233.8 L421.9,2231.8 L424.4,2235.0 L429.3,2248.0Z M669.1,2470.4 L673.5,2469.8 L675.3,2474.4 L676.8,2477.2 L678.1,2481.1 L673.1,2479.1 L669.3,2477.1 L667.0,2474.1 L665.9,2471.8 L664.5,2468.3Z M488.7,2313.1 L490.3,2312.4 L491.9,2317.1 L492.7,2320.0 L494.5,2324.9 L493.3,2327.0 L491.2,2324.1 L489.8,2321.9 L487.8,2318.8 L487.1,2314.0Z M496.1,2363.6 L492.1,2364.9 L489.0,2365.7 L484.9,2363.1 L484.4,2359.6 L488.3,2359.7 L491.5,2360.5Z M437.6,2238.2 L438.4,2237.7 L439.3,2237.5 L441.7,2239.8 L444.1,2244.3 L443.6,2245.8 L441.9,2245.1 L439.4,2241.8Z M461.0,2082.7 L463.0,2083.5 L463.6,2085.9 L461.1,2087.3 L459.1,2086.4 L458.3,2083.9Z M666.3,2461.8 L667.7,2459.2 L670.8,2458.9 L670.8,2461.4 L670.0,2464.1 L666.4,2465.1Z M537.1,2382.7 L534.5,2380.6 L531.8,2376.6 L528.6,2372.2 L528.3,2368.9 L528.8,2367.0 L531.0,2367.3 L534.1,2373.2 L535.4,2376.5 L537.0,2380.0Z M547.3,2409.3 L540.5,2405.8 L537.4,2403.7 L535.9,2401.5 L538.5,2399.1 L546.9,2402.3 L551.4,2403.9 L560.6,2407.2 L555.7,2409.1Z M453.9,2260.6 L460.1,2268.5 L460.4,2272.3 L460.0,2276.0 L452.6,2269.1 L446.2,2262.9 L443.6,2257.0 L448.5,2258.7Z M521.6,2334.5 L522.8,2330.0 L524.5,2336.1 L525.3,2340.4 L525.0,2343.5 L524.5,2348.3 L522.2,2345.4 L520.2,2340.9 L519.5,2334.9Z M654.8,2465.8 L659.8,2467.3 L660.7,2468.6 L653.9,2469.5 L645.9,2467.7 L643.9,2465.6Z M534.6,2435.9 L540.8,2438.5 L545.2,2441.2 L546.3,2444.2 L540.8,2443.7 L534.1,2440.9 L533.4,2438.0Z M701.5,2477.4 L697.0,2475.6 L700.9,2472.5 L709.8,2471.8 L712.4,2475.0 L706.8,2477.1Z M516.6,2400.3 L515.1,2400.9 L515.1,2399.2 L515.0,2397.3 L516.8,2394.9 L518.5,2393.0 L520.0,2392.5 L519.8,2394.4 L519.5,2396.4 L518.3,2399.1Z M566.7,2449.1 L565.1,2445.1 L566.4,2442.6 L567.7,2441.0 L569.7,2442.7 L571.7,2443.9 L572.6,2447.1 L572.7,2450.2 L570.5,2449.5 L569.0,2452.3Z M436.1,2295.0 L436.0,2291.7 L435.7,2288.4 L438.0,2286.5 L442.2,2289.3 L443.9,2294.2 L443.6,2297.3 L441.7,2298.2 L439.0,2298.8Z M469.9,2157.3 L474.2,2158.7 L481.5,2167.0 L484.1,2172.5 L478.9,2169.9 L471.0,2161.7Z M580.9,2431.1 L583.1,2435.7 L578.4,2432.1 L573.7,2428.3 L569.9,2422.5 L570.8,2420.7 L576.3,2426.0Z M489.0,2373.6 L487.2,2368.6 L488.4,2368.0 L489.4,2367.4 L491.2,2371.6 L492.6,2376.4 L490.9,2375.8Z M477.7,2119.7 L477.1,2120.3 L475.9,2121.2 L473.3,2118.0 L471.4,2115.2 L473.1,2115.1 L474.9,2115.7 L477.4,2118.0Z M550.4,2375.0 L549.3,2368.8 L552.2,2371.7 L555.0,2379.8 L554.7,2385.1 L551.7,2380.9Z M476.5,2319.0 L473.5,2319.5 L471.7,2315.9 L473.2,2310.8 L474.9,2305.6 L478.1,2305.3 L479.5,2309.6 L479.1,2314.9Z M463.9,2262.8 L465.2,2261.4 L467.2,2262.8 L468.7,2265.0 L470.0,2267.9 L469.1,2269.8 L467.2,2269.2 L465.1,2268.5 L464.4,2265.5Z M425.2,2174.5 L424.0,2173.8 L422.8,2172.1 L422.2,2169.8 L423.3,2169.4 L424.3,2168.6 L425.4,2171.0 L426.7,2172.9 L425.9,2174.0Z M461.5,2220.5 L461.0,2218.1 L463.7,2218.6 L465.5,2218.8 L467.0,2220.4 L468.7,2222.3 L468.2,2223.8 L466.1,2223.5 L463.8,2222.6Z M635.6,2448.9 L636.4,2447.7 L638.9,2446.9 L641.4,2447.5 L645.0,2448.2 L643.6,2449.8 L639.9,2450.3 L636.1,2450.4Z M547.7,2376.9 L548.2,2373.1 L549.3,2371.5 L550.1,2375.6 L550.5,2379.1 L550.2,2382.1 L550.2,2387.5 L549.1,2384.5 L548.5,2383.2 L547.6,2381.1Z M505.6,2394.1 L504.8,2392.9 L505.4,2390.4 L506.7,2389.3 L507.6,2389.1 L508.5,2389.2 L509.2,2390.5 L508.3,2392.7 L507.3,2393.7 L506.2,2395.7Z M577.3,2455.2 L571.8,2454.1 L580.5,2448.6 L589.6,2445.8 L592.4,2447.3 L597.9,2448.0 L588.1,2452.2 L580.6,2456.8Z M447.0,2247.4 L449.5,2252.4 L450.5,2263.4 L447.4,2270.1 L444.1,2270.1 L444.2,2259.5 L444.1,2250.7Z M494.4,2164.2 L494.1,2168.0 L493.2,2171.0 L490.2,2167.5 L489.3,2159.8 L487.7,2152.4 L490.4,2155.5 L492.8,2156.2Z M445.5,2260.2 L449.7,2264.8 L451.8,2267.7 L449.7,2266.7 L447.1,2265.5 L441.3,2260.2 L441.0,2258.3 L442.8,2259.0Z M477.1,2244.9 L479.3,2239.2 L483.7,2242.0 L483.6,2249.0 L479.8,2250.0 L476.6,2249.8Z M478.0,2213.6 L479.4,2217.2 L480.2,2221.8 L479.5,2224.8 L478.5,2229.0 L476.5,2223.8 L474.8,2219.1 L474.1,2212.5 L476.0,2211.2Z M533.5,2406.6 L525.2,2402.8 L522.6,2399.0 L518.4,2394.8 L523.5,2395.4 L530.5,2398.6 L533.1,2401.9 L536.8,2405.6Z M472.1,2163.4 L470.5,2157.3 L470.9,2149.6 L471.3,2143.7 L472.8,2148.6 L474.4,2159.3 L473.6,2166.4Z M522.8,2354.9 L524.8,2352.7 L528.1,2352.3 L526.9,2355.2 L524.5,2357.8 L521.7,2357.4Z M495.5,2142.7 L496.3,2149.9 L497.1,2157.9 L495.3,2159.6 L494.2,2159.9 L493.4,2155.9 L492.6,2149.0 L493.7,2142.8Z M472.9,2247.3 L470.3,2246.0 L470.1,2235.8 L470.6,2225.6 L473.6,2223.8 L474.4,2234.6 L474.4,2241.7Z M465.9,2363.2 L463.5,2363.8 L459.9,2360.8 L458.1,2355.3 L458.4,2351.2 L460.2,2349.4 L463.2,2352.9 L465.5,2354.2 L467.0,2357.9 L468.2,2362.4Z M447.9,2226.7 L449.5,2221.6 L451.8,2220.9 L454.4,2223.4 L454.1,2230.4 L452.0,2234.8 L449.6,2231.4Z M700.3,2480.7 L698.1,2483.3 L695.3,2485.1 L691.8,2486.8 L686.0,2488.3 L681.1,2487.5 L682.9,2484.8 L682.6,2481.9 L690.0,2480.9 L695.4,2480.1Z M683.6,2477.0 L689.1,2483.4 L689.8,2488.0 L687.6,2487.9 L684.4,2486.7 L678.6,2479.4 L677.6,2474.4 L679.4,2473.4Z M642.1,2446.8 L647.4,2452.8 L650.9,2458.9 L654.1,2464.2 L651.4,2461.9 L649.7,2461.3 L645.3,2454.9 L641.2,2449.0 L640.8,2446.9Z M456.3,2162.2 L457.6,2163.7 L459.0,2167.5 L461.1,2178.7 L461.0,2186.4 L459.0,2180.7 L457.2,2171.0Z M543.6,2447.8 L552.6,2442.7 L561.3,2441.0 L562.9,2443.9 L557.5,2449.1 L549.2,2449.4Z M568.2,2462.1 L557.8,2455.7 L554.5,2451.8 L562.8,2454.4 L574.9,2459.6 L579.3,2465.0Z M480.9,2329.6 L483.2,2334.0 L480.6,2338.4 L477.1,2335.1 L475.7,2331.2 L477.4,2326.7Z M450.5,2357.4 L449.0,2354.1 L452.4,2353.0 L456.3,2354.5 L459.1,2356.3 L461.9,2359.4 L458.5,2360.6 L454.5,2359.1Z M434.1,2322.9 L432.5,2321.9 L431.9,2318.3 L431.5,2315.8 L431.6,2313.5 L433.1,2315.2 L434.7,2315.5 L436.4,2319.7 L435.2,2321.2 L435.4,2323.9Z M468.7,2300.6 L466.0,2296.4 L463.7,2292.4 L467.1,2293.6 L471.6,2297.0 L475.8,2300.9 L479.6,2305.5 L477.2,2305.2 L476.9,2306.5 L473.6,2304.9Z M502.1,2156.9 L503.9,2158.6 L501.5,2157.9 L498.4,2157.0 L491.5,2153.0 L486.8,2149.6 L487.9,2149.3 L489.3,2148.9 L497.1,2153.8Z M491.3,2131.3 L492.5,2134.0 L493.1,2136.2 L491.7,2135.6 L489.8,2133.4 L488.0,2130.8 L486.3,2128.0 L485.6,2125.8 L486.9,2126.1 L488.9,2128.4Z M454.5,2379.0 L458.3,2374.0 L461.6,2372.6 L462.6,2378.8 L460.7,2385.2 L457.8,2383.6Z M436.4,2241.6 L439.4,2245.8 L436.8,2244.4 L432.0,2238.9 L428.6,2235.4 L428.0,2233.7 L426.3,2231.1 L428.9,2233.0 L431.8,2235.0 L436.3,2240.0Z M481.1,2114.4 L479.9,2111.7 L482.7,2111.0 L485.2,2109.0 L487.1,2111.5 L486.2,2114.4 L484.8,2117.1 L482.3,2116.1Z M471.9,2280.3 L474.3,2281.1 L476.8,2283.1 L477.7,2285.3 L477.2,2287.2 L473.8,2285.2 L471.8,2282.2Z M451.6,2223.7 L450.7,2228.6 L449.4,2232.9 L448.4,2224.1 L449.1,2215.6 L450.6,2218.7Z M634.1,2444.3 L640.4,2445.8 L644.4,2448.5 L641.5,2449.0 L637.9,2449.3 L632.2,2446.8 L626.0,2444.0 L626.6,2442.2Z M584.6,2450.5 L587.3,2456.3 L589.1,2459.9 L591.4,2465.2 L591.3,2469.1 L590.8,2473.6 L587.4,2467.0 L584.3,2462.5 L582.7,2455.7 L584.0,2453.6Z M478.2,2297.5 L478.1,2290.9 L480.9,2282.5 L484.3,2275.3 L486.7,2276.9 L487.6,2279.6 L487.2,2283.7 L487.7,2289.9 L484.1,2293.0 L481.4,2296.4Z M467.7,2150.7 L467.7,2153.1 L466.6,2153.8 L465.0,2153.6 L463.8,2150.7 L463.2,2147.6 L464.3,2146.4 L465.5,2145.5 L467.5,2147.4Z M623.2,2425.4 L630.4,2429.2 L635.2,2430.3 L640.9,2435.8 L644.0,2440.2 L641.3,2440.8 L636.4,2439.1 L629.0,2434.8 L623.7,2428.9Z M488.9,2334.0 L486.8,2329.7 L490.2,2328.2 L495.8,2331.0 L498.7,2334.7 L499.1,2337.9 L494.2,2337.3Z M457.5,2222.3 L459.8,2229.1 L459.3,2232.1 L458.9,2233.9 L457.7,2232.8 L455.9,2230.5 L454.6,2224.8 L453.2,2219.1 L454.7,2220.1 L455.8,2220.9Z M474.2,2216.1 L473.5,2211.0 L475.8,2210.6 L478.1,2213.8 L479.5,2218.4 L480.9,2224.5 L479.1,2227.7 L476.2,2223.6 L474.1,2220.2Z M475.9,2120.3 L477.7,2125.2 L473.7,2120.9 L469.4,2115.2 L466.1,2109.0 L466.8,2108.0 L468.7,2109.1 L473.1,2114.3Z M492.6,2141.8 L494.1,2146.8 L496.2,2149.7 L496.7,2154.0 L495.1,2154.1 L493.5,2153.2 L492.2,2149.3 L492.0,2146.8 L491.4,2143.3Z M443.5,2265.4 L448.4,2270.6 L445.9,2269.9 L442.0,2268.0 L433.7,2261.3 L428.7,2256.0 L428.1,2253.9 L436.7,2260.7Z M527.4,2330.6 L527.6,2333.9 L527.0,2337.5 L525.9,2338.8 L525.0,2338.4 L524.4,2335.6 L525.1,2331.9 L526.3,2329.3Z M463.6,2223.5 L462.7,2219.4 L465.3,2222.7 L467.9,2226.5 L467.3,2228.4 L465.8,2228.1Z M485.2,2247.4 L483.1,2244.1 L481.1,2234.9 L481.0,2229.1 L482.8,2230.8 L484.5,2237.3 L486.8,2243.8 L486.9,2249.2Z M503.9,2088.2 L505.8,2090.2 L506.0,2092.7 L503.5,2092.1 L501.1,2091.5 L500.9,2089.1 L499.5,2086.3 L502.0,2086.8Z M607.8,2461.5 L603.3,2459.6 L601.9,2457.8 L600.1,2455.7 L603.1,2454.7 L609.4,2456.1 L613.9,2458.2 L615.1,2460.0 L617.6,2462.3 L613.8,2463.0Z M454.7,2254.9 L450.7,2265.0 L447.0,2261.9 L449.2,2251.4 L452.0,2244.5 L454.1,2247.7Z M453.3,2139.4 L455.1,2141.5 L457.4,2141.8 L457.9,2146.1 L456.9,2149.3 L456.0,2154.1 L453.1,2153.9 L451.6,2149.3 L449.8,2145.1 L451.9,2141.9Z M663.3,2459.4 L668.7,2463.2 L670.8,2465.5 L671.8,2468.1 L663.5,2463.4 L658.9,2459.5 L659.6,2458.5Z M460.8,2330.3 L462.6,2327.8 L464.3,2327.3 L466.5,2327.6 L466.1,2331.9 L464.4,2336.1 L462.1,2336.6 L460.5,2336.1 L457.9,2334.9Z M500.8,2119.0 L498.4,2122.4 L497.3,2119.4 L497.1,2113.4 L499.9,2105.4 L502.7,2103.3 L506.0,2100.2 L506.5,2107.0 L502.6,2114.7Z M513.2,2356.2 L508.9,2354.6 L507.8,2344.5 L510.5,2338.6 L515.4,2341.4 L514.6,2350.7Z M533.1,2375.1 L536.1,2376.7 L538.9,2378.3 L537.7,2379.4 L535.7,2379.2 L533.5,2378.7 L531.9,2377.3 L530.9,2375.6Z M490.7,2343.7 L495.3,2345.2 L494.3,2346.3 L492.5,2347.0 L487.7,2346.5 L482.7,2344.6 L482.2,2343.0 L484.3,2341.7Z M598.2,2425.4 L604.4,2431.7 L606.5,2435.5 L597.6,2429.9 L591.6,2425.1 L590.6,2422.3Z M494.8,2121.8 L492.7,2112.7 L493.1,2109.7 L492.1,2101.9 L495.3,2107.4 L497.5,2116.7 L500.1,2124.5 L499.0,2125.7 L497.9,2127.0Z M490.3,2116.1 L483.8,2107.4 L478.6,2099.7 L479.1,2096.5 L484.7,2102.6 L488.5,2109.8Z M445.7,2219.7 L448.8,2220.2 L451.9,2224.6 L453.5,2228.6 L450.6,2227.8 L447.4,2226.8 L445.6,2222.6Z M480.7,2388.6 L479.9,2387.5 L480.0,2385.4 L480.6,2382.6 L481.9,2383.4 L483.2,2384.6 L482.6,2387.5 L481.6,2389.0Z M550.2,2383.7 L549.6,2388.9 L547.6,2389.2 L545.8,2387.1 L545.0,2382.0 L546.5,2378.2 L547.6,2373.9 L549.4,2375.2 L550.6,2379.1Z M518.1,2135.9 L519.0,2140.7 L515.8,2135.2 L512.6,2128.1 L509.2,2119.5 L509.6,2117.5 L511.4,2119.2 L514.5,2124.8 L518.4,2133.5Z M551.2,2387.7 L553.3,2386.7 L554.9,2386.4 L557.2,2387.0 L557.6,2390.2 L556.2,2392.3 L554.6,2392.6 L552.3,2394.1 L551.8,2390.7Z M486.2,2378.9 L488.1,2380.6 L489.2,2382.7 L490.8,2385.9 L488.9,2386.4 L486.5,2385.0 L485.8,2382.2 L484.4,2379.3Z M483.4,2156.6 L480.9,2151.1 L479.1,2143.2 L484.1,2148.7 L487.0,2155.1 L486.1,2158.1Z M493.2,2104.1 L492.4,2101.5 L494.0,2099.4 L496.2,2098.6 L498.7,2098.8 L499.7,2100.9 L499.8,2103.2 L498.3,2105.5 L495.5,2105.4Z M494.4,2094.8 L492.0,2088.7 L489.7,2081.9 L490.0,2078.8 L493.9,2085.1 L497.2,2090.8 L499.3,2097.0 L499.9,2100.5 L501.4,2107.1 L497.0,2098.5Z M453.7,2307.1 L449.9,2307.5 L446.8,2306.3 L447.5,2303.1 L450.0,2299.6 L454.5,2302.3Z M454.5,2124.2 L452.9,2129.4 L449.5,2131.2 L447.0,2130.7 L447.4,2127.2 L450.6,2123.6Z M688.9,2463.8 L698.0,2474.4 L699.8,2484.0 L696.3,2486.4 L689.0,2475.0 L687.2,2468.2Z M469.1,2149.6 L467.3,2152.7 L456.8,2149.4 L453.5,2144.0 L460.8,2143.7 L468.1,2146.5Z M516.7,2352.2 L515.2,2347.2 L513.9,2341.4 L517.2,2346.4 L520.0,2350.8 L521.1,2356.1 L519.6,2356.8Z M442.2,2282.9 L443.1,2287.1 L442.5,2289.6 L437.3,2280.5 L435.3,2275.3 L437.1,2275.3Z M457.9,2163.4 L457.5,2151.9 L461.5,2147.7 L463.8,2148.3 L466.3,2153.1 L464.9,2164.8 L460.8,2168.6Z M454.2,2289.2 L451.2,2284.8 L453.2,2284.5 L452.4,2279.6 L455.9,2282.3 L459.4,2287.7 L460.8,2292.7 L459.3,2293.7 L459.7,2298.0 L456.1,2294.0Z M442.4,2269.2 L438.2,2266.0 L445.8,2266.1 L453.3,2269.6 L462.3,2271.7 L460.8,2273.5 L455.5,2273.3 L450.7,2272.9 L445.3,2271.2Z M470.8,2079.3 L467.8,2080.0 L469.7,2078.0 L471.6,2076.0 L475.1,2074.8 L476.9,2074.6 L478.0,2075.0 L474.9,2077.4Z M606.1,2434.9 L608.3,2435.9 L603.2,2440.5 L596.1,2445.1 L593.9,2444.0 L594.4,2441.1 L601.3,2436.1Z M449.1,2375.1 L458.4,2378.7 L465.0,2384.1 L457.2,2383.7 L449.1,2379.4 L444.5,2375.7Z M464.7,2085.5 L464.3,2087.0 L465.1,2091.3 L462.9,2087.2 L461.1,2083.0 L459.4,2078.4 L457.9,2073.0 L459.4,2074.3 L460.8,2076.3 L462.5,2080.5Z M659.4,2475.3 L660.8,2478.9 L664.3,2483.3 L655.7,2479.8 L649.2,2476.2 L640.3,2470.7 L647.4,2471.9 L650.4,2471.2Z M519.5,2404.8 L517.1,2402.6 L517.4,2395.5 L520.3,2390.6 L522.6,2394.3 L523.0,2402.2Z M533.9,2379.7 L535.6,2380.4 L536.8,2381.7 L536.4,2382.7 L536.0,2383.4 L534.7,2384.3 L533.3,2382.7 L531.8,2381.3 L532.0,2379.8Z M470.6,2342.6 L464.9,2337.5 L466.8,2333.4 L478.4,2335.3 L482.6,2339.8 L479.6,2342.2Z M478.7,2306.7 L480.9,2307.7 L481.8,2310.1 L477.6,2315.1 L474.8,2315.1 L475.9,2311.6Z M649.0,2453.3 L651.4,2449.6 L657.9,2451.4 L660.3,2453.7 L657.6,2456.9 L650.8,2456.0Z M521.6,2395.6 L515.7,2394.2 L510.5,2389.3 L507.3,2386.3 L503.2,2381.7 L508.2,2382.6 L513.3,2386.1 L518.2,2388.6 L521.3,2392.4Z M567.1,2400.9 L564.3,2398.3 L562.7,2396.4 L560.9,2393.7 L562.8,2392.8 L564.3,2392.4 L566.6,2392.9 L568.5,2395.8 L567.5,2397.8Z M459.8,2193.6 L460.0,2196.7 L456.8,2198.6 L454.9,2199.2 L453.3,2199.3 L451.9,2198.4 L452.2,2196.3 L452.8,2193.3 L455.4,2193.1 L457.7,2192.5Z M484.5,2070.8 L487.7,2067.9 L487.6,2073.3 L484.6,2081.6 L481.3,2086.7 L478.1,2091.6 L476.1,2091.2 L477.9,2084.4 L478.7,2078.6 L482.1,2070.6Z M486.2,2382.7 L489.6,2385.2 L489.3,2391.8 L488.3,2396.3 L485.7,2394.8 L483.2,2392.8 L481.0,2386.4 L483.7,2383.5Z M436.7,2160.1 L433.8,2164.6 L430.8,2169.0 L431.5,2165.4 L434.1,2159.2 L438.0,2151.5 L438.3,2153.7 L439.9,2153.1Z M506.8,2366.8 L507.1,2365.1 L504.2,2360.5 L509.3,2363.9 L515.4,2369.7 L520.3,2374.8 L525.5,2380.8 L525.1,2382.6 L519.4,2378.4 L513.9,2372.6Z M435.9,2262.6 L435.4,2267.0 L433.9,2271.4 L432.3,2269.8 L431.4,2264.8 L432.7,2259.1 L434.0,2256.1 L435.5,2255.1 L436.7,2257.3Z M468.8,2119.7 L469.1,2116.3 L472.0,2116.8 L475.2,2116.7 L476.0,2120.6 L473.0,2121.8 L470.3,2122.8Z M544.8,2402.2 L550.1,2404.3 L556.4,2410.2 L555.8,2413.5 L550.4,2412.5 L545.3,2406.9 L543.3,2403.6Z M517.7,2388.3 L516.5,2384.6 L520.0,2386.0 L522.7,2385.3 L523.9,2389.0 L527.1,2392.9 L524.7,2394.3 L521.7,2394.2 L519.4,2390.8Z M428.7,2203.5 L432.4,2205.2 L436.0,2216.2 L435.5,2223.4 L433.8,2224.6 L430.2,2217.3Z M483.4,2078.3 L482.2,2075.4 L482.7,2074.6 L484.4,2076.9 L485.7,2079.6 L486.4,2081.9 L485.8,2082.2 L484.6,2081.8Z M471.3,2297.4 L472.0,2291.1 L473.1,2287.8 L474.8,2285.8 L477.2,2288.5 L480.0,2294.9 L480.1,2303.2 L479.0,2309.0 L476.1,2305.3 L474.1,2302.4Z M430.6,2255.3 L434.8,2258.9 L436.9,2262.2 L437.2,2264.1 L436.3,2264.9 L433.1,2264.0 L428.3,2260.0 L424.9,2255.7 L424.4,2253.1 L428.8,2255.8Z M513.3,2434.0 L508.9,2436.3 L505.8,2430.2 L507.7,2422.4 L511.7,2417.2 L515.0,2424.6Z M487.1,2202.1 L487.8,2199.3 L487.7,2196.1 L490.3,2194.4 L492.9,2194.3 L493.0,2197.6 L493.1,2199.3 L493.8,2202.5 L491.1,2202.4 L489.4,2202.5Z M435.1,2270.7 L436.2,2269.7 L437.3,2267.9 L439.5,2269.7 L439.5,2274.5 L440.2,2278.2 L439.2,2280.4 L437.6,2281.4 L435.8,2277.9 L435.3,2274.0Z M474.8,2373.8 L472.8,2371.5 L472.8,2368.4 L475.9,2367.5 L477.8,2369.8 L477.8,2372.7Z M602.7,2442.1 L603.6,2446.3 L599.3,2444.3 L596.8,2442.7 L595.2,2439.9 L596.6,2438.5 L599.3,2439.6Z M479.9,2336.9 L479.2,2338.9 L478.2,2340.9 L477.7,2338.3 L477.5,2336.6 L477.3,2334.6 L477.5,2330.9 L478.7,2332.8 L479.9,2331.2 L480.6,2333.7Z M534.8,2392.3 L535.7,2390.6 L539.5,2391.7 L548.5,2398.9 L548.5,2401.4 L548.1,2402.7 L542.3,2398.8Z M624.6,2452.9 L627.3,2456.5 L625.8,2458.2 L623.3,2457.8 L621.3,2454.2 L619.8,2451.1 L620.0,2448.2 L622.9,2449.1Z M587.9,2442.5 L581.3,2442.4 L573.6,2442.1 L581.7,2437.3 L592.3,2434.8 L599.8,2434.9 L595.1,2438.8Z M490.6,2351.1 L490.1,2350.1 L490.1,2348.8 L499.9,2345.4 L507.8,2342.9 L506.2,2344.5 L499.4,2347.4Z M490.0,2262.9 L492.1,2266.1 L490.8,2274.9 L487.7,2279.2 L484.8,2279.3 L482.9,2274.1 L484.9,2265.3 L487.9,2257.8Z M453.7,2312.3 L456.8,2313.9 L460.4,2321.2 L462.3,2327.2 L458.8,2324.7 L453.9,2319.4 L453.2,2314.2Z M663.8,2462.0 L662.1,2463.1 L661.0,2461.6 L659.2,2460.4 L659.2,2458.3 L661.6,2457.9 L663.3,2458.2 L665.6,2458.1 L666.7,2460.0 L666.6,2462.2Z M459.3,2331.0 L456.1,2325.5 L454.8,2319.3 L453.6,2310.9 L457.7,2312.2 L462.0,2316.8 L463.5,2325.3 L463.1,2332.1Z M438.5,2121.1 L442.6,2116.6 L448.4,2112.5 L450.6,2113.2 L449.8,2115.8 L447.1,2119.3 L441.9,2124.6 L439.2,2124.1 L439.0,2122.6Z M455.1,2119.9 L460.4,2124.3 L463.9,2131.7 L465.4,2139.2 L457.2,2129.1 L454.2,2122.5Z M450.0,2299.7 L450.9,2302.1 L450.4,2303.7 L441.2,2300.9 L433.1,2297.5 L429.1,2294.2 L436.9,2295.0Z M433.2,2242.5 L436.9,2236.1 L440.2,2232.0 L441.7,2234.3 L441.8,2238.4 L441.8,2243.5 L439.2,2251.8 L435.6,2254.5 L434.2,2251.7 L433.8,2248.1Z M619.1,2436.8 L611.7,2428.0 L607.2,2421.3 L610.8,2423.2 L616.6,2428.8 L620.9,2434.7 L625.9,2442.3Z M607.9,2438.8 L603.7,2438.3 L600.4,2437.6 L593.4,2433.9 L587.0,2428.9 L588.6,2428.0 L591.6,2427.8 L599.3,2433.2Z M505.4,2350.7 L506.5,2352.0 L505.0,2353.7 L503.2,2354.6 L500.7,2354.7 L500.3,2352.4 L503.3,2351.3Z M493.2,2380.2 L497.7,2381.8 L500.6,2385.0 L499.1,2388.0 L494.8,2388.0 L491.3,2387.3 L490.4,2384.9 L490.0,2382.2Z M423.5,2241.1 L425.0,2242.4 L426.9,2243.6 L426.6,2245.7 L425.9,2248.5 L423.2,2247.0 L420.4,2246.3 L419.6,2243.3 L421.3,2241.3Z M446.2,2298.8 L447.4,2300.3 L448.2,2302.4 L448.2,2303.8 L447.3,2303.6 L446.2,2303.3 L445.5,2301.2 L445.0,2299.6 L445.2,2298.3Z M452.4,2273.4 L456.1,2278.0 L457.5,2285.6 L458.7,2290.1 L458.0,2292.1 L456.7,2292.9 L453.9,2293.6 L452.0,2285.3 L450.4,2279.5 L450.8,2275.7Z M431.6,2180.9 L433.3,2179.0 L437.9,2178.1 L445.3,2180.1 L451.8,2182.9 L445.2,2183.4 L439.2,2182.9Z M481.7,2287.0 L479.1,2291.3 L475.7,2295.5 L472.5,2298.9 L471.5,2298.6 L474.8,2293.4 L478.1,2288.6 L481.5,2284.6 L482.1,2285.2Z M546.5,2448.0 L547.1,2449.0 L545.5,2449.6 L542.1,2448.3 L541.1,2447.1 L541.2,2445.8 L544.7,2447.2Z M662.8,2474.9 L671.7,2471.8 L679.5,2470.9 L682.2,2471.6 L675.8,2473.7 L669.0,2475.0Z M476.7,2208.9 L476.7,2214.1 L475.9,2216.8 L473.2,2215.9 L469.5,2211.1 L469.4,2205.4 L472.9,2206.4Z M557.9,2403.0 L555.8,2406.2 L555.0,2401.8 L553.1,2399.5 L555.2,2397.1 L556.2,2394.9 L558.1,2394.2 L560.4,2395.0 L560.8,2398.9 L559.2,2401.4Z M434.0,2162.7 L439.0,2167.1 L443.5,2172.5 L446.2,2177.6 L447.1,2182.1 L440.8,2175.2 L436.6,2168.6Z M449.0,2325.3 L449.2,2327.6 L449.2,2328.9 L449.0,2330.8 L447.0,2330.5 L445.1,2330.2 L444.4,2328.5 L444.2,2326.1 L446.6,2325.2Z M450.4,2227.9 L450.6,2232.6 L449.2,2235.9 L447.3,2234.8 L445.9,2230.6 L446.7,2225.2 L448.8,2226.8Z M595.3,2444.7 L597.9,2445.7 L596.4,2448.4 L593.5,2448.5 L590.8,2448.6 L590.2,2446.2 L592.9,2444.6Z M643.9,2461.8 L647.0,2467.8 L648.9,2473.0 L646.6,2473.0 L643.8,2469.0 L641.7,2463.2Z M474.8,2238.8 L471.6,2237.6 L471.1,2229.2 L472.1,2224.0 L474.4,2223.5 L476.0,2230.4Z M482.4,2379.4 L480.4,2373.8 L477.2,2363.5 L478.2,2362.5 L480.7,2368.1 L483.0,2376.3 L485.3,2386.1Z M648.0,2468.1 L646.5,2469.5 L642.3,2470.8 L634.4,2467.3 L630.9,2463.4 L633.9,2461.4 L640.9,2462.2 L648.2,2465.4Z M554.9,2437.6 L565.9,2439.1 L574.7,2441.2 L568.6,2442.3 L562.9,2443.8 L551.3,2441.4 L547.1,2438.7Z M483.4,2247.1 L481.7,2242.6 L481.3,2239.0 L480.3,2233.3 L483.2,2235.1 L486.5,2235.5 L489.4,2242.7 L489.5,2248.1 L487.2,2248.3 L486.1,2250.9Z M560.0,2394.8 L559.5,2397.7 L555.5,2395.4 L549.9,2392.5 L547.3,2386.9 L548.2,2383.6 L555.0,2388.9Z M452.6,2314.5 L456.8,2315.1 L461.6,2318.2 L462.0,2321.4 L459.0,2323.1 L453.7,2319.8 L448.7,2315.7Z M678.4,2471.0 L676.7,2466.3 L676.2,2460.8 L677.1,2457.5 L678.7,2457.8 L680.9,2455.9 L682.5,2463.2 L683.4,2469.8 L683.1,2475.9 L680.2,2471.9Z M542.8,2406.8 L546.9,2408.7 L553.9,2413.1 L558.8,2417.3 L557.8,2417.9 L552.9,2415.8 L546.5,2411.1 L539.8,2406.8 L542.2,2407.2Z M460.9,2376.2 L457.2,2370.6 L454.3,2364.0 L453.7,2360.8 L456.1,2364.2 L459.0,2368.2 L459.5,2371.4Z M571.1,2451.5 L576.7,2453.8 L581.9,2455.5 L582.0,2456.9 L574.7,2456.0 L566.8,2453.8 L565.3,2452.3 L567.8,2452.0Z M564.5,2442.8 L564.2,2444.2 L561.0,2446.1 L556.2,2447.8 L552.8,2448.3 L548.3,2448.9 L550.8,2446.8 L555.9,2444.5 L563.3,2441.4Z M515.9,2420.4 L512.7,2416.7 L510.0,2414.0 L506.8,2409.2 L505.8,2406.2 L508.1,2407.9 L510.0,2409.8 L512.9,2412.0 L516.1,2417.2 L517.5,2420.8Z M544.0,2400.8 L548.8,2402.3 L552.7,2404.4 L552.7,2407.4 L549.7,2408.2 L545.8,2407.3 L544.7,2404.4Z M438.9,2329.5 L437.8,2335.8 L435.6,2336.2 L433.4,2333.2 L433.1,2328.4 L434.7,2323.5Z M452.0,2337.7 L450.1,2335.0 L450.4,2333.7 L451.3,2333.1 L453.0,2334.1 L454.7,2335.8 L456.2,2337.7 L456.8,2339.6 L455.2,2339.0 L454.4,2339.9Z M610.5,2438.6 L607.1,2436.9 L609.2,2435.5 L612.1,2434.3 L615.0,2436.6 L616.8,2438.3 L616.8,2440.6 L612.8,2441.1Z M626.2,2442.4 L631.2,2438.4 L638.9,2434.3 L645.6,2431.0 L649.7,2430.1 L650.0,2431.2 L645.8,2434.4 L640.8,2438.3 L633.4,2441.5 L630.4,2441.7Z M481.9,2100.3 L482.7,2105.3 L482.1,2110.8 L480.0,2109.6 L479.0,2106.1 L479.9,2102.0Z M461.9,2183.2 L465.9,2182.7 L471.9,2183.1 L479.1,2184.6 L480.6,2186.8 L474.3,2187.7 L467.5,2187.2 L463.0,2186.1 L456.3,2185.2 L456.9,2183.5Z M505.8,2389.0 L502.7,2386.8 L498.3,2385.1 L501.4,2383.4 L502.7,2380.7 L507.3,2381.9 L509.5,2385.1 L508.0,2387.2Z M618.0,2437.8 L623.7,2436.7 L619.5,2440.8 L612.1,2445.4 L608.2,2445.4 L610.9,2442.2Z M610.9,2435.0 L605.5,2429.5 L599.6,2424.1 L597.8,2420.4 L602.9,2424.1 L605.4,2425.6 L610.6,2429.6 L613.5,2433.9 L612.1,2434.2Z M427.5,2242.7 L425.6,2238.8 L424.3,2233.1 L423.7,2228.4 L424.5,2226.9 L425.3,2224.5 L427.3,2230.9 L429.7,2236.8 L430.4,2243.4 L429.7,2246.9Z M552.8,2370.0 L550.3,2372.6 L547.1,2375.7 L542.9,2377.9 L539.2,2379.7 L536.8,2379.9 L540.7,2376.0 L546.8,2372.4 L553.0,2368.3Z M523.7,2418.2 L527.5,2416.9 L529.5,2419.3 L529.3,2421.3 L529.6,2423.3 L526.6,2424.2 L523.9,2423.7 L519.5,2423.9 L521.1,2421.3 L520.2,2418.9Z M473.2,2293.9 L472.9,2297.1 L469.7,2288.9 L467.5,2280.3 L466.5,2274.2 L468.2,2276.2 L471.8,2285.6Z M452.9,2288.5 L455.5,2289.7 L456.8,2295.0 L456.4,2297.9 L456.2,2300.9 L454.4,2301.5 L452.5,2295.8 L450.0,2292.4 L450.0,2288.8 L451.3,2288.0Z M465.1,2161.3 L468.6,2164.1 L469.5,2167.8 L471.6,2171.5 L470.7,2173.0 L468.1,2171.8 L465.3,2168.0 L463.0,2164.7 L460.4,2160.1 L463.0,2160.7Z M489.9,2136.2 L487.6,2136.7 L485.9,2132.2 L486.8,2130.8 L488.8,2131.4 L491.2,2134.8Z M464.6,2074.5 L467.8,2073.5 L470.2,2074.4 L471.4,2075.7 L470.2,2077.2 L467.6,2077.1 L464.2,2076.8Z M560.8,2401.8 L564.6,2402.2 L567.6,2405.2 L565.0,2406.3 L561.6,2405.3 L556.2,2402.3Z M432.3,2172.5 L432.3,2174.5 L429.9,2172.4 L425.1,2166.4 L425.0,2162.7 L429.4,2166.9Z M489.7,2365.9 L492.7,2368.1 L490.4,2369.5 L489.0,2370.2 L486.5,2370.5 L484.9,2368.2 L483.2,2365.8 L485.1,2364.7 L487.3,2362.9Z M544.2,2409.9 L536.0,2406.1 L536.5,2404.4 L538.2,2403.6 L544.7,2406.1 L552.7,2408.4 L558.8,2412.5 L554.1,2412.4 L550.8,2412.3Z M586.5,2436.9 L586.6,2435.6 L586.6,2434.2 L588.7,2433.5 L590.2,2434.1 L591.9,2434.2 L591.8,2435.4 L591.3,2436.4 L590.3,2438.0 L588.3,2437.4Z M488.1,2124.0 L485.4,2125.5 L482.1,2125.5 L481.2,2122.4 L483.6,2120.3 L486.2,2121.8Z M561.1,2403.4 L565.3,2404.4 L568.4,2405.3 L571.2,2406.3 L573.8,2407.5 L572.4,2407.9 L568.3,2407.2 L563.7,2406.2 L560.4,2404.7 L558.8,2403.6Z M537.0,2411.3 L539.7,2415.1 L541.9,2417.3 L544.2,2421.8 L542.5,2423.7 L541.7,2426.3 L539.3,2424.6 L535.9,2422.2 L536.3,2417.5 L534.3,2411.4Z M442.8,2312.4 L445.6,2320.0 L444.0,2318.6 L442.4,2316.6 L439.8,2312.0 L437.4,2305.6 L434.3,2297.9 L435.6,2298.6 L436.8,2299.7 L439.6,2305.3Z M685.2,2481.4 L683.4,2482.2 L679.7,2472.3 L678.2,2463.5 L680.4,2462.7 L685.0,2474.8Z M482.4,2197.6 L485.7,2197.1 L488.6,2207.0 L489.4,2215.9 L487.3,2218.7 L484.2,2213.7 L482.6,2205.7Z M440.7,2303.1 L445.0,2310.7 L444.6,2316.3 L442.5,2315.3 L439.7,2313.4 L436.5,2303.6 L434.8,2294.5 L437.5,2295.6Z M495.7,2119.5 L495.8,2121.3 L494.5,2122.1 L492.6,2122.4 L490.5,2120.8 L490.6,2118.2 L491.8,2116.5 L493.8,2117.2 L495.4,2117.7Z M449.9,2192.3 L449.5,2188.3 L452.5,2192.6 L455.3,2197.6 L455.0,2200.5 L453.5,2201.8 L449.9,2195.9Z M690.4,2460.6 L685.4,2459.0 L680.9,2454.9 L678.5,2449.8 L684.9,2452.4 L690.9,2457.1Z M494.7,2293.2 L496.0,2301.1 L491.7,2296.8 L486.6,2284.7 L485.3,2276.5 L489.9,2282.3Z M490.8,2244.0 L490.9,2250.2 L490.7,2255.7 L488.7,2252.9 L487.1,2249.8 L485.5,2244.2 L486.0,2240.0 L486.0,2235.7 L487.2,2235.1 L489.0,2237.8Z M548.9,2419.2 L549.8,2417.4 L554.0,2419.6 L557.4,2422.8 L555.0,2423.5 L552.8,2423.6 L550.0,2421.3Z M500.9,2387.7 L501.9,2386.3 L504.1,2391.1 L506.3,2396.3 L505.9,2399.3 L506.3,2404.3 L503.5,2397.7 L501.2,2395.2 L499.6,2388.9Z M694.7,2475.2 L693.4,2473.9 L693.7,2472.3 L701.1,2470.8 L708.5,2468.6 L713.4,2469.1 L710.2,2471.1 L707.0,2472.4 L702.1,2474.4Z M551.4,2437.3 L548.6,2436.8 L549.9,2434.4 L550.5,2431.6 L553.2,2432.2 L556.0,2432.6 L556.7,2435.4 L555.4,2437.9 L553.0,2438.4Z M472.0,2154.7 L473.3,2162.4 L470.5,2164.5 L468.3,2161.3 L467.4,2153.1 L470.2,2149.7Z M553.5,2380.3 L545.8,2375.2 L551.6,2376.6 L557.5,2379.4 L562.6,2383.4 L559.2,2383.0Z M456.1,2352.3 L459.9,2357.6 L459.2,2359.3 L459.3,2361.2 L457.5,2360.0 L453.7,2355.8 L453.2,2351.8 L452.3,2349.0 L452.3,2346.3Z M589.7,2457.4 L593.2,2456.3 L597.1,2457.1 L595.5,2461.0 L592.3,2464.7 L588.1,2464.4 L586.8,2462.1 L584.9,2459.3Z M622.4,2466.6 L615.7,2458.9 L622.7,2459.4 L633.4,2467.2 L636.8,2474.8 L628.3,2471.1Z M503.0,2411.5 L501.5,2410.5 L503.9,2410.2 L507.3,2410.6 L511.4,2411.4 L511.2,2412.4 L510.0,2413.0 L507.1,2412.6 L504.8,2412.2Z M703.9,2479.1 L703.3,2477.8 L705.1,2475.7 L707.9,2473.8 L709.8,2474.4 L711.1,2475.0 L710.0,2476.6 L709.6,2478.1 L707.4,2479.0 L704.0,2481.2Z M572.5,2422.2 L571.6,2416.3 L573.0,2414.2 L576.1,2420.3 L576.9,2426.1 L575.5,2428.2Z M696.5,2476.8 L699.4,2477.8 L699.7,2480.1 L697.9,2481.5 L696.9,2483.7 L694.1,2483.1 L691.7,2482.1 L691.9,2479.9 L693.7,2478.2Z M470.9,2127.2 L472.5,2129.4 L472.1,2130.9 L471.0,2131.6 L469.1,2131.8 L467.3,2129.8 L467.5,2128.1 L468.3,2126.6Z M485.4,2134.3 L486.3,2140.2 L484.7,2140.7 L482.3,2140.2 L480.1,2131.7 L480.3,2126.8 L480.4,2122.3 L482.7,2126.3 L484.9,2128.6Z M479.6,2306.4 L482.9,2309.1 L485.2,2313.2 L485.2,2319.2 L481.4,2314.8 L478.3,2310.7Z M470.0,2326.4 L469.8,2322.2 L470.6,2320.1 L470.7,2315.6 L473.7,2316.1 L476.5,2320.6 L478.2,2326.1 L476.1,2328.1 L474.8,2329.8 L472.6,2330.1Z M491.6,2104.6 L491.0,2107.3 L488.6,2108.6 L486.8,2106.6 L487.6,2103.2 L490.4,2102.4Z M554.7,2449.4 L556.7,2451.6 L554.7,2451.5 L551.8,2450.9 L546.7,2447.9 L548.8,2447.4 L550.2,2446.9Z M456.5,2231.1 L455.8,2232.4 L454.7,2229.3 L453.9,2224.5 L453.2,2218.3 L454.2,2218.3 L455.0,2219.5 L455.9,2221.9 L456.3,2226.5Z M459.0,2359.3 L451.7,2357.0 L443.8,2354.8 L437.7,2352.2 L443.9,2353.1 L445.4,2352.4 L453.9,2355.0 L463.0,2357.6 L467.6,2360.0 L467.1,2361.0Z M423.3,2219.2 L426.6,2219.3 L430.9,2221.9 L435.8,2225.5 L439.0,2230.7 L435.5,2230.7 L436.5,2235.2 L431.4,2230.5 L427.4,2227.6 L424.1,2223.1Z M503.7,2115.5 L501.2,2114.3 L499.4,2111.5 L497.7,2108.0 L500.9,2110.1 L503.1,2111.6 L503.8,2113.8Z M597.8,2435.5 L597.1,2437.8 L594.0,2438.6 L592.9,2435.7 L592.0,2434.1 L591.7,2432.1 L593.2,2430.0 L596.3,2430.5 L598.8,2431.6 L598.1,2434.0Z M478.4,2322.2 L477.4,2323.1 L477.3,2316.7 L477.3,2312.6 L477.3,2304.7 L478.5,2302.6 L479.7,2302.0 L479.6,2310.3 L479.4,2317.5Z M478.5,2388.9 L476.5,2390.6 L473.0,2383.3 L469.6,2375.0 L472.1,2373.9 L475.8,2375.1 L479.0,2384.4Z M454.9,2323.7 L456.9,2324.3 L456.8,2327.6 L456.7,2330.7 L454.9,2331.6 L453.4,2330.4 L451.5,2329.3 L452.9,2326.7 L453.6,2325.3Z M486.6,2158.4 L487.7,2165.0 L486.1,2168.2 L484.3,2168.6 L482.3,2164.8 L481.7,2158.5 L481.3,2151.1 L483.7,2152.6 L485.5,2152.9Z M498.0,2156.6 L495.3,2151.4 L494.4,2143.5 L493.8,2132.9 L497.0,2138.8 L498.6,2143.9 L500.8,2154.4Z M476.4,2207.8 L475.4,2210.4 L472.3,2207.8 L468.9,2202.3 L472.0,2201.9 L475.1,2203.2Z M701.9,2470.2 L698.0,2465.3 L698.0,2463.3 L701.4,2466.3 L703.9,2468.8 L706.5,2472.1 L711.1,2478.2 L709.0,2477.9 L705.9,2476.2Z M548.1,2401.1 L548.9,2404.7 L545.2,2405.7 L542.2,2404.5 L539.5,2402.1 L541.5,2399.4 L543.5,2396.9 L546.5,2398.7Z M578.9,2403.5 L573.2,2405.0 L570.1,2401.8 L568.1,2398.5 L572.2,2395.9 L577.2,2396.7 L579.0,2399.6Z M516.4,2413.8 L512.6,2413.9 L507.1,2407.7 L506.1,2403.3 L509.6,2403.1 L515.6,2409.3Z M453.6,2254.2 L452.2,2250.5 L451.6,2246.7 L452.9,2244.0 L456.0,2244.7 L459.0,2249.6 L460.2,2254.8 L459.4,2258.8 L456.2,2258.0Z M442.5,2288.9 L444.8,2289.1 L448.0,2290.9 L447.7,2296.6 L444.8,2298.8 L441.7,2296.9 L440.7,2292.0Z M486.2,2400.3 L480.6,2397.1 L483.5,2395.9 L488.9,2398.3 L493.6,2401.4 L491.0,2402.5Z M483.6,2132.7 L487.5,2130.9 L490.9,2137.0 L490.1,2143.7 L487.1,2147.3 L483.4,2141.1Z M517.7,2416.3 L523.1,2425.1 L526.6,2430.3 L525.9,2432.7 L523.5,2433.4 L517.1,2429.0 L514.3,2421.6 L512.8,2415.4Z M474.1,2207.7 L474.6,2216.1 L475.2,2222.6 L474.7,2231.2 L472.9,2225.0 L471.9,2218.8 L470.8,2209.1 L472.5,2206.3Z M483.8,2358.8 L485.6,2357.1 L487.0,2355.4 L487.6,2356.1 L488.8,2355.7 L487.7,2357.6 L486.9,2358.9 L485.8,2360.0 L484.5,2360.8 L483.8,2360.3Z M483.4,2100.0 L485.8,2100.4 L488.0,2103.4 L485.5,2105.9 L482.5,2105.8 L479.4,2103.7 L480.5,2100.1Z M433.6,2162.4 L436.8,2168.2 L437.0,2173.1 L432.6,2168.1 L429.5,2168.3 L427.4,2161.7 L425.0,2155.2 L429.0,2158.0 L430.9,2158.0Z M606.3,2443.6 L608.5,2444.9 L609.9,2446.8 L611.7,2448.8 L611.3,2450.2 L610.2,2451.2 L607.7,2449.7 L605.9,2447.1 L606.7,2445.8Z M705.9,2463.9 L700.3,2460.5 L695.7,2455.6 L698.2,2455.9 L699.7,2454.9 L706.0,2460.8 L712.6,2466.4 L713.2,2469.1Z M460.7,2356.2 L459.7,2362.7 L455.9,2365.0 L453.0,2369.1 L451.0,2367.0 L450.4,2362.3 L454.0,2358.1 L456.1,2354.6 L459.2,2352.6Z M443.1,2240.5 L439.8,2240.0 L433.8,2237.3 L433.9,2233.3 L434.5,2231.6 L437.0,2230.8 L442.0,2234.5 L447.3,2240.2Z M437.5,2260.2 L437.6,2257.0 L440.8,2261.0 L442.3,2264.6 L444.2,2267.8 L444.4,2270.3 L442.3,2268.8 L440.8,2268.2 L437.8,2265.9 L436.7,2261.8Z M535.7,2380.2 L533.6,2384.6 L530.6,2381.5 L528.9,2373.7 L531.4,2367.2 L534.3,2371.3 L537.0,2374.2Z M492.2,2141.7 L489.3,2141.6 L485.9,2140.1 L481.9,2137.6 L483.6,2136.2 L486.6,2136.5 L489.3,2137.3 L493.1,2138.7 L493.8,2140.8Z M643.5,2472.8 L636.8,2472.2 L633.7,2470.2 L628.8,2467.7 L634.8,2466.9 L641.6,2466.3 L645.2,2469.2 L650.4,2470.8 L648.1,2472.2Z M587.5,2456.3 L592.1,2456.8 L595.3,2459.4 L597.7,2461.1 L598.9,2462.9 L594.0,2461.7 L591.3,2462.1 L587.8,2460.1 L583.1,2457.8 L584.6,2456.6Z M445.7,2296.1 L446.2,2288.8 L448.6,2283.7 L449.9,2284.7 L451.4,2285.3 L449.9,2292.2 L448.3,2298.2 L445.9,2302.3Z M502.9,2107.8 L502.5,2100.9 L504.0,2096.6 L505.1,2092.6 L506.2,2094.3 L506.4,2099.6 L506.2,2105.0 L505.7,2110.8 L504.6,2110.4 L503.9,2109.5Z M478.0,2214.9 L477.6,2207.2 L479.5,2206.8 L481.4,2206.1 L482.4,2213.3 L481.4,2219.0 L480.7,2223.6 L479.3,2223.8 L477.1,2222.9Z M453.7,2111.0 L455.9,2106.8 L458.0,2107.4 L461.1,2107.4 L459.6,2114.6 L458.5,2120.5 L455.8,2123.8 L454.3,2119.7 L452.8,2116.7Z M459.1,2303.1 L456.7,2302.0 L455.6,2295.3 L456.2,2289.9 L457.5,2286.4 L459.8,2286.4 L462.5,2290.6 L461.6,2297.5 L460.5,2300.5Z M470.1,2131.0 L468.5,2134.4 L464.2,2128.1 L460.2,2123.1 L461.1,2119.1 L460.9,2114.4 L464.2,2117.9 L467.6,2123.3Z M550.0,2389.8 L549.1,2390.5 L547.4,2390.2 L543.2,2384.2 L542.0,2379.7 L542.2,2377.6 L544.6,2378.7 L549.3,2385.5Z M437.8,2230.3 L437.1,2233.1 L436.3,2234.5 L435.9,2228.6 L435.8,2220.6 L436.7,2216.0 L437.5,2208.3 L438.3,2212.3 L438.8,2218.1 L438.6,2226.2Z M488.5,2315.2 L484.6,2309.9 L480.9,2304.9 L478.7,2299.7 L474.3,2291.2 L479.0,2298.0 L482.7,2302.6 L488.0,2312.3Z M485.0,2179.1 L485.1,2186.1 L485.1,2193.8 L483.6,2199.0 L482.3,2197.8 L481.7,2193.1 L481.8,2187.6 L482.0,2179.0 L483.7,2177.8Z M444.2,2288.0 L444.8,2291.3 L443.8,2293.7 L440.1,2290.7 L438.1,2285.8 L436.5,2281.8 L438.8,2282.1 L440.1,2280.3 L443.6,2284.0Z M509.0,2422.7 L511.8,2430.3 L508.6,2430.2 L506.9,2429.7 L503.4,2427.5 L502.4,2419.7 L504.4,2417.7 L506.6,2416.3Z M602.6,2421.6 L606.2,2419.1 L609.2,2418.7 L612.7,2417.5 L613.4,2419.3 L612.7,2421.8 L609.0,2423.9 L605.2,2425.1 L604.0,2423.4Z M700.6,2466.9 L696.4,2468.2 L692.3,2470.4 L687.0,2469.0 L687.2,2467.0 L685.8,2465.2 L690.6,2464.7 L696.1,2462.7 L701.5,2464.4Z M492.4,2369.3 L493.6,2372.4 L493.0,2375.2 L491.8,2376.6 L489.5,2376.4 L489.5,2372.2 L490.5,2369.6Z M474.9,2126.3 L471.5,2125.6 L467.9,2120.3 L464.1,2115.6 L464.0,2111.7 L466.0,2111.1 L469.3,2115.1 L471.5,2119.3Z M513.8,2343.8 L512.1,2346.6 L506.9,2345.8 L501.1,2339.2 L505.4,2338.3 L509.4,2338.1Z M530.7,2377.5 L529.2,2383.3 L529.3,2389.9 L526.8,2388.5 L524.6,2387.5 L523.6,2382.2 L523.0,2377.1 L523.0,2370.1 L525.9,2372.9 L527.9,2373.8Z M523.3,2366.1 L525.0,2371.6 L526.6,2377.0 L524.0,2374.4 L523.2,2376.3 L520.1,2371.8 L518.7,2366.2 L516.9,2360.7 L518.0,2359.3 L520.5,2362.2Z M457.2,2296.3 L454.6,2289.4 L452.3,2283.0 L450.9,2276.4 L452.5,2277.3 L454.7,2281.1 L457.3,2287.7 L459.1,2294.6 L459.5,2299.2Z M644.9,2474.9 L642.2,2475.8 L642.9,2472.9 L642.2,2470.8 L644.1,2469.4 L646.6,2467.9 L648.1,2470.2 L647.5,2472.6 L646.3,2474.0Z M439.0,2228.6 L437.2,2223.2 L436.4,2215.4 L436.2,2206.6 L438.6,2209.2 L439.6,2219.6 L441.0,2229.7Z M504.4,2099.3 L501.6,2099.2 L499.4,2099.2 L497.3,2097.5 L495.8,2095.1 L495.0,2091.8 L498.1,2091.0 L501.3,2092.5 L505.1,2093.7 L504.1,2096.8Z M471.7,2329.2 L478.8,2331.8 L484.4,2334.0 L486.8,2336.6 L484.3,2338.3 L477.7,2338.0 L472.3,2335.5 L466.2,2333.9 L465.9,2331.9 L465.4,2329.5Z M532.2,2431.5 L534.5,2437.1 L525.4,2435.4 L517.9,2427.9 L515.0,2423.6 L521.7,2425.4Z M465.5,2099.0 L465.6,2095.6 L467.7,2087.8 L469.2,2085.0 L471.6,2077.1 L470.4,2083.9 L470.7,2085.6 L468.9,2091.6 L467.4,2096.7 L466.3,2098.5Z M443.8,2123.0 L444.7,2120.8 L446.4,2118.7 L447.4,2120.6 L447.2,2124.2 L445.7,2128.0 L443.6,2128.9 L443.1,2125.9Z M644.7,2436.7 L642.0,2436.7 L639.4,2434.5 L637.4,2431.2 L638.7,2429.2 L639.8,2428.2 L641.8,2427.0 L643.5,2430.3 L643.3,2432.6Z M498.1,2402.1 L494.5,2399.3 L491.1,2395.8 L494.9,2395.5 L500.1,2397.2 L505.0,2401.4 L502.1,2402.8Z M647.7,2456.1 L647.4,2454.6 L649.5,2453.4 L652.3,2451.8 L653.6,2453.5 L654.1,2454.9 L652.9,2456.4 L650.7,2458.7 L647.4,2458.3Z M462.4,2326.1 L465.0,2326.0 L467.3,2329.0 L466.7,2332.8 L464.7,2336.9 L463.1,2330.6Z M495.9,2355.3 L496.2,2358.8 L492.7,2353.2 L490.1,2346.4 L489.9,2342.7 L493.7,2349.7Z M563.4,2391.7 L561.8,2386.3 L560.6,2379.3 L561.7,2375.4 L563.9,2376.4 L566.1,2381.3 L566.7,2387.4 L566.7,2392.2 L564.9,2390.6Z M563.4,2446.7 L566.9,2453.3 L567.8,2458.2 L564.6,2457.9 L559.1,2448.9 L557.6,2440.8Z M498.7,2144.0 L496.6,2140.5 L495.2,2135.2 L496.5,2135.1 L498.3,2136.2 L500.5,2142.2 L501.6,2148.1Z M445.3,2290.8 L444.3,2289.1 L444.5,2284.4 L446.7,2283.2 L449.1,2282.4 L447.6,2289.0Z M496.1,2094.6 L493.6,2093.7 L490.3,2091.1 L492.7,2090.2 L494.6,2089.9 L497.5,2091.8 L497.1,2093.6Z M505.5,2131.3 L508.0,2133.1 L510.0,2134.8 L510.3,2139.4 L508.6,2141.8 L506.9,2141.4 L504.4,2140.7 L505.0,2136.1Z M459.0,2370.1 L458.1,2370.2 L456.8,2370.0 L455.1,2368.1 L455.8,2366.7 L456.8,2366.6 L457.9,2367.3 L458.9,2368.1 L459.7,2369.6Z M515.0,2396.2 L514.2,2398.8 L509.9,2399.5 L508.5,2396.8 L506.3,2394.9 L507.7,2392.5 L511.3,2391.1 L513.9,2393.2 L515.5,2394.5Z M526.8,2359.7 L527.6,2361.8 L527.1,2364.1 L524.5,2363.6 L522.1,2361.8 L521.5,2359.5 L519.7,2356.7 L521.9,2356.1 L524.0,2356.7 L526.2,2357.5Z M637.6,2443.8 L635.9,2445.7 L631.6,2444.3 L629.3,2439.2 L632.4,2438.6 L636.2,2439.6Z M480.8,2146.5 L484.2,2150.6 L486.4,2160.1 L484.7,2163.2 L483.9,2166.2 L481.9,2163.8 L478.9,2161.9 L476.3,2152.8 L476.3,2145.9 L478.2,2144.3Z M463.9,2118.1 L464.6,2121.7 L463.7,2124.4 L461.4,2123.1 L458.8,2119.9 L457.9,2114.9 L458.4,2110.9 L461.1,2113.4 L463.0,2114.5Z M460.5,2096.1 L458.6,2098.0 L456.3,2098.7 L454.9,2096.5 L455.0,2093.3 L457.8,2092.4 L460.3,2093.1Z M458.8,2094.8 L460.9,2096.1 L462.3,2100.0 L462.9,2103.0 L460.7,2100.7 L458.4,2096.9Z M581.5,2450.0 L575.6,2450.2 L568.4,2451.8 L562.6,2449.9 L559.6,2447.3 L567.8,2446.0 L571.4,2443.5 L579.4,2444.1 L584.1,2446.0 L584.7,2448.2Z M537.0,2440.1 L539.6,2440.1 L544.1,2440.4 L552.0,2445.3 L554.5,2448.4 L554.5,2450.7 L545.6,2446.4 L537.2,2442.3Z M491.5,2202.8 L490.7,2204.6 L489.0,2207.9 L488.6,2202.4 L488.6,2197.4 L490.1,2193.7 L491.4,2196.5 L491.7,2199.9Z M664.3,2455.3 L669.6,2454.3 L674.1,2454.9 L680.0,2457.5 L673.5,2458.3 L668.1,2458.2Z M461.6,2260.1 L460.9,2260.8 L459.6,2261.6 L455.4,2258.5 L453.6,2254.7 L452.2,2252.2 L452.4,2250.8 L455.4,2253.0 L457.8,2255.0 L461.3,2258.1Z M633.2,2447.1 L641.9,2456.9 L642.6,2459.6 L636.9,2454.5 L630.2,2447.8 L628.5,2444.3Z M575.3,2420.6 L571.6,2420.3 L572.9,2418.4 L575.3,2416.7 L579.6,2415.6 L584.5,2415.4 L581.1,2417.8 L580.5,2419.9Z M577.9,2446.9 L580.5,2446.1 L584.5,2449.7 L586.5,2453.7 L583.2,2454.0 L579.4,2450.2Z M444.2,2275.3 L436.6,2281.0 L434.9,2279.5 L437.8,2274.6 L444.6,2269.1 L451.1,2263.1 L457.4,2259.8 L456.3,2263.7 L448.8,2270.3Z M618.3,2439.3 L622.7,2443.9 L621.2,2445.7 L614.5,2440.8 L610.1,2439.5 L607.8,2435.9 L605.7,2432.8 L606.8,2431.4 L610.6,2432.1 L616.4,2435.6Z M463.9,2236.8 L464.7,2241.2 L455.6,2233.1 L450.6,2227.5 L452.7,2226.7 L459.5,2230.9Z M526.7,2373.4 L523.0,2372.0 L520.7,2368.8 L522.7,2365.7 L526.6,2364.6 L528.0,2369.3Z M468.9,2205.0 L467.2,2203.8 L466.9,2201.4 L465.8,2198.3 L468.8,2197.8 L470.4,2197.2 L473.0,2196.3 L471.9,2199.8 L472.0,2201.8 L471.0,2204.3Z M486.8,2230.6 L486.1,2227.4 L489.2,2227.8 L491.8,2228.6 L492.2,2232.3 L488.7,2232.2Z M482.8,2358.1 L482.2,2356.2 L481.4,2353.0 L483.3,2353.8 L484.7,2353.7 L485.8,2356.3 L485.6,2359.0 L484.2,2359.8Z M496.2,2367.1 L498.9,2369.0 L503.0,2378.6 L502.3,2380.2 L501.7,2382.5 L496.8,2373.2 L492.4,2362.9Z M681.1,2456.2 L674.1,2459.4 L673.4,2457.6 L671.6,2456.8 L675.4,2454.3 L681.1,2453.1 L688.5,2450.6 L691.1,2451.5 L689.2,2454.1Z M501.2,2342.6 L502.1,2346.9 L501.6,2349.4 L499.9,2347.3 L498.7,2348.3 L497.0,2344.2 L497.4,2341.0 L497.3,2338.2 L497.8,2335.2 L499.9,2337.8Z M440.1,2136.0 L437.6,2132.2 L439.6,2132.1 L446.4,2138.4 L451.0,2142.1 L454.3,2146.0 L453.2,2146.4 L450.2,2144.5 L445.5,2141.9Z M578.9,2458.1 L577.6,2452.2 L582.5,2455.0 L589.3,2463.5 L593.4,2473.4 L590.0,2474.7 L584.3,2468.4 L577.9,2462.5Z M484.3,2372.8 L483.4,2374.0 L483.3,2374.7 L481.6,2375.7 L478.0,2375.9 L474.6,2375.7 L477.1,2374.5 L477.1,2373.4 L480.5,2373.3Z M560.0,2387.4 L568.7,2383.7 L575.6,2382.9 L572.1,2387.9 L563.2,2393.6 L552.5,2398.5 L553.8,2394.3 L555.7,2391.6Z M476.8,2123.9 L471.0,2114.7 L470.8,2106.1 L476.8,2113.0 L481.7,2120.6 L483.0,2128.7 L480.9,2130.7Z M684.9,2475.3 L683.8,2472.0 L684.7,2469.3 L687.8,2468.4 L690.3,2471.3 L687.8,2473.7Z M578.5,2424.3 L578.9,2421.7 L578.5,2420.2 L579.7,2418.7 L583.1,2418.8 L586.7,2420.6 L588.3,2423.3 L586.4,2425.3 L582.4,2424.2Z M505.9,2366.6 L505.1,2368.8 L501.1,2369.4 L495.6,2368.9 L497.5,2366.7 L500.7,2365.1Z M493.5,2156.1 L491.7,2154.4 L489.2,2151.8 L487.9,2144.4 L487.0,2137.3 L489.8,2140.8 L491.9,2146.4 L494.2,2152.8Z M484.4,2099.7 L487.0,2103.6 L488.8,2107.6 L488.2,2109.0 L484.4,2104.4 L481.9,2099.4 L481.4,2096.5Z M535.4,2437.4 L536.0,2436.3 L537.8,2436.1 L538.8,2436.6 L540.4,2436.7 L541.0,2437.9 L538.7,2438.8 L536.7,2439.7 L535.0,2439.4 L535.4,2438.2Z M485.4,2255.2 L483.1,2258.4 L479.4,2256.3 L477.4,2252.3 L479.8,2249.3 L482.9,2251.9Z M459.8,2268.4 L454.6,2263.8 L452.2,2258.3 L456.3,2258.9 L457.7,2257.2 L461.8,2261.3 L465.1,2265.0 L466.3,2268.5 L468.8,2274.2 L463.6,2270.7Z M493.6,2090.4 L492.2,2094.1 L488.7,2091.6 L485.6,2090.1 L483.6,2085.2 L486.1,2083.1 L488.6,2082.5 L492.7,2084.7Z M449.3,2131.1 L450.9,2130.1 L452.0,2128.4 L454.8,2131.0 L456.1,2134.8 L457.3,2138.7 L456.0,2140.4 L453.3,2136.4 L451.1,2135.1Z M443.5,2335.4 L444.9,2332.4 L447.2,2331.9 L448.8,2333.7 L448.2,2336.3 L446.8,2338.8 L445.0,2337.4Z M457.2,2072.5 L457.4,2071.0 L457.4,2069.6 L458.3,2069.6 L460.5,2072.5 L461.7,2075.8 L463.9,2080.0 L462.0,2078.4 L461.0,2077.9 L459.4,2076.1Z M555.5,2395.4 L551.7,2394.3 L551.7,2392.5 L553.9,2391.0 L559.3,2391.0 L560.0,2393.4 L560.6,2395.7Z M581.8,2419.7 L586.0,2422.1 L587.1,2424.1 L582.4,2422.5 L581.0,2423.5 L577.1,2421.1 L574.9,2419.1 L575.1,2418.0 L576.1,2417.6 L578.9,2418.7Z M463.7,2345.3 L465.2,2347.5 L463.9,2348.6 L458.5,2345.6 L455.5,2342.3 L450.3,2338.0 L454.2,2338.8 L457.4,2339.3 L462.3,2343.1Z M607.2,2468.8 L605.9,2468.3 L605.2,2467.1 L606.0,2465.7 L606.9,2464.2 L608.5,2464.4 L610.6,2463.9 L611.4,2465.6 L610.4,2467.4 L609.2,2469.3Z M634.4,2453.5 L639.3,2453.1 L643.0,2453.1 L639.9,2455.0 L636.8,2457.9 L630.2,2458.4 L624.8,2458.6 L629.9,2455.8Z M495.1,2128.8 L494.3,2123.8 L498.5,2124.1 L503.1,2128.4 L504.2,2132.2 L505.1,2136.9 L499.6,2134.2Z M464.0,2385.1 L464.1,2386.1 L462.8,2385.8 L461.0,2385.5 L459.1,2383.4 L458.9,2381.9 L459.9,2381.5 L461.4,2382.3 L462.7,2382.9 L464.7,2384.3Z M480.5,2130.3 L478.8,2121.8 L480.6,2117.7 L482.7,2117.9 L484.9,2121.2 L486.3,2128.4 L484.9,2132.2 L483.2,2140.3Z M690.5,2463.3 L693.3,2465.2 L691.6,2467.5 L688.8,2469.7 L684.9,2469.0 L681.0,2468.4 L683.4,2466.2 L685.1,2463.5Z M474.7,2169.8 L476.2,2174.3 L477.4,2180.9 L477.9,2188.1 L476.3,2186.7 L475.3,2186.3 L474.2,2182.2 L472.8,2176.9 L473.1,2172.8 L472.8,2164.8Z M482.5,2253.1 L481.1,2260.9 L479.8,2264.1 L478.0,2258.3 L478.8,2249.2 L480.3,2248.6Z M465.7,2203.4 L466.1,2201.5 L467.9,2203.7 L470.0,2207.4 L470.9,2211.8 L469.9,2213.2 L467.5,2207.7Z M534.6,2381.7 L530.7,2380.4 L522.5,2371.4 L520.0,2366.1 L520.7,2365.2 L523.6,2366.5 L528.5,2373.1Z M467.3,2099.6 L466.9,2102.6 L465.8,2105.2 L463.0,2105.6 L460.3,2105.7 L459.2,2103.3 L460.1,2101.2 L459.4,2098.3 L462.3,2099.2 L464.0,2099.3Z M461.0,2189.4 L463.7,2191.1 L466.2,2198.3 L467.6,2207.4 L465.7,2210.2 L464.6,2214.6 L461.8,2210.7 L459.8,2201.8 L460.9,2196.5Z M468.6,2085.1 L468.0,2093.7 L464.7,2091.2 L460.8,2089.5 L459.2,2077.5 L462.2,2073.7 L465.5,2077.2Z M515.6,2357.9 L511.6,2354.8 L510.7,2352.5 L510.0,2349.9 L514.6,2351.2 L519.5,2354.4 L523.4,2357.4 L526.6,2360.9 L523.1,2360.7 L520.5,2360.9Z M459.0,2267.1 L455.4,2267.3 L452.4,2267.2 L453.3,2262.9 L456.5,2260.3 L459.7,2261.9Z M671.4,2458.5 L674.4,2461.3 L673.2,2463.4 L670.6,2465.8 L663.2,2463.6 L656.1,2461.1 L659.6,2458.9 L658.1,2455.5 L665.3,2456.1Z M486.2,2345.6 L488.3,2348.9 L489.2,2356.0 L489.0,2361.4 L488.8,2368.1 L486.9,2370.2 L484.2,2366.3 L482.5,2357.1 L483.0,2349.5 L484.8,2347.9Z M443.2,2348.8 L439.4,2345.8 L438.7,2343.8 L439.5,2343.2 L442.6,2345.0 L447.5,2348.9 L448.5,2351.5 L446.7,2351.4Z M660.6,2452.3 L666.2,2456.9 L673.8,2462.9 L670.1,2461.7 L661.9,2456.0 L655.0,2451.2 L654.1,2449.5 L655.6,2449.7Z M601.4,2447.0 L598.9,2449.0 L596.9,2447.8 L596.4,2446.2 L598.8,2445.3 L601.5,2444.8Z M493.7,2373.6 L496.6,2370.5 L502.3,2375.9 L504.7,2382.9 L499.9,2383.3 L493.7,2379.4Z M458.8,2365.4 L456.3,2364.1 L454.8,2361.6 L453.9,2358.8 L455.2,2356.5 L458.2,2356.6 L460.7,2358.4 L463.2,2360.6 L462.4,2363.2 L461.0,2364.8Z M480.7,2201.1 L483.0,2206.8 L481.9,2208.7 L479.5,2207.2 L478.0,2201.7 L477.7,2197.0Z M458.9,2273.3 L461.5,2271.3 L463.9,2273.0 L464.5,2277.9 L462.0,2281.9 L460.1,2277.4Z M547.9,2370.1 L550.8,2377.0 L544.0,2372.1 L537.9,2365.2 L534.6,2358.7 L536.7,2356.9 L543.6,2363.1Z M428.7,2289.6 L424.4,2282.2 L424.6,2272.0 L427.7,2272.0 L430.5,2279.8 L431.3,2288.2Z M601.6,2462.3 L606.6,2461.3 L603.2,2464.2 L597.8,2467.1 L593.2,2467.1 L595.7,2463.8Z M478.6,2224.7 L480.1,2227.3 L477.7,2228.2 L474.8,2229.0 L472.4,2226.7 L470.9,2224.3 L471.4,2221.9 L474.1,2221.5 L476.4,2221.6 L479.0,2222.5Z M432.9,2228.2 L432.2,2230.6 L430.3,2231.7 L427.5,2230.6 L427.5,2226.8 L429.9,2225.9 L431.7,2226.2Z M498.6,2423.7 L498.5,2421.2 L500.7,2420.2 L502.7,2419.8 L504.6,2420.9 L506.3,2422.8 L506.1,2425.4 L503.9,2426.6 L501.8,2426.4 L500.7,2424.8Z M490.5,2160.1 L488.6,2154.1 L485.6,2146.4 L487.6,2145.2 L488.8,2142.2 L491.6,2148.5 L493.0,2154.6 L494.5,2161.2 L493.3,2164.2Z M478.2,2233.8 L476.8,2231.6 L476.6,2228.8 L479.4,2230.5 L481.1,2232.4 L482.5,2234.4 L482.9,2236.8 L480.7,2236.0 L479.2,2235.6Z M462.0,2256.3 L457.7,2248.4 L457.9,2243.9 L463.1,2250.2 L467.1,2256.6 L469.9,2264.0 L466.2,2262.0Z M456.6,2161.6 L456.8,2165.3 L455.5,2165.1 L453.6,2159.4 L452.4,2154.0 L454.1,2155.4Z M518.5,2381.4 L517.9,2372.5 L519.7,2369.3 L522.1,2369.9 L522.7,2379.3 L521.0,2384.7Z M451.9,2332.0 L454.2,2329.0 L458.5,2328.9 L460.4,2332.9 L457.2,2335.2 L453.5,2335.5Z M537.5,2371.4 L537.4,2368.5 L540.1,2368.1 L542.0,2369.9 L543.9,2372.0 L542.3,2374.0 L540.3,2375.6 L538.0,2373.7Z M486.7,2396.9 L489.2,2395.9 L494.7,2398.1 L500.7,2400.4 L507.4,2405.6 L504.2,2406.6 L499.6,2406.7 L492.3,2401.4Z M495.8,2137.5 L494.6,2141.3 L493.1,2142.6 L492.3,2137.9 L492.3,2131.8 L494.0,2130.5 L495.6,2131.4Z M483.4,2297.4 L486.8,2297.3 L488.2,2305.0 L486.4,2309.9 L484.3,2312.8 L482.5,2308.1 L480.8,2301.6Z M436.3,2240.5 L433.8,2241.3 L433.9,2238.7 L433.4,2236.6 L434.9,2234.5 L437.4,2234.9 L438.7,2236.8 L439.0,2238.8 L438.0,2240.4Z M570.5,2388.5 L564.7,2385.1 L565.7,2383.9 L565.4,2381.8 L572.0,2384.5 L574.6,2387.7 L579.2,2391.1 L574.4,2389.6Z M430.8,2326.6 L433.2,2323.9 L437.1,2326.7 L435.6,2334.7 L433.4,2338.3 L429.4,2335.0Z M479.5,2119.1 L480.3,2117.9 L482.7,2124.4 L484.3,2128.6 L486.3,2135.4 L483.8,2132.1 L481.4,2125.9 L478.4,2119.5Z M492.3,2362.4 L495.0,2366.1 L488.7,2362.6 L483.3,2357.9 L481.8,2354.9 L488.0,2358.8Z M485.1,2233.5 L482.6,2234.2 L479.3,2229.6 L479.3,2225.0 L481.1,2221.6 L484.7,2228.2Z M573.3,2431.7 L570.4,2426.9 L574.8,2427.0 L579.9,2429.6 L585.5,2434.3 L583.7,2436.4 L579.9,2437.7Z M489.9,2245.2 L487.8,2241.1 L486.0,2240.2 L484.4,2234.7 L485.9,2229.5 L486.2,2222.1 L488.3,2225.4 L490.4,2225.5 L490.6,2232.7 L491.5,2240.1Z M497.6,2118.1 L498.9,2115.7 L500.7,2116.2 L502.1,2123.5 L503.7,2128.7 L502.8,2132.2 L503.1,2139.6 L501.0,2135.0 L499.7,2130.6 L499.3,2126.1Z M478.4,2393.3 L474.7,2393.4 L471.3,2391.2 L465.2,2388.7 L465.1,2386.8 L470.3,2387.1 L475.7,2389.4 L480.2,2390.6 L480.7,2392.1 L484.2,2394.6Z M509.5,2122.8 L504.7,2115.8 L500.9,2104.7 L506.6,2109.3 L511.4,2115.3 L514.5,2125.7Z M496.8,2210.3 L495.0,2213.4 L492.6,2213.8 L489.9,2210.1 L488.9,2203.2 L490.8,2200.5 L492.2,2198.9 L494.2,2199.7 L496.9,2203.7Z M513.5,2409.4 L512.9,2411.2 L511.7,2414.5 L510.2,2409.8 L507.8,2407.5 L508.3,2404.3 L508.7,2400.4 L511.3,2401.4 L512.9,2404.8 L515.2,2407.3Z M466.3,2243.1 L471.1,2246.4 L473.2,2249.3 L468.0,2251.6 L460.5,2248.5 L459.2,2244.4Z M475.9,2129.2 L477.0,2121.1 L479.0,2119.3 L480.1,2120.1 L481.9,2118.6 L482.6,2124.5 L480.2,2130.4 L479.0,2139.0 L477.2,2138.8 L475.9,2136.2Z M481.2,2234.4 L476.7,2232.1 L474.9,2228.9 L470.3,2224.4 L474.8,2225.5 L477.3,2225.1 L481.0,2228.6 L486.9,2231.9 L485.4,2233.7 L485.5,2236.1Z M540.4,2398.9 L535.1,2396.0 L529.4,2390.6 L530.9,2389.5 L534.9,2391.1 L540.0,2395.4 L544.2,2399.2 L546.6,2402.9Z M438.2,2222.9 L440.3,2223.1 L442.6,2227.2 L444.6,2230.5 L444.2,2233.1 L440.5,2229.7 L439.2,2226.0Z M452.6,2159.5 L453.2,2170.9 L451.1,2172.7 L448.8,2172.7 L447.1,2161.8 L448.1,2154.0 L450.1,2152.7Z M485.4,2370.9 L482.9,2371.8 L480.9,2371.6 L478.2,2372.5 L476.9,2370.2 L476.1,2368.2 L476.7,2366.1 L479.7,2366.2 L482.5,2366.6 L483.6,2368.8Z M503.0,2363.0 L511.2,2364.4 L519.5,2365.7 L515.6,2367.6 L506.6,2366.5 L498.8,2364.9Z M447.3,2153.8 L445.3,2148.8 L445.0,2145.7 L445.4,2144.1 L447.6,2147.8 L449.1,2151.1 L451.4,2155.9 L451.5,2159.0 L449.4,2156.6Z M427.5,2281.3 L426.7,2284.5 L424.4,2279.9 L422.3,2270.2 L422.0,2262.6 L422.3,2257.0 L424.5,2260.2 L427.0,2267.6 L428.6,2278.0Z M682.5,2476.2 L676.2,2477.6 L669.7,2475.5 L668.4,2473.6 L670.6,2472.1 L676.4,2473.5Z M625.9,2449.6 L631.7,2448.0 L635.8,2448.6 L639.1,2451.1 L635.4,2455.2 L629.2,2455.9 L626.9,2453.2Z M654.7,2460.6 L651.6,2460.3 L649.8,2459.1 L647.2,2456.4 L649.6,2454.9 L652.0,2453.6 L654.8,2456.7Z M531.6,2391.6 L530.4,2388.7 L529.9,2383.9 L532.4,2384.4 L534.2,2385.4 L535.8,2389.7 L533.4,2391.4Z M459.7,2222.0 L460.1,2213.9 L462.5,2207.4 L465.5,2202.9 L465.1,2211.7 L464.3,2218.6 L461.7,2224.6Z" fill="none" stroke="#000" stroke-width="1.8" stroke-linejoin="round"/>
</g>
<rect x="177.5" y="177.5" width="1674.0" height="2309.5" fill="none" stroke="#000" stroke-width="3.3"/>
<text x="1004.5" y="80.2" font-size="62.5" text-anchor="middle">SAMeT - Temperatura Máxima</text>
<text x="1024.5" y="153" font-size="62.5" text-anchor="middle">Válida para 09/02/2012</text>
<text x="157" y="293.4" font-size="50" text-anchor="end">10°N</text>
<text x="157" y="628.2" font-size="50" text-anchor="end">0°</text>
<text x="157" y="962.9" font-size="50" text-anchor="end">10°S</text>
<text x="157" y="1297.7" font-size="50" text-anchor="end">20°S</text>
<text x="157" y="1632.4" font-size="50" text-anchor="end">30°S</text>
<text x="157" y="1967.2" font-size="50" text-anchor="end">40°S</text>
<text x="157" y="2301.9" font-size="50" text-anchor="end">50°S</text>
<text x="277.9" y="2547" font-size="50" text-anchor="middle">80°W</text>
<text x="612.7" y="2547" font-size="50" text-anchor="middle">70°W</text>
<text x="947.4" y="2547" font-size="50" text-anchor="middle">60°W</text>
<text x="1282.2" y="2547" font-size="50" text-anchor="middle">50°W</text>
<text x="1616.9" y="2547" font-size="50" text-anchor="middle">40°W</text>
<g shape-rendering="crispEdges">
<rect x="1893.4" y="282.20" width="51.5" height="24.20" fill="#6d0220"/>
<rect x="1893.4" y="305.80" width="51.5" height="24.20" fill="#760521"/>
<rect x="1893.4" y="329.40" width="51.5" height="24.20" fill="#7f0823"/>
<rect x="1893.4" y="353.00" width="51.5" height="24.20" fill="#870a24"/>
<rect x="1893.4" y="376.60" width="51.5" height="24.20" fill="#900d26"/>
<rect x="1893.4" y="400.21" width="51.5" height="24.20" fill="#991027"/>
<rect x="1893.4" y="423.81" width="51.5" height="24.20" fill="#9f1228"/>
<rect x="1893.4" y="447.41" width="51.5" height="24.20" fill="#a81529"/>
<rect x="1893.4" y="471.01" width="51.5" height="24.20" fill="#b1182b"/>
<rect x="1893.4" y="494.61" width="51.5" height="24.20" fill="#b61f2e"/>
<rect x="1893.4" y="518.21" width="51.5" height="24.20" fill="#ba2832"/>
<rect x="1893.4" y="541.81" width="51.5" height="24.20" fill="#be3036"/>
<rect x="1893.4" y="565.41" width="51.5" height="24.20" fill="#c13639"/>
<rect x="1893.4" y="589.01" width="51.5" height="24.20" fill="#c53e3d"/>
<rect x="1893.4" y="612.62" width="51.5" height="24.20" fill="#c94741"/>
<rect x="1893.4" y="636.22" width="51.5" height="24.20" fill="#ce4f45"/>
<rect x="1893.4" y="659.82" width="51.5" height="24.20" fill="#d25849"/>
<rect x="1893.4" y="683.42" width="51.5" height="24.20" fill="#d6604d"/>
<rect x="1893.4" y="707.02" width="51.5" height="24.20" fill="#da6853"/>
<rect x="1893.4" y="730.62" width="51.5" height="24.20" fill="#dc6e57"/>
<rect x="1893.4" y="754.22" width="51.5" height="24.20" fill="#df765e"/>
<rect x="1893.4" y="777.82" width="51.5" height="24.20" fill="#e37e64"/>
<rect x="1893.4" y="801.42" width="51.5" height="24.20" fill="#e6866a"/>
<rect x="1893.4" y="825.03" width="51.5" height="24.20" fill="#ea8e70"/>
<rect x="1893.4" y="848.63" width="51.5" height="24.20" fill="#ee9677"/>
<rect x="1893.4" y="872.23" width="51.5" height="24.20" fill="#f09c7b"/>
<rect x="1893.4" y="895.83" width="51.5" height="24.20" fill="#f3a481"/>
<rect x="1893.4" y="919.43" width="51.5" height="24.20" fill="#f5aa89"/>
<rect x="1893.4" y="943.03" width="51.5" height="24.20" fill="#f6b191"/>
<rect x="1893.4" y="966.63" width="51.5" height="24.20" fill="#f7b799"/>
<rect x="1893.4" y="990.23" width="51.5" height="24.20" fill="#f8bda1"/>
<rect x="1893.4" y="1013.83" width="51.5" height="24.20" fill="#f9c4a9"/>
<rect x="1893.4" y="1037.44" width="51.5" height="24.20" fill="#fac8af"/>
<rect x="1893.4" y="1061.04" width="51.5" height="24.20" fill="#fbceb7"/>
<rect x="1893.4" y="1084.64" width="51.5" height="24.20" fill="#fcd5bf"/>
<rect x="1893.4" y="1108.24" width="51.5" height="24.20" fill="#fddbc7"/>
<rect x="1893.4" y="1131.84" width="51.5" height="24.20" fill="#fcdecd"/>
<rect x="1893.4" y="1155.44" width="51.5" height="24.20" fill="#fce2d2"/>
<rect x="1893.4" y="1179.04" width="51.5" height="24.20" fill="#fbe4d6"/>
<rect x="1893.4" y="1202.64" width="51.5" height="24.20" fill="#fae7dc"/>
<rect x="1893.4" y="1226.24" width="51.5" height="24.20" fill="#faeae1"/>
<rect x="1893.4" y="1249.85" width="51.5" height="24.20" fill="#f9eee7"/>
<rect x="1893.4" y="1273.45" width="51.5" height="24.20" fill="#f8f1ed"/>
<rect x="1893.4" y="1297.05" width="51.5" height="24.20" fill="#f8f4f2"/>
<rect x="1893.4" y="1320.65" width="51.5" height="24.20" fill="#f7f6f6"/>
<rect x="1893.4" y="1344.25" width="51.5" height="24.20" fill="#f3f5f6"/>
<rect x="1893.4" y="1367.85" width="51.5" height="24.20" fill="#eff3f5"/>
<rect x="1893.4" y="1391.45" width="51.5" height="24.20" fill="#eaf1f5"/>
<rect x="1893.4" y="1415.05" width="51.5" height="24.20" fill="#e6eff4"/>
<rect x="1893.4" y="1438.66" width="51.5" height="24.20" fill="#e1edf3"/>
<rect x="1893.4" y="1462.26" width="51.5" height="24.20" fill="#ddebf2"/>
<rect x="1893.4" y="1485.86" width="51.5" height="24.20" fill="#dae9f2"/>
<rect x="1893.4" y="1509.46" width="51.5" height="24.20" fill="#d5e7f1"/>
<rect x="1893.4" y="1533.06" width="51.5" height="24.20" fill="#d1e5f0"/>
<rect x="1893.4" y="1556.66" width="51.5" height="24.20" fill="#cae1ee"/>
<rect x="1893.4" y="1580.26" width="51.5" height="24.20" fill="#c2ddec"/>
<rect x="1893.4" y="1603.86" width="51.5" height="24.20" fill="#bbdaea"/>
<rect x="1893.4" y="1627.46" width="51.5" height="24.20" fill="#b6d7e8"/>
<rect x="1893.4" y="1651.07" width="51.5" height="24.20" fill="#aed3e6"/>
<rect x="1893.4" y="1674.67" width="51.5" height="24.20" fill="#a7d0e4"/>
<rect x="1893.4" y="1698.27" width="51.5" height="24.20" fill="#a0cce2"/>
<rect x="1893.4" y="1721.87" width="51.5" height="24.20" fill="#98c8e0"/>
<rect x="1893.4" y="1745.47" width="51.5" height="24.20" fill="#90c4dd"/>
<rect x="1893.4" y="1769.07" width="51.5" height="24.20" fill="#87beda"/>
<rect x="1893.4" y="1792.67" width="51.5" height="24.20" fill="#81bad8"/>
<rect x="1893.4" y="1816.27" width="51.5" height="24.20" fill="#78b4d5"/>
<rect x="1893.4" y="1839.87" width="51.5" height="24.20" fill="#6eaed2"/>
<rect x="1893.4" y="1863.48" width="51.5" height="24.20" fill="#65a9cf"/>
<rect x="1893.4" y="1887.08" width="51.5" height="24.20" fill="#5ca3cb"/>
<rect x="1893.4" y="1910.68" width="51.5" height="24.20" fill="#529dc8"/>
<rect x="1893.4" y="1934.28" width="51.5" height="24.20" fill="#4c99c6"/>
<rect x="1893.4" y="1957.88" width="51.5" height="24.20" fill="#4393c3"/>
<rect x="1893.4" y="1981.48" width="51.5" height="24.20" fill="#3f8ec0"/>
<rect x="1893.4" y="2005.08" width="51.5" height="24.20" fill="#3b88be"/>
<rect x="1893.4" y="2028.68" width="51.5" height="24.20" fill="#3783bb"/>
<rect x="1893.4" y="2052.28" width="51.5" height="24.20" fill="#337eb8"/>
<rect x="1893.4" y="2075.89" width="51.5" height="24.20" fill="#2f79b5"/>
<rect x="1893.4" y="2099.49" width="51.5" height="24.20" fill="#2c75b4"/>
<rect x="1893.4" y="2123.09" width="51.5" height="24.20" fill="#2870b1"/>
<rect x="1893.4" y="2146.69" width="51.5" height="24.20" fill="#246aae"/>
<rect x="1893.4" y="2170.29" width="51.5" height="24.20" fill="#2065ab"/>
<rect x="1893.4" y="2193.89" width="51.5" height="24.20" fill="#1d5fa2"/>
<rect x="1893.4" y="2217.49" width="51.5" height="24.20" fill="#1a5899"/>
<rect x="1893.4" y="2241.09" width="51.5" height="24.20" fill="#185493"/>
<rect x="1893.4" y="2264.69" width="51.5" height="24.20" fill="#144e8a"/>
<rect x="1893.4" y="2288.30" width="51.5" height="24.20" fill="#114781"/>
<rect x="1893.4" y="2311.90" width="51.5" height="24.20" fill="#0e4179"/>
<rect x="1893.4" y="2335.50" width="51.5" height="24.20" fill="#0a3b70"/>
<rect x="1893.4" y="2359.10" width="51.5" height="24.20" fill="#073467"/>
</g>
<path d="M1893.4,282.2 L1919.15,178.0 L1944.9,282.2Z" fill="#67001f"/>
<path d="M1893.4,2382.7 L1919.15,2487.0 L1944.9,2382.7Z" fill="#053061"/>
<path d="M1893.4,282.2 L1919.15,178.0 L1944.9,282.2 L1944.9,2382.7 L1919.15,2487.0 L1893.4,2382.7Z" fill="none" stroke="#000" stroke-width="3.3" stroke-linejoin="miter"/>
<line x1="1944.9" x2="1961.1000000000001" y1="282.2" y2="282.2" stroke="#000" stroke-width="3.3"/>
<text x="1974.5" y="302.0" font-size="50">40</text>
<line x1="1944.9" x2="1961.1000000000001" y1="494.6" y2="494.6" stroke="#000" stroke-width="3.3"/>
<text x="1974.5" y="514.4" font-size="50">35</text>
<line x1="1944.9" x2="1961.1000000000001" y1="730.6" y2="730.6" stroke="#000" stroke-width="3.3"/>
<text x="1974.5" y="750.4" font-size="50">30</text>
<line x1="1944.9" x2="1961.1000000000001" y1="966.6" y2="966.6" stroke="#000" stroke-width="3.3"/>
<text x="1974.5" y="986.4" font-size="50">25</text>
<line x1="1944.9" x2="1961.1000000000001" y1="1202.6" y2="1202.6" stroke="#000" stroke-width="3.3"/>
<text x="1974.5" y="1222.4" font-size="50">20</text>
<line x1="1944.9" x2="1961.1000000000001" y1="1438.7" y2="1438.7" stroke="#000" stroke-width="3.3"/>
<text x="1974.5" y="1458.5" font-size="50">15</text>
<line x1="1944.9" x2="1961.1000000000001" y1="1674.7" y2="1674.7" stroke="#000" stroke-width="3.3"/>
<text x="1974.5" y="1694.5" font-size="50">10</text>
<line x1="1944.9" x2="1961.1000000000001" y1="1910.7" y2="1910.7" stroke="#000" stroke-width="3.3"/>
<text x="1974.5" y="1930.5" font-size="50">5</text>
<line x1="1944.9" x2="1961.1000000000001" y1="2146.7" y2="2146.7" stroke="#000" stroke-width="3.3"/>
<text x="1974.5" y="2166.5" font-size="50">0</text>
<line x1="1944.9" x2="1961.1000000000001" y1="2382.7" y2="2382.7" stroke="#000" stroke-width="3.3"/>
<text x="1974.5" y="2402.5" font-size="50">-5</text>
<text x="1842" y="174" font-size="50">(°C)</text>
<g font-size="41.67" text-anchor="middle" stroke-linejoin="round" fill="#fff" stroke="#000" stroke-width="8.4" paint-order="stroke">
<text x="722.5" y="271.1">26</text>
<text x="483.1" y="469.3">18</text>
<text x="338.0" y="631.0">20</text>
<text x="1018.5" y="395.9">31</text>
<text x="1118.7" y="427.8">32</text>
<text x="1209.5" y="456.8">29</text>
<text x="932.9" y="527.9">33</text>
<text x="954.7" y="726.7">32</text>
<text x="1254.5" y="622.2">27</text>
<text x="1340.1" y="671.6">29</text>
<text x="1480.8" y="706.4">31</text>
<text x="1673.4" y="751.5">30</text>
<text x="1531.3" y="793.6">32</text>
<text x="1786.6" y="816.8">30</text>
<text x="1796.8" y="858.8">31</text>
<text x="1796.8" y="893.7">32</text>
<text x="1769.2" y="945.9">31</text>
<text x="1722.8" y="988.0">33</text>
<text x="1674.9" y="1057.6">31</text>
<text x="1493.5" y="1289.8">31</text>
<text x="1614.0" y="1305.7">34</text>
<text x="1346.1" y="964.8">30</text>
<text x="1086.4" y="1144.7">35</text>
<text x="1360.6" y="1150.5">30</text>
<text x="1315.6" y="1181.0">33</text>
<text x="1135.1" y="1307.2">33</text>
<text x="693.8" y="956.1">33</text>
<text x="825.8" y="915.4">33</text>
<text x="680.7" y="1173.7">13</text>
<text x="386.5" y="1022.8">28</text>
<text x="600.9" y="1740.7">32</text>
<text x="1037.1" y="1467.9">31</text>
<text x="1314.2" y="1475.1">32</text>
<text x="1338.9" y="1547.7">32</text>
<text x="1248.9" y="1627.5">30</text>
<text x="1009.5" y="1787.1">27</text>
<text x="1082.0" y="1788.5">25</text>
<text x="1402.7" y="1411.3">32</text>
<text x="1518.2" y="1389.4">32</text>
</g>
<g transform="translate(1620,2230) scale(0.13930)">
<path d="M150,900 C150,1180 380,1400 660,1400 C1000,1400 1250,1130 1275,720 L1335,720 L1160,545 L975,720 L1040,720 C1010,960 900,1130 760,1200 C640,1265 470,1270 350,1180 C250,1110 190,1020 150,900Z" fill="#0072b8"/>
<path d="M152,930 C140,690 300,450 540,450 C740,450 840,590 845,795 L895,795 L710,955 L555,795 L620,795 C620,700 550,635 440,635 C300,635 170,790 175,960" fill="none" stroke="#0072b8" stroke-width="12" stroke-linejoin="miter"/>
<circle cx="710" cy="1095" r="122" fill="#f39200"/>
<text x="222" y="1008" font-size="178" font-weight="bold" font-style="italic" textLength="370" lengthAdjust="spacingAndGlyphs" fill="#111" style="font-family:'Liberation Sans','DejaVu Sans',sans-serif">INPE</text>
</g>
</svg></body></html>
